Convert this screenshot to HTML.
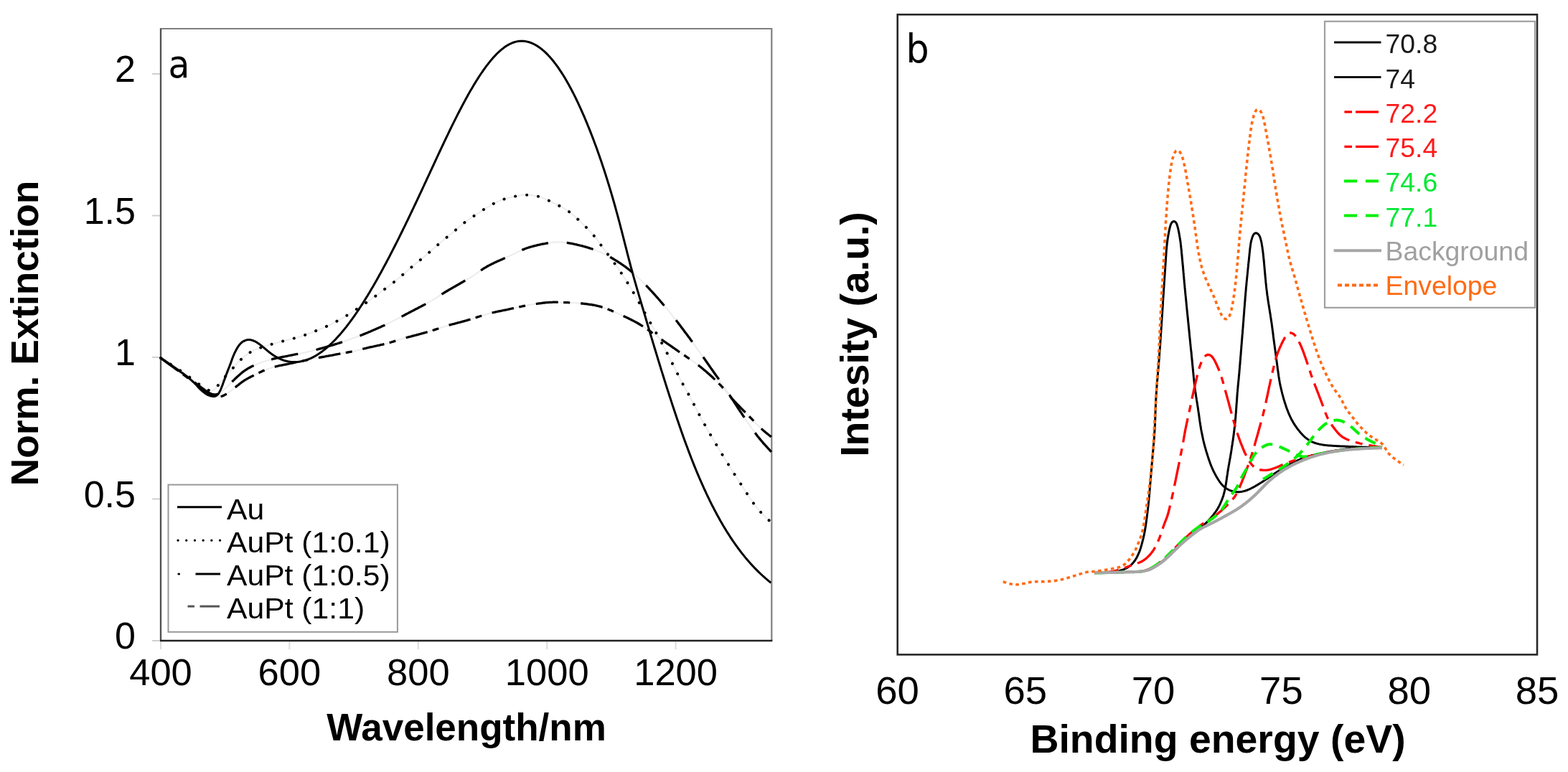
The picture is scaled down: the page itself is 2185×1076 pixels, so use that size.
<!DOCTYPE html><html><head><meta charset="utf-8"><title>Figure</title><style>html,body{margin:0;padding:0;background:#fff;}svg{display:block;}text{font-family:"Liberation Sans",Arial,sans-serif;}</style></head><body>
<svg width="2185" height="1076" viewBox="0 0 2185 1076">
<rect width="2185" height="1076" fill="#fff"/>
<line x1="212" y1="893.0" x2="224" y2="893.0" stroke="#d0d0d0" stroke-width="2"/>
<line x1="212" y1="695.5" x2="224" y2="695.5" stroke="#d0d0d0" stroke-width="2"/>
<line x1="212" y1="498.0" x2="224" y2="498.0" stroke="#d0d0d0" stroke-width="2"/>
<line x1="212" y1="300.5" x2="224" y2="300.5" stroke="#d0d0d0" stroke-width="2"/>
<line x1="212" y1="103.0" x2="224" y2="103.0" stroke="#d0d0d0" stroke-width="2"/>
<line x1="224.0" y1="894" x2="224.0" y2="905" stroke="#dcdcdc" stroke-width="2"/>
<line x1="403.4" y1="894" x2="403.4" y2="905" stroke="#dcdcdc" stroke-width="2"/>
<line x1="582.8" y1="894" x2="582.8" y2="905" stroke="#dcdcdc" stroke-width="2"/>
<line x1="762.2" y1="894" x2="762.2" y2="905" stroke="#dcdcdc" stroke-width="2"/>
<line x1="941.6" y1="894" x2="941.6" y2="905" stroke="#dcdcdc" stroke-width="2"/>
<path d="M224.0 893.0 V40.0 H1075.3 V893.0" fill="none" stroke="#808080" stroke-width="2.2"/>
<line x1="224.0" y1="40.0" x2="224.0" y2="893.0" stroke="#505050" stroke-width="2.2"/>
<line x1="223.0" y1="893.0" x2="1076.3" y2="893.0" stroke="#222" stroke-width="2.4"/>
<text x="189" y="904.0" font-size="52" text-anchor="end" fill="#000">0</text>
<text x="189" y="706.5" font-size="52" text-anchor="end" fill="#000">0.5</text>
<text x="189" y="509.0" font-size="52" text-anchor="end" fill="#000">1</text>
<text x="189" y="311.5" font-size="52" text-anchor="end" fill="#000">1.5</text>
<text x="189" y="114.0" font-size="52" text-anchor="end" fill="#000">2</text>
<text x="224.0" y="954.5" font-size="52.5" text-anchor="middle" fill="#000">400</text>
<text x="403.4" y="954.5" font-size="52.5" text-anchor="middle" fill="#000">600</text>
<text x="582.8" y="954.5" font-size="52.5" text-anchor="middle" fill="#000">800</text>
<text x="762.2" y="954.5" font-size="52.5" text-anchor="middle" fill="#000">1000</text>
<text x="941.6" y="954.5" font-size="52.5" text-anchor="middle" fill="#000">1200</text>
<text x="650" y="1032" font-size="53" font-weight="bold" text-anchor="middle" fill="#000">Wavelength/nm</text>
<text transform="translate(52.8,464.5) rotate(-90)" font-size="53.2" font-weight="bold" text-anchor="middle" fill="#000">Norm. Extinction</text>
<text transform="translate(234.5,108) scale(0.92,1)" x="0" y="0" font-size="53" style="font-family:DejaVu Sans,sans-serif" fill="#000">a</text>
<path d="M224.0 499.0L225.3 499.8L226.5 500.6L227.8 501.4L229.1 502.2L230.4 503.0L231.6 503.8L232.9 504.6L234.2 505.4L235.5 506.2L236.7 507.0L238.0 507.8L239.3 508.6L240.5 509.4L241.8 510.2L243.1 511.0L244.3 511.8L245.6 512.6L246.8 513.5L248.1 514.3L249.3 515.1L250.6 516.0L251.8 516.8L253.0 517.7L254.3 518.5L255.5 519.4L256.7 520.3L258.0 521.1L259.2 522.0L260.4 522.9L261.6 523.8L262.8 524.7L264.0 525.6L265.2 526.5L266.4 527.4L267.6 528.2L268.8 529.1L270.1 530.0L271.3 530.9L272.5 531.8L273.7 532.7L274.9 533.6L276.1 534.5L277.3 535.4L278.5 536.3L279.7 537.1L281.0 538.0L282.2 538.9L283.4 539.7L284.6 540.6L285.9 541.4L287.1 542.1L288.4 542.8L289.6 543.4L290.9 543.9L292.1 544.3L293.3 544.4L294.5 544.4L295.7 544.2L296.8 543.8L297.9 543.3L298.9 542.5L299.9 541.7L300.8 540.7L301.8 539.6L302.7 538.5L303.6 537.4L304.5 536.2L305.5 535.0L306.4 533.8L307.3 532.7L308.3 531.5L309.2 530.3L310.2 529.2L311.1 528.0L312.1 526.9L313.1 525.8L314.1 524.6L315.1 523.5L316.1 522.4L317.1 521.3L318.1 520.2L319.1 519.1L320.2 518.0L321.2 516.9L322.2 515.7L323.2 514.6L324.2 513.5L325.1 512.4L326.1 511.2L327.1 510.1L328.1 509.0L329.1 507.9L330.1 506.8L331.1 505.6L332.2 504.6L333.2 503.5L334.3 502.4L335.4 501.4L336.5 500.4L337.6 499.4L338.7 498.4L339.8 497.4L341.0 496.5L342.2 495.6L343.4 494.6L344.6 493.8L345.8 492.9L347.1 492.1L348.3 491.3L349.6 490.5L350.9 489.8L352.2 489.1L353.6 488.4L354.9 487.8L356.3 487.2L357.7 486.6L359.1 486.1L360.5 485.5L361.9 485.0L363.3 484.5L364.7 484.0L366.1 483.5L367.5 483.1L369.0 482.6L370.4 482.2L371.8 481.7L373.3 481.3L374.7 480.9L376.2 480.4L377.6 480.0L379.1 479.6L380.5 479.2L381.9 478.8L383.4 478.4L384.8 478.0L386.3 477.6L387.7 477.2L389.2 476.8L390.6 476.4L392.1 476.1L393.5 475.7L395.0 475.3L396.5 474.9L397.9 474.6L399.4 474.2L400.8 473.8L402.3 473.5L403.7 473.1L405.2 472.7L406.6 472.4L408.1 472.0L409.6 471.6L411.0 471.2L412.5 470.9L413.9 470.5L415.4 470.1L416.8 469.6L418.2 469.2L419.7 468.8L421.1 468.3L422.5 467.8L423.9 467.3L425.3 466.8L426.7 466.3L428.2 465.8L429.6 465.2L431.0 464.7L432.4 464.2L433.8 463.6L435.2 463.1L436.6 462.6L438.0 462.0L439.4 461.5L440.8 460.9L442.2 460.4L443.6 459.8L445.0 459.3L446.4 458.7L447.7 458.1L449.1 457.6L450.5 457.0L451.9 456.3L453.2 455.7L454.6 455.1L456.0 454.5L457.3 453.8L458.7 453.2L460.0 452.5L461.4 451.8L462.7 451.2L464.0 450.5L465.4 449.8L466.7 449.1L468.0 448.4L469.4 447.7L470.7 447.0L472.0 446.3L473.3 445.5L474.6 444.8L475.9 444.1L477.2 443.3L478.5 442.6L479.8 441.8L481.1 441.0L482.4 440.3L483.7 439.5L485.0 438.7L486.2 437.9L487.5 437.1L488.8 436.3L490.0 435.5L491.3 434.7L492.5 433.8L493.8 433.0L495.1 432.2L496.3 431.3L497.5 430.5L498.8 429.7L500.0 428.8L501.3 428.0L502.5 427.2L503.8 426.3L505.0 425.5L506.3 424.6L507.5 423.8L508.7 422.9L510.0 422.1L511.2 421.2L512.4 420.4L513.7 419.5L514.9 418.7L516.1 417.8L517.4 416.9L518.6 416.1L519.8 415.2L521.0 414.3L522.2 413.4L523.4 412.5L524.7 411.6L525.9 410.7L527.1 409.8L528.2 408.9L529.4 408.0L530.6 407.1L531.8 406.2L533.0 405.3L534.2 404.4L535.4 403.5L536.6 402.6L537.8 401.7L539.0 400.8L540.2 399.9L541.5 399.0L542.7 398.1L543.8 397.2L545.0 396.3L546.2 395.4L547.4 394.4L548.6 393.5L549.8 392.6L550.9 391.6L552.1 390.7L553.2 389.7L554.4 388.7L555.5 387.8L556.7 386.8L557.8 385.8L559.0 384.8L560.1 383.9L561.2 382.9L562.4 381.9L563.5 380.9L564.6 379.9L565.8 378.9L566.9 378.0L568.0 377.0L569.2 376.0L570.3 375.0L571.4 374.0L572.6 373.0L573.7 372.1L574.9 371.1L576.0 370.1L577.2 369.2L578.3 368.2L579.5 367.3L580.6 366.3L581.8 365.4L583.0 364.4L584.1 363.5L585.3 362.5L586.5 361.6L587.6 360.6L588.8 359.7L590.0 358.7L591.1 357.8L592.3 356.8L593.4 355.8L594.5 354.8L595.7 353.9L596.8 352.9L598.0 351.9L599.1 350.9L600.2 349.9L601.4 348.9L602.5 347.9L603.6 347.0L604.7 346.0L605.9 345.0L607.0 344.0L608.1 343.0L609.3 342.0L610.4 341.0L611.5 340.1L612.7 339.1L613.8 338.1L615.0 337.1L616.1 336.2L617.2 335.2L618.4 334.2L619.6 333.3L620.7 332.3L621.9 331.3L623.0 330.4L624.2 329.4L625.4 328.5L626.5 327.6L627.7 326.6L628.9 325.7L630.0 324.7L631.2 323.7L632.3 322.8L633.5 321.8L634.6 320.9L635.8 319.9L636.9 318.9L638.0 317.9L639.2 316.9L640.3 316.0L641.5 315.0L642.6 314.0L643.8 313.1L644.9 312.1L646.1 311.2L647.3 310.2L648.4 309.3L649.6 308.4L650.9 307.5L652.1 306.6L653.3 305.8L654.5 304.9L655.8 304.1L657.0 303.3L658.3 302.4L659.5 301.6L660.8 300.8L662.1 300.0L663.3 299.2L664.6 298.3L665.8 297.5L667.1 296.7L668.3 295.8L669.6 295.0L670.8 294.2L672.1 293.4L673.3 292.5L674.6 291.7L675.9 290.9L677.1 290.1L678.4 289.3L679.7 288.5L681.0 287.8L682.3 287.0L683.5 286.2L684.8 285.5L686.1 284.7L687.5 284.0L688.8 283.3L690.1 282.6L691.5 282.0L692.8 281.3L694.2 280.7L695.6 280.1L696.9 279.5L698.3 279.0L699.7 278.5L701.2 278.0L702.6 277.5L704.0 277.0L705.4 276.6L706.9 276.2L708.3 275.8L709.8 275.4L711.2 275.1L712.7 274.7L714.2 274.4L715.6 274.1L717.1 273.8L718.6 273.5L720.1 273.2L721.5 273.0L723.0 272.7L724.5 272.5L726.0 272.3L727.5 272.1L729.0 272.0L730.4 271.9L731.9 271.8L733.4 271.7L734.9 271.7L736.4 271.7L737.9 271.8L739.4 271.9L740.9 272.0L742.4 272.2L743.8 272.4L745.3 272.7L746.8 273.0L748.2 273.3L749.7 273.7L751.1 274.1L752.5 274.6L753.9 275.1L755.4 275.6L756.8 276.1L758.2 276.7L759.5 277.2L760.9 277.8L762.3 278.4L763.7 279.0L765.0 279.7L766.4 280.3L767.7 281.0L769.1 281.6L770.4 282.3L771.7 283.0L773.1 283.7L774.4 284.4L775.8 285.0L777.1 285.7L778.4 286.4L779.8 287.1L781.1 287.8L782.4 288.5L783.8 289.2L785.1 289.9L786.4 290.6L787.6 291.4L788.9 292.2L790.2 293.0L791.4 293.9L792.6 294.8L793.8 295.7L795.0 296.6L796.1 297.5L797.3 298.5L798.4 299.5L799.6 300.4L800.7 301.4L801.8 302.4L802.9 303.4L804.0 304.5L805.1 305.5L806.2 306.5L807.3 307.5L808.4 308.5L809.5 309.6L810.6 310.6L811.7 311.7L812.8 312.7L813.8 313.8L814.9 314.8L815.9 315.9L817.0 317.0L818.0 318.0L819.1 319.1L820.1 320.2L821.2 321.3L822.2 322.4L823.2 323.5L824.2 324.6L825.2 325.7L826.2 326.9L827.2 328.0L828.1 329.1L829.1 330.3L830.0 331.5L831.0 332.6L831.9 333.8L832.8 335.0L833.7 336.2L834.5 337.5L835.4 338.7L836.3 339.9L837.1 341.1L838.0 342.4L838.9 343.6L839.8 344.8L840.6 346.0L841.5 347.2L842.4 348.4L843.3 349.6L844.2 350.8L845.1 352.0L846.1 353.2L847.0 354.4L847.9 355.6L848.8 356.8L849.7 358.0L850.6 359.2L851.5 360.4L852.4 361.6L853.3 362.8L854.2 364.0L855.1 365.2L855.9 366.4L856.8 367.7L857.7 368.9L858.6 370.1L859.4 371.3L860.3 372.6L861.2 373.8L862.0 375.0L862.9 376.3L863.7 377.5L864.5 378.7L865.4 380.0L866.2 381.2L867.0 382.5L867.9 383.8L868.7 385.0L869.5 386.3L870.3 387.5L871.1 388.8L871.9 390.1L872.7 391.4L873.5 392.6L874.3 393.9L875.0 395.2L875.8 396.5L876.6 397.8L877.4 399.1L878.1 400.3L878.9 401.6L879.7 402.9L880.5 404.2L881.2 405.5L882.0 406.8L882.8 408.1L883.5 409.4L884.3 410.7L885.0 412.0L885.8 413.3L886.5 414.6L887.3 415.9L888.0 417.2L888.8 418.5L889.5 419.8L890.2 421.1L891.0 422.4L891.7 423.7L892.4 425.0L893.2 426.4L893.9 427.7L894.6 429.0L895.3 430.3L896.1 431.6L896.8 432.9L897.5 434.2L898.2 435.6L899.0 436.9L899.7 438.2L900.4 439.5L901.2 440.8L901.9 442.1L902.6 443.4L903.4 444.7L904.1 446.0L904.8 447.3L905.6 448.6L906.3 450.0L907.1 451.3L907.8 452.6L908.6 453.9L909.3 455.2L910.1 456.5L910.8 457.8L911.6 459.1L912.3 460.4L913.1 461.7L913.8 463.0L914.6 464.3L915.3 465.6L916.0 466.9L916.8 468.2L917.5 469.5L918.2 470.8L918.9 472.1L919.7 473.5L920.4 474.8L921.1 476.1L921.8 477.4L922.5 478.7L923.2 480.1L923.9 481.4L924.6 482.7L925.3 484.1L926.0 485.4L926.7 486.7L927.4 488.1L928.1 489.4L928.8 490.7L929.5 492.1L930.2 493.4L930.9 494.7L931.5 496.1L932.2 497.4L932.9 498.7L933.6 500.1L934.3 501.4L935.0 502.7L935.6 504.1L936.3 505.4L937.0 506.8L937.7 508.1L938.3 509.4L939.0 510.8L939.7 512.1L940.4 513.5L941.0 514.8L941.7 516.2L942.4 517.5L943.0 518.9L943.7 520.2L944.4 521.5L945.1 522.9L945.8 524.2L946.4 525.6L947.1 526.9L947.8 528.2L948.5 529.5L949.2 530.9L949.9 532.2L950.6 533.5L951.3 534.9L952.0 536.2L952.8 537.5L953.5 538.8L954.2 540.1L954.9 541.4L955.6 542.8L956.4 544.1L957.1 545.4L957.8 546.7L958.5 548.0L959.3 549.3L960.0 550.7L960.7 552.0L961.4 553.3L962.1 554.6L962.9 555.9L963.6 557.3L964.3 558.6L965.0 559.9L965.7 561.2L966.4 562.6L967.1 563.9L967.8 565.2L968.5 566.5L969.2 567.9L969.9 569.2L970.6 570.5L971.3 571.9L971.9 573.2L972.6 574.5L973.3 575.9L974.0 577.2L974.7 578.5L975.4 579.9L976.1 581.2L976.8 582.5L977.6 583.8L978.3 585.2L979.0 586.5L979.7 587.8L980.4 589.1L981.2 590.4L981.9 591.7L982.6 593.0L983.4 594.3L984.1 595.6L984.9 597.0L985.6 598.3L986.3 599.6L987.1 600.9L987.8 602.2L988.6 603.5L989.4 604.8L990.1 606.1L990.9 607.3L991.6 608.6L992.4 609.9L993.2 611.2L993.9 612.5L994.7 613.8L995.4 615.1L996.2 616.4L997.0 617.7L997.7 619.0L998.5 620.3L999.3 621.6L1000.0 622.9L1000.8 624.2L1001.6 625.4L1002.3 626.7L1003.1 628.0L1003.9 629.3L1004.7 630.6L1005.4 631.9L1006.2 633.2L1007.0 634.5L1007.8 635.7L1008.6 637.0L1009.3 638.3L1010.1 639.6L1010.9 640.9L1011.7 642.1L1012.5 643.4L1013.3 644.7L1014.1 646.0L1014.9 647.2L1015.7 648.5L1016.5 649.8L1017.3 651.1L1018.1 652.3L1018.9 653.6L1019.7 654.9L1020.5 656.1L1021.3 657.4L1022.1 658.7L1022.9 659.9L1023.7 661.2L1024.5 662.5L1025.3 663.7L1026.1 665.0L1026.9 666.3L1027.8 667.5L1028.6 668.8L1029.4 670.0L1030.2 671.3L1031.0 672.6L1031.8 673.8L1032.6 675.1L1033.4 676.4L1034.3 677.6L1035.1 678.9L1035.9 680.1L1036.7 681.4L1037.5 682.7L1038.3 683.9L1039.1 685.2L1040.0 686.4L1040.8 687.7L1041.6 689.0L1042.4 690.2L1043.2 691.5L1044.1 692.7L1044.9 694.0L1045.7 695.2L1046.6 696.5L1047.4 697.7L1048.3 698.9L1049.2 700.2L1050.0 701.4L1050.9 702.6L1051.8 703.8L1052.7 705.0L1053.6 706.2L1054.6 707.4L1055.5 708.5L1056.5 709.7L1057.4 710.8L1058.4 711.9L1059.4 713.1L1060.4 714.2L1061.5 715.3L1062.5 716.4L1063.5 717.4L1064.6 718.5L1065.7 719.6L1066.7 720.6L1067.8 721.7L1068.9 722.7L1070.0 723.7L1071.1 724.8L1072.2 725.8L1073.3 726.8L1074.4 727.8" fill="none" stroke="#ececec" stroke-width="2"/>
<path d="M224.0 499.0L225.2 499.9L226.5 500.7L227.7 501.5L228.9 502.4L230.2 503.2L231.4 504.1L232.7 504.9L233.9 505.8L235.1 506.6L236.4 507.5L237.6 508.3L238.8 509.2L240.1 510.1L241.3 510.9L242.5 511.8L243.8 512.6L245.0 513.5L246.2 514.4L247.4 515.2L248.7 516.1L249.9 517.0L251.1 517.8L252.3 518.7L253.5 519.6L254.7 520.5L255.9 521.4L257.1 522.3L258.4 523.2L259.6 524.1L260.8 525.0L261.9 525.9L263.1 526.8L264.3 527.7L265.5 528.6L266.7 529.5L267.9 530.4L269.1 531.3L270.3 532.2L271.5 533.2L272.7 534.1L273.9 535.0L275.1 535.9L276.3 536.8L277.4 537.7L278.6 538.6L279.8 539.6L281.0 540.5L282.2 541.4L283.4 542.2L284.7 543.1L285.9 544.0L287.1 544.8L288.4 545.6L289.6 546.4L290.9 547.2L292.2 547.9L293.5 548.5L294.8 549.0L296.1 549.4L297.5 549.7L298.8 549.9L300.1 549.9L301.5 549.7L302.8 549.4L304.0 548.9L305.3 548.3L306.5 547.6L307.7 546.8L308.9 545.9L310.0 545.0L311.2 544.0L312.3 543.0L313.4 542.0L314.4 541.0L315.5 539.9L316.6 538.9L317.6 537.8L318.7 536.8L319.8 535.7L320.8 534.6L321.9 533.6L323.0 532.5L324.0 531.5L325.1 530.4L326.2 529.4L327.3 528.3L328.3 527.3L329.4 526.3L330.5 525.3L331.6 524.2L332.8 523.2L333.9 522.2L335.0 521.3L336.2 520.3L337.3 519.3L338.5 518.4L339.7 517.5L340.9 516.6L342.1 515.8L343.4 515.0L344.6 514.2L345.9 513.4L347.2 512.7L348.5 512.0L349.9 511.3L351.2 510.6L352.6 510.0L353.9 509.4L355.3 508.8L356.7 508.2L358.1 507.6L359.5 507.0L360.8 506.5L362.2 506.0L363.7 505.4L365.1 504.9L366.5 504.4L367.9 503.9L369.3 503.4L370.7 503.0L372.2 502.5L373.6 502.1L375.0 501.7L376.5 501.3L377.9 500.9L379.4 500.6L380.9 500.2L382.3 499.9L383.8 499.6L385.2 499.2L386.7 498.9L388.2 498.6L389.7 498.3L391.1 498.0L392.6 497.7L394.1 497.4L395.5 497.1L397.0 496.9L398.5 496.6L400.0 496.3L401.4 496.0L402.9 495.7L404.4 495.4L405.8 495.1L407.3 494.8L408.8 494.5L410.3 494.2L411.7 493.9L413.2 493.7L414.7 493.4L416.1 493.1L417.6 492.8L419.1 492.5L420.6 492.2L422.0 491.9L423.5 491.6L425.0 491.2L426.4 490.9L427.9 490.6L429.4 490.3L430.8 489.9L432.3 489.6L433.7 489.2L435.2 488.9L436.6 488.5L438.1 488.1L439.6 487.8L441.0 487.4L442.5 487.0L443.9 486.6L445.3 486.2L446.8 485.8L448.2 485.4L449.7 485.0L451.1 484.6L452.6 484.2L454.0 483.7L455.4 483.3L456.9 482.9L458.3 482.5L459.8 482.0L461.2 481.6L462.6 481.2L464.1 480.8L465.5 480.3L466.9 479.9L468.4 479.4L469.8 479.0L471.2 478.5L472.7 478.1L474.1 477.6L475.5 477.2L476.9 476.7L478.4 476.2L479.8 475.7L481.2 475.3L482.6 474.8L484.1 474.3L485.5 473.8L486.9 473.3L488.3 472.8L489.7 472.3L491.1 471.8L492.5 471.3L494.0 470.8L495.4 470.3L496.8 469.7L498.2 469.2L499.6 468.7L501.0 468.1L502.4 467.6L503.8 467.0L505.2 466.5L506.6 465.9L508.0 465.4L509.3 464.8L510.7 464.2L512.1 463.7L513.5 463.1L514.9 462.5L516.3 461.9L517.6 461.3L519.0 460.7L520.4 460.1L521.8 459.5L523.1 458.9L524.5 458.3L525.9 457.7L527.3 457.1L528.6 456.5L530.0 455.9L531.4 455.2L532.7 454.6L534.1 454.0L535.5 453.4L536.8 452.7L538.2 452.1L539.5 451.5L540.9 450.8L542.2 450.2L543.6 449.5L544.9 448.9L546.3 448.2L547.6 447.5L549.0 446.8L550.3 446.2L551.6 445.5L553.0 444.8L554.3 444.1L555.6 443.4L556.9 442.7L558.3 442.0L559.6 441.3L560.9 440.6L562.2 439.9L563.6 439.2L564.9 438.5L566.2 437.8L567.5 437.1L568.9 436.4L570.2 435.7L571.5 435.0L572.9 434.3L574.2 433.6L575.5 432.9L576.9 432.2L578.2 431.5L579.5 430.8L580.9 430.2L582.2 429.5L583.5 428.8L584.9 428.1L586.2 427.4L587.5 426.7L588.8 426.0L590.2 425.3L591.5 424.6L592.8 423.9L594.1 423.1L595.4 422.4L596.8 421.7L598.1 421.0L599.4 420.2L600.7 419.5L602.0 418.7L603.2 417.9L604.5 417.1L605.8 416.4L607.1 415.6L608.3 414.8L609.6 414.0L610.9 413.1L612.1 412.3L613.4 411.5L614.7 410.7L615.9 409.9L617.2 409.1L618.5 408.3L619.7 407.5L621.0 406.8L622.3 406.0L623.6 405.2L624.9 404.5L626.2 403.7L627.5 402.9L628.8 402.2L630.1 401.4L631.4 400.7L632.7 399.9L634.0 399.2L635.3 398.5L636.6 397.7L637.9 397.0L639.2 396.2L640.5 395.5L641.8 394.7L643.1 394.0L644.4 393.2L645.7 392.5L647.0 391.7L648.3 391.0L649.6 390.2L650.9 389.5L652.2 388.7L653.5 387.9L654.7 387.2L656.0 386.4L657.3 385.6L658.6 384.8L659.8 383.9L661.1 383.1L662.3 382.3L663.5 381.4L664.8 380.6L666.0 379.7L667.2 378.8L668.5 378.0L669.7 377.1L670.9 376.3L672.2 375.5L673.4 374.6L674.7 373.8L676.0 373.1L677.3 372.3L678.6 371.5L679.9 370.8L681.2 370.1L682.5 369.4L683.9 368.7L685.2 368.1L686.5 367.4L687.9 366.7L689.2 366.1L690.6 365.5L692.0 364.8L693.3 364.2L694.7 363.6L696.1 363.0L697.4 362.4L698.8 361.8L700.2 361.2L701.6 360.5L702.9 359.9L704.3 359.3L705.7 358.7L707.0 358.1L708.4 357.5L709.8 356.9L711.1 356.3L712.5 355.6L713.9 355.0L715.2 354.4L716.6 353.7L717.9 353.1L719.3 352.4L720.6 351.7L722.0 351.1L723.3 350.4L724.7 349.8L726.0 349.2L727.4 348.5L728.8 347.9L730.1 347.4L731.5 346.8L732.9 346.3L734.4 345.8L735.8 345.3L737.2 344.8L738.6 344.4L740.1 344.0L741.5 343.6L743.0 343.2L744.4 342.8L745.9 342.4L747.3 342.1L748.8 341.7L750.2 341.4L751.7 341.1L753.2 340.7L754.6 340.4L756.1 340.1L757.6 339.8L759.0 339.6L760.5 339.3L762.0 339.0L763.5 338.8L765.0 338.5L766.4 338.3L767.9 338.1L769.4 337.9L770.9 337.8L772.4 337.6L773.9 337.5L775.4 337.5L776.9 337.4L778.4 337.4L779.9 337.4L781.4 337.4L782.8 337.5L784.3 337.6L785.8 337.8L787.3 337.9L788.8 338.1L790.3 338.3L791.8 338.6L793.2 338.8L794.7 339.1L796.2 339.4L797.7 339.7L799.1 340.0L800.6 340.3L802.1 340.6L803.5 340.9L805.0 341.3L806.4 341.6L807.9 342.0L809.4 342.3L810.8 342.7L812.3 343.1L813.7 343.5L815.1 343.9L816.6 344.3L818.0 344.7L819.5 345.2L820.9 345.6L822.3 346.1L823.8 346.5L825.2 347.0L826.6 347.5L828.0 348.0L829.4 348.5L830.8 349.1L832.2 349.6L833.6 350.2L835.0 350.7L836.4 351.3L837.7 351.9L839.1 352.6L840.4 353.2L841.8 353.8L843.1 354.5L844.5 355.2L845.8 355.9L847.1 356.6L848.5 357.3L849.8 358.0L851.1 358.8L852.4 359.5L853.7 360.3L855.0 361.0L856.2 361.8L857.5 362.6L858.8 363.4L860.1 364.2L861.3 365.0L862.6 365.8L863.9 366.6L865.1 367.4L866.3 368.3L867.6 369.1L868.8 370.0L870.0 370.9L871.2 371.7L872.4 372.6L873.6 373.5L874.8 374.4L876.0 375.4L877.2 376.3L878.3 377.3L879.5 378.2L880.7 379.2L881.8 380.1L882.9 381.1L884.0 382.1L885.2 383.1L886.3 384.1L887.4 385.1L888.5 386.2L889.6 387.2L890.7 388.2L891.7 389.3L892.8 390.3L893.9 391.4L895.0 392.4L896.0 393.5L897.1 394.5L898.1 395.6L899.2 396.7L900.2 397.8L901.3 398.8L902.3 399.9L903.4 401.0L904.4 402.1L905.4 403.2L906.4 404.3L907.5 405.4L908.5 406.5L909.5 407.6L910.5 408.7L911.5 409.8L912.5 410.9L913.5 412.0L914.5 413.2L915.5 414.3L916.5 415.4L917.5 416.5L918.5 417.7L919.4 418.8L920.4 420.0L921.4 421.1L922.4 422.2L923.3 423.4L924.3 424.5L925.3 425.7L926.2 426.8L927.2 428.0L928.2 429.1L929.1 430.3L930.1 431.4L931.0 432.6L932.0 433.7L932.9 434.9L933.9 436.1L934.8 437.2L935.8 438.4L936.7 439.6L937.7 440.7L938.6 441.9L939.5 443.1L940.5 444.2L941.4 445.4L942.3 446.6L943.2 447.8L944.2 449.0L945.1 450.2L946.0 451.4L946.9 452.6L947.8 453.8L948.7 455.0L949.6 456.2L950.5 457.4L951.4 458.6L952.3 459.8L953.2 461.0L954.1 462.2L955.0 463.4L955.9 464.6L956.8 465.8L957.7 467.0L958.6 468.2L959.5 469.4L960.4 470.6L961.3 471.8L962.1 473.0L963.0 474.2L963.9 475.4L964.8 476.6L965.7 477.8L966.6 479.1L967.5 480.3L968.3 481.5L969.2 482.7L970.1 483.9L971.0 485.1L971.8 486.4L972.7 487.6L973.6 488.8L974.5 490.0L975.3 491.2L976.2 492.5L977.1 493.7L978.0 494.9L978.8 496.1L979.7 497.4L980.5 498.6L981.4 499.8L982.3 501.0L983.1 502.3L984.0 503.5L984.8 504.7L985.7 506.0L986.6 507.2L987.4 508.4L988.3 509.7L989.1 510.9L990.0 512.1L990.8 513.4L991.7 514.6L992.6 515.8L993.4 517.0L994.3 518.3L995.2 519.5L996.0 520.7L996.9 521.9L997.8 523.2L998.6 524.4L999.5 525.6L1000.4 526.8L1001.3 528.0L1002.2 529.2L1003.0 530.5L1003.9 531.7L1004.8 532.9L1005.6 534.1L1006.5 535.4L1007.3 536.6L1008.2 537.8L1009.0 539.1L1009.9 540.3L1010.7 541.6L1011.5 542.8L1012.3 544.1L1013.2 545.3L1014.0 546.6L1014.8 547.8L1015.6 549.1L1016.5 550.4L1017.3 551.6L1018.1 552.9L1018.9 554.1L1019.7 555.4L1020.5 556.6L1021.4 557.9L1022.2 559.2L1023.0 560.4L1023.8 561.7L1024.6 562.9L1025.5 564.2L1026.3 565.4L1027.1 566.7L1027.9 568.0L1028.8 569.2L1029.6 570.5L1030.4 571.7L1031.2 573.0L1032.1 574.2L1032.9 575.4L1033.8 576.7L1034.6 577.9L1035.4 579.2L1036.3 580.4L1037.1 581.7L1037.9 582.9L1038.8 584.2L1039.6 585.4L1040.5 586.6L1041.3 587.9L1042.2 589.1L1043.0 590.4L1043.9 591.6L1044.7 592.8L1045.6 594.1L1046.4 595.3L1047.3 596.5L1048.1 597.7L1049.0 599.0L1049.9 600.2L1050.8 601.4L1051.7 602.6L1052.6 603.8L1053.5 605.0L1054.4 606.2L1055.3 607.4L1056.2 608.6L1057.2 609.7L1058.1 610.9L1059.1 612.1L1060.0 613.2L1061.0 614.4L1062.0 615.5L1062.9 616.6L1063.9 617.8L1064.9 618.9L1065.9 620.0L1066.9 621.1L1067.9 622.2L1068.9 623.3L1069.9 624.5L1071.0 625.6L1072.0 626.7L1073.0 627.8L1074.0 628.9L1075.0 630.0" fill="none" stroke="#ececec" stroke-width="2"/>
<path d="M224.0 499.0L225.2 499.9L226.4 500.8L227.6 501.7L228.9 502.5L230.1 503.4L231.3 504.3L232.5 505.2L233.7 506.1L234.9 507.0L236.1 507.8L237.4 508.7L238.6 509.6L239.8 510.5L241.0 511.4L242.2 512.3L243.4 513.2L244.6 514.1L245.8 514.9L247.0 515.8L248.3 516.7L249.5 517.6L250.7 518.5L251.9 519.4L253.1 520.3L254.3 521.2L255.5 522.1L256.7 523.0L257.9 523.9L259.1 524.8L260.3 525.7L261.5 526.6L262.7 527.5L263.9 528.4L265.1 529.3L266.3 530.2L267.5 531.1L268.7 532.0L269.9 533.0L271.1 533.9L272.2 534.8L273.4 535.8L274.6 536.7L275.8 537.6L276.9 538.6L278.1 539.5L279.3 540.4L280.5 541.4L281.6 542.3L282.8 543.2L284.0 544.1L285.2 545.0L286.5 545.9L287.7 546.7L288.9 547.5L290.2 548.3L291.5 549.1L292.8 549.8L294.1 550.5L295.4 551.1L296.8 551.6L298.2 552.1L299.6 552.5L301.0 552.8L302.4 552.9L303.8 553.0L305.3 552.9L306.7 552.7L308.1 552.5L309.4 552.1L310.8 551.6L312.1 551.0L313.4 550.3L314.7 549.6L316.0 548.8L317.2 548.0L318.4 547.1L319.7 546.3L320.9 545.4L322.1 544.5L323.3 543.6L324.4 542.6L325.6 541.7L326.8 540.8L328.0 539.8L329.1 538.9L330.3 537.9L331.5 537.0L332.6 536.1L333.8 535.1L335.0 534.2L336.2 533.3L337.4 532.4L338.6 531.6L339.9 530.7L341.1 529.9L342.4 529.1L343.7 528.4L345.0 527.6L346.3 526.9L347.6 526.2L349.0 525.5L350.3 524.8L351.6 524.2L353.0 523.5L354.3 522.8L355.7 522.1L357.0 521.4L358.4 520.8L359.7 520.1L361.0 519.5L362.4 518.8L363.8 518.2L365.1 517.5L366.5 516.9L367.9 516.4L369.3 515.8L370.7 515.2L372.1 514.7L373.5 514.2L374.9 513.7L376.3 513.2L377.7 512.7L379.2 512.3L380.6 511.9L382.0 511.5L383.5 511.1L385.0 510.7L386.4 510.4L387.9 510.0L389.3 509.7L390.8 509.4L392.3 509.1L393.8 508.8L395.2 508.5L396.7 508.2L398.2 508.0L399.6 507.7L401.1 507.3L402.6 507.0L404.1 506.7L405.5 506.4L407.0 506.1L408.5 505.8L409.9 505.5L411.4 505.2L412.9 504.9L414.3 504.6L415.8 504.2L417.3 503.9L418.8 503.6L420.2 503.3L421.7 503.0L423.2 502.7L424.6 502.4L426.1 502.1L427.6 501.8L429.0 501.4L430.5 501.1L432.0 500.8L433.5 500.5L434.9 500.2L436.4 499.9L437.9 499.7L439.3 499.4L440.8 499.1L442.3 498.8L443.8 498.6L445.3 498.3L446.7 498.0L448.2 497.8L449.7 497.5L451.2 497.3L452.7 497.0L454.1 496.7L455.6 496.4L457.1 496.2L458.6 495.9L460.0 495.6L461.5 495.3L463.0 495.1L464.5 494.8L465.9 494.5L467.4 494.2L468.9 493.9L470.4 493.6L471.8 493.4L473.3 493.1L474.8 492.8L476.3 492.5L477.7 492.3L479.2 492.0L480.7 491.7L482.2 491.5L483.7 491.2L485.1 491.0L486.6 490.7L488.1 490.4L489.6 490.2L491.1 489.9L492.5 489.6L494.0 489.3L495.5 489.0L496.9 488.7L498.4 488.3L499.8 487.9L501.3 487.5L502.7 487.2L504.2 486.8L505.6 486.4L507.1 486.0L508.5 485.6L510.0 485.3L511.5 484.9L512.9 484.6L514.4 484.2L515.8 483.9L517.3 483.6L518.8 483.3L520.2 483.0L521.7 482.6L523.2 482.3L524.7 482.0L526.1 481.7L527.6 481.4L529.1 481.1L530.5 480.7L532.0 480.4L533.5 480.1L534.9 479.7L536.4 479.4L537.8 479.0L539.3 478.6L540.7 478.2L542.2 477.8L543.6 477.4L545.1 477.0L546.5 476.5L547.9 476.1L549.4 475.6L550.8 475.2L552.2 474.7L553.6 474.3L555.1 473.8L556.5 473.4L558.0 473.0L559.4 472.5L560.8 472.1L562.3 471.7L563.7 471.3L565.2 470.9L566.6 470.5L568.1 470.1L569.5 469.7L571.0 469.4L572.4 469.0L573.9 468.6L575.3 468.2L576.8 467.8L578.2 467.4L579.7 467.1L581.1 466.7L582.6 466.3L584.0 465.9L585.5 465.5L587.0 465.1L588.4 464.7L589.9 464.3L591.3 463.9L592.7 463.5L594.2 463.1L595.6 462.7L597.1 462.3L598.5 461.9L599.9 461.4L601.4 461.0L602.8 460.5L604.2 460.1L605.7 459.6L607.1 459.1L608.5 458.7L610.0 458.2L611.4 457.7L612.8 457.2L614.2 456.8L615.7 456.3L617.1 455.8L618.5 455.4L619.9 454.9L621.4 454.5L622.8 454.0L624.3 453.6L625.7 453.2L627.1 452.8L628.6 452.4L630.0 452.0L631.5 451.6L633.0 451.3L634.4 450.9L635.9 450.5L637.3 450.1L638.8 449.7L640.2 449.4L641.7 449.0L643.1 448.6L644.6 448.2L646.0 447.8L647.5 447.4L648.9 447.0L650.4 446.6L651.8 446.2L653.2 445.7L654.7 445.3L656.1 444.8L657.5 444.4L659.0 444.0L660.4 443.5L661.8 443.0L663.3 442.6L664.7 442.1L666.1 441.7L667.6 441.2L669.0 440.7L670.4 440.3L671.8 439.8L673.3 439.4L674.7 439.0L676.2 438.5L677.6 438.1L679.1 437.7L680.5 437.3L682.0 436.9L683.4 436.6L684.9 436.2L686.3 435.8L687.8 435.5L689.2 435.2L690.7 434.8L692.2 434.5L693.6 434.2L695.1 433.9L696.6 433.6L698.1 433.3L699.5 433.0L701.0 432.7L702.5 432.4L703.9 432.1L705.4 431.8L706.9 431.5L708.4 431.2L709.8 430.8L711.3 430.5L712.8 430.2L714.2 429.9L715.7 429.6L717.2 429.3L718.6 428.9L720.1 428.6L721.6 428.3L723.0 428.0L724.5 427.6L726.0 427.3L727.4 427.0L728.9 426.7L730.4 426.4L731.9 426.1L733.3 425.8L734.8 425.6L736.3 425.3L737.8 425.0L739.2 424.8L740.7 424.5L742.2 424.3L743.7 424.0L745.2 423.8L746.7 423.6L748.1 423.4L749.6 423.2L751.1 422.9L752.6 422.8L754.1 422.6L755.6 422.4L757.1 422.2L758.6 422.0L760.1 421.9L761.6 421.7L763.1 421.6L764.5 421.5L766.0 421.4L767.5 421.3L769.0 421.3L770.5 421.2L772.0 421.2L773.5 421.2L775.0 421.2L776.5 421.2L778.0 421.3L779.5 421.3L781.0 421.3L782.5 421.4L784.0 421.4L785.6 421.5L787.1 421.6L788.6 421.6L790.1 421.7L791.6 421.7L793.1 421.8L794.6 421.8L796.1 421.9L797.6 422.0L799.1 422.1L800.6 422.2L802.1 422.3L803.5 422.4L805.0 422.5L806.5 422.6L808.0 422.8L809.5 422.9L811.0 423.0L812.5 423.2L814.0 423.4L815.5 423.5L817.0 423.7L818.5 423.9L820.0 424.1L821.5 424.3L823.0 424.5L824.4 424.7L825.9 425.0L827.4 425.2L828.9 425.5L830.3 425.8L831.8 426.1L833.3 426.5L834.7 426.8L836.2 427.2L837.6 427.6L839.0 428.1L840.5 428.5L841.9 429.0L843.3 429.5L844.7 430.0L846.1 430.6L847.5 431.1L848.9 431.7L850.3 432.2L851.7 432.8L853.1 433.4L854.4 434.0L855.8 434.6L857.2 435.2L858.6 435.8L859.9 436.4L861.3 437.1L862.7 437.7L864.0 438.3L865.4 438.9L866.8 439.5L868.1 440.2L869.5 440.8L870.9 441.4L872.2 442.1L873.6 442.7L874.9 443.3L876.3 444.0L877.6 444.7L879.0 445.3L880.3 446.0L881.7 446.7L883.0 447.4L884.3 448.1L885.6 448.8L887.0 449.5L888.3 450.2L889.6 451.0L890.9 451.8L892.1 452.5L893.4 453.3L894.7 454.1L896.0 454.9L897.2 455.8L898.5 456.6L899.7 457.4L900.9 458.3L902.2 459.1L903.4 460.0L904.6 460.9L905.9 461.7L907.1 462.6L908.3 463.5L909.5 464.4L910.7 465.2L911.9 466.1L913.2 467.0L914.4 467.9L915.6 468.8L916.8 469.6L918.0 470.5L919.3 471.4L920.5 472.2L921.7 473.1L923.0 474.0L924.2 474.8L925.4 475.7L926.6 476.6L927.9 477.4L929.1 478.3L930.3 479.1L931.6 480.0L932.8 480.9L934.0 481.7L935.3 482.6L936.5 483.4L937.7 484.3L939.0 485.2L940.2 486.0L941.4 486.9L942.6 487.7L943.9 488.6L945.1 489.5L946.3 490.3L947.6 491.2L948.8 492.0L950.1 492.9L951.3 493.7L952.5 494.6L953.8 495.4L955.0 496.2L956.3 497.1L957.5 497.9L958.8 498.8L960.0 499.6L961.3 500.4L962.5 501.3L963.7 502.1L965.0 503.0L966.2 503.9L967.4 504.7L968.6 505.6L969.8 506.5L971.0 507.4L972.2 508.3L973.4 509.2L974.6 510.2L975.8 511.1L977.0 512.0L978.1 513.0L979.3 513.9L980.4 514.9L981.6 515.9L982.7 516.8L983.9 517.8L985.0 518.8L986.1 519.8L987.2 520.8L988.4 521.8L989.5 522.8L990.6 523.8L991.7 524.8L992.8 525.8L993.9 526.9L995.0 527.9L996.1 528.9L997.2 530.0L998.3 531.0L999.3 532.1L1000.4 533.1L1001.5 534.2L1002.5 535.3L1003.5 536.3L1004.6 537.4L1005.6 538.5L1006.6 539.6L1007.6 540.8L1008.6 541.9L1009.5 543.0L1010.5 544.2L1011.5 545.3L1012.4 546.5L1013.4 547.7L1014.3 548.8L1015.3 550.0L1016.3 551.1L1017.2 552.3L1018.2 553.4L1019.2 554.6L1020.2 555.7L1021.2 556.8L1022.2 557.9L1023.2 559.0L1024.2 560.1L1025.3 561.2L1026.3 562.3L1027.3 563.4L1028.4 564.5L1029.4 565.5L1030.5 566.6L1031.5 567.7L1032.6 568.8L1033.6 569.8L1034.7 570.9L1035.7 572.0L1036.8 573.0L1037.9 574.1L1038.9 575.2L1040.0 576.2L1041.0 577.3L1042.1 578.4L1043.2 579.4L1044.2 580.5L1045.3 581.6L1046.3 582.6L1047.4 583.7L1048.4 584.8L1049.5 585.9L1050.5 586.9L1051.5 588.0L1052.6 589.1L1053.6 590.2L1054.7 591.3L1055.7 592.4L1056.8 593.4L1057.8 594.5L1058.9 595.5L1060.0 596.6L1061.1 597.6L1062.2 598.6L1063.3 599.6L1064.4 600.6L1065.6 601.6L1066.7 602.5L1067.9 603.5L1069.0 604.4L1070.2 605.3L1071.4 606.3L1072.6 607.2L1073.8 608.1L1075.0 609.0" fill="none" stroke="#ececec" stroke-width="2"/>
<path d="M224.0 499.0L225.2 499.9L226.4 500.8L227.6 501.7L228.8 502.6L230.0 503.5L231.2 504.4L232.4 505.2L233.7 506.1L234.9 507.0L236.1 507.9L237.3 508.7L238.6 509.6L239.8 510.4L241.1 511.2L242.3 512.1L243.6 512.9L244.8 513.7L246.1 514.5L247.3 515.4L248.6 516.2L249.8 517.0L251.1 517.9L252.3 518.7L253.5 519.6L254.8 520.4L256.0 521.3L257.2 522.2L258.4 523.1L259.6 524.0L260.8 524.9L261.9 525.9L263.1 526.8L264.2 527.8L265.4 528.8L266.5 529.8L267.6 530.8L268.7 531.8L269.8 532.8L270.9 533.9L271.9 534.9L273.0 536.0L274.0 537.1L275.0 538.2L276.0 539.3L277.0 540.5L278.0 541.5L279.1 542.6L280.2 543.6L281.3 544.6L282.5 545.6L283.6 546.5L284.8 547.4L286.0 548.3L287.3 549.1L288.6 549.9L289.9 550.6L291.3 551.2L292.7 551.7L294.1 552.0L295.6 552.3L297.1 552.4L298.5 552.4L300.0 552.1L301.3 551.6L302.5 550.8L303.5 549.8L304.5 548.6L305.3 547.3L306.0 546.1L306.7 544.7L307.4 543.4L307.9 542.0L308.5 540.6L309.0 539.2L309.6 537.8L310.1 536.4L310.6 535.0L311.1 533.6L311.6 532.2L312.1 530.7L312.7 529.3L313.2 527.9L313.7 526.5L314.2 525.1L314.7 523.7L315.2 522.3L315.7 520.9L316.3 519.5L316.8 518.1L317.4 516.7L317.9 515.3L318.5 513.9L319.0 512.5L319.6 511.1L320.1 509.7L320.6 508.3L321.2 506.9L321.7 505.5L322.2 504.1L322.7 502.7L323.2 501.2L323.7 499.8L324.2 498.4L324.8 497.0L325.3 495.6L325.9 494.3L326.5 492.9L327.2 491.5L327.8 490.2L328.5 488.9L329.2 487.5L329.9 486.2L330.7 484.9L331.5 483.6L332.3 482.4L333.2 481.2L334.1 480.0L335.1 478.9L336.2 477.9L337.3 476.9L338.5 476.0L339.8 475.3L340.1 475.4L341.1 474.8L342.1 474.4L343.1 474.1L344.1 473.8L345.1 473.6L346.1 473.6L347.1 473.5L348.1 473.6L349.1 473.7L350.1 473.9L351.1 474.2L352.1 474.5L353.1 474.8L354.1 475.3L355.1 475.7L356.1 476.2L357.1 476.8L358.1 477.4L359.1 478.0L360.1 478.7L361.1 479.4L362.1 480.2L363.1 480.9L364.1 481.7L365.1 482.5L366.1 483.3L367.1 484.1L368.1 485.0L369.1 485.8L370.1 486.6L371.1 487.5L372.1 488.3L373.1 489.1L374.1 490.0L375.1 490.8L376.1 491.6L377.1 492.3L378.1 493.1L379.1 493.8L380.1 494.5L381.1 495.2L382.1 495.8L383.1 496.4L384.1 497.1L385.1 497.6L386.1 498.2L387.1 498.7L388.1 499.2L389.1 499.7L390.1 500.2L391.1 500.6L392.1 501.0L393.1 501.4L394.1 501.8L395.1 502.1L396.1 502.5L397.1 502.8L398.1 503.0L399.1 503.3L400.1 503.5L401.1 503.7L402.1 503.9L403.1 504.1L404.1 504.2L405.1 504.4L406.1 504.5L407.1 504.5L408.1 504.6L409.1 504.6L410.1 504.6L411.1 504.6L412.1 504.6L413.1 504.6L414.1 504.5L415.1 504.4L416.1 504.3L417.1 504.2L418.1 504.0L419.1 503.8L420.1 503.6L421.1 503.4L422.1 503.2L423.1 502.9L424.1 502.7L425.1 502.4L426.1 502.1L427.1 501.7L428.1 501.4L429.1 501.0L430.1 500.6L431.1 500.2L432.1 499.8L433.1 499.3L434.1 498.9L435.1 498.4L436.1 497.9L437.1 497.4L438.1 496.8L439.1 496.3L440.1 495.7L441.1 495.1L442.1 494.5L443.1 493.8L444.1 493.2L445.1 492.5L446.1 491.8L447.1 491.1L448.1 490.4L449.1 489.7L450.1 488.9L451.1 488.1L452.1 487.3L453.1 486.5L454.1 485.7L455.1 484.8L456.1 484.0L457.1 483.1L458.1 482.2L459.1 481.3L460.1 480.4L461.1 479.4L462.1 478.5L463.1 477.5L464.1 476.5L465.1 475.5L466.1 474.5L467.1 473.5L468.1 472.4L469.1 471.3L470.1 470.2L471.1 469.1L472.1 468.0L473.1 466.9L474.1 465.8L475.1 464.6L476.1 463.4L477.1 462.2L478.1 461.0L479.1 459.8L480.1 458.6L481.1 457.3L482.1 456.1L483.1 454.8L484.1 453.5L485.1 452.2L486.1 450.9L487.1 449.5L488.1 448.2L489.1 446.8L490.1 445.5L491.1 444.1L492.1 442.7L493.1 441.3L494.1 439.9L495.1 438.4L496.1 437.0L497.1 435.5L498.1 434.0L499.1 432.6L500.1 431.1L501.1 429.5L502.1 428.0L503.1 426.5L504.1 424.9L505.1 423.4L506.1 421.8L507.1 420.2L508.1 418.6L509.1 417.0L510.1 415.4L511.1 413.8L512.1 412.2L513.1 410.5L514.1 408.9L515.1 407.2L516.1 405.5L517.1 403.8L518.1 402.1L519.1 400.4L520.1 398.7L521.1 397.0L522.1 395.2L523.1 393.5L524.1 391.7L525.1 390.0L526.1 388.2L527.1 386.4L528.1 384.6L529.1 382.8L530.1 381.0L531.1 379.2L532.1 377.3L533.1 375.5L534.1 373.6L535.1 371.8L536.1 369.9L537.1 368.1L538.1 366.2L539.1 364.3L540.1 362.4L541.1 360.5L542.1 358.6L543.1 356.7L544.1 354.7L545.1 352.8L546.1 350.9L547.1 348.9L548.1 346.9L549.1 345.0L550.1 343.0L551.1 341.0L552.1 339.1L553.1 337.1L554.1 335.1L555.1 333.1L556.1 331.1L557.1 329.1L558.1 327.0L559.1 325.0L560.1 323.0L561.1 321.0L562.1 318.9L563.1 316.9L564.1 314.8L565.1 312.8L566.1 310.7L567.1 308.6L568.1 306.6L569.1 304.5L570.1 302.4L571.1 300.3L572.1 298.2L573.1 296.1L574.1 294.0L575.1 291.9L576.1 289.8L577.1 287.7L578.1 285.6L579.1 283.5L580.1 281.4L581.1 279.3L582.1 277.1L583.1 275.0L584.1 272.9L585.1 270.7L586.1 268.6L587.1 266.5L588.1 264.3L589.1 262.2L590.1 260.0L591.1 257.9L592.1 255.7L593.1 253.6L594.1 251.4L595.1 249.2L596.1 247.1L597.1 244.9L598.1 242.8L599.1 240.6L600.1 238.4L601.1 236.3L602.1 234.1L603.1 232.0L604.1 229.8L605.1 227.6L606.1 225.5L607.1 223.3L608.1 221.2L609.1 219.0L610.1 216.9L611.1 214.7L612.1 212.6L613.1 210.5L614.1 208.3L615.1 206.2L616.1 204.1L617.1 202.0L618.1 199.8L619.1 197.7L620.1 195.6L621.1 193.5L622.1 191.4L623.1 189.3L624.1 187.3L625.1 185.2L626.1 183.1L627.1 181.0L628.1 179.0L629.1 176.9L630.1 174.9L631.1 172.9L632.1 170.9L633.1 168.8L634.1 166.8L635.1 164.8L636.1 162.9L637.1 160.9L638.1 158.9L639.1 157.0L640.1 155.0L641.1 153.1L642.1 151.2L643.1 149.3L644.1 147.4L645.1 145.5L646.1 143.6L647.1 141.7L648.1 139.9L649.1 138.0L650.1 136.2L651.1 134.4L652.1 132.6L653.1 130.8L654.1 129.1L655.1 127.3L656.1 125.6L657.1 123.9L658.1 122.2L659.1 120.5L660.1 118.8L661.1 117.1L662.1 115.5L663.1 113.9L664.1 112.3L665.1 110.7L666.1 109.1L667.1 107.5L668.1 106.0L669.1 104.5L670.1 103.0L671.1 101.5L672.1 100.1L673.1 98.6L674.1 97.2L675.1 95.8L676.1 94.4L677.1 93.0L678.1 91.7L679.1 90.4L680.1 89.1L681.1 87.8L682.1 86.6L683.1 85.3L684.1 84.1L685.1 82.9L686.1 81.8L687.1 80.6L688.1 79.5L689.1 78.4L690.1 77.4L691.1 76.3L692.1 75.3L693.1 74.3L694.1 73.3L695.1 72.4L696.1 71.5L697.1 70.6L698.1 69.7L699.1 68.9L700.1 68.1L701.1 67.3L702.1 66.5L703.1 65.8L704.1 65.1L705.1 64.4L706.1 63.8L707.1 63.2L708.1 62.6L709.1 62.0L710.1 61.5L711.1 61.0L712.1 60.6L713.1 60.1L714.1 59.7L715.1 59.3L716.1 59.0L717.1 58.7L718.1 58.4L719.1 58.1L720.1 57.9L721.1 57.7L722.1 57.6L723.1 57.4L724.1 57.3L725.1 57.3L726.1 57.2L727.1 57.2L728.1 57.2L729.1 57.3L730.1 57.3L731.1 57.5L732.1 57.6L733.1 57.8L734.1 57.9L735.1 58.2L736.1 58.4L737.1 58.7L738.1 59.0L739.1 59.4L740.1 59.7L741.1 60.1L742.1 60.6L743.1 61.0L744.1 61.5L745.1 62.0L746.1 62.6L747.1 63.1L748.1 63.7L749.1 64.4L750.1 65.0L751.1 65.7L752.1 66.4L753.1 67.2L754.1 67.9L755.1 68.7L756.1 69.6L757.1 70.4L758.1 71.3L759.1 72.2L760.1 73.1L761.1 74.1L762.1 75.1L763.1 76.1L764.1 77.2L765.1 78.2L766.1 79.3L767.1 80.5L768.1 81.6L769.1 82.8L770.1 84.0L771.1 85.2L772.1 86.5L773.1 87.8L774.1 89.1L775.1 90.5L776.1 91.8L777.1 93.2L778.1 94.6L779.1 96.1L780.1 97.6L781.1 99.1L782.1 100.6L783.1 102.1L784.1 103.7L785.1 105.3L786.1 106.9L787.1 108.6L788.1 110.3L789.1 112.0L790.1 113.7L791.1 115.5L792.1 117.3L793.1 119.1L794.1 120.9L795.1 122.7L796.1 124.6L797.1 126.5L798.1 128.5L799.1 130.4L800.1 132.4L801.1 134.4L802.1 136.4L803.1 138.5L804.1 140.6L805.1 142.7L806.1 144.8L807.1 147.0L808.1 149.1L809.1 151.3L810.1 153.6L811.1 155.8L812.1 158.1L813.1 160.4L814.1 162.7L815.1 165.0L816.1 167.4L817.1 169.8L818.1 172.2L819.1 174.7L820.1 177.1L821.1 179.6L822.1 182.1L823.1 184.6L824.1 187.2L825.1 189.8L826.1 192.4L827.1 195.0L828.1 197.7L829.1 200.4L830.1 203.1L831.1 205.8L832.1 208.6L833.1 211.4L834.1 214.2L835.1 217.0L836.1 219.9L837.1 222.8L838.1 225.8L839.1 228.7L840.1 231.7L841.1 234.8L842.1 237.8L843.1 240.9L844.1 244.0L845.1 247.2L846.1 250.3L847.1 253.6L848.1 256.8L849.1 260.1L850.1 263.4L851.1 266.7L852.1 270.1L853.1 273.5L854.1 277.0L855.1 280.5L856.1 284.0L857.1 287.5L858.1 291.1L859.1 294.8L860.1 298.4L861.1 302.1L862.1 305.9L863.1 309.6L864.1 313.4L865.1 317.3L866.1 321.2L867.1 325.1L868.1 329.0L869.1 332.9L870.1 336.9L871.1 340.8L872.1 344.7L873.1 348.7L874.1 352.6L875.1 356.5L876.1 360.4L877.1 364.2L878.1 368.0L879.1 371.8L880.1 375.5L881.1 379.2L882.1 382.8L883.1 386.4L884.1 389.9L885.1 393.4L886.1 396.9L887.1 400.4L888.1 403.8L889.1 407.2L890.1 410.7L891.1 414.1L892.1 417.4L893.1 420.8L894.1 424.2L895.1 427.6L896.1 431.0L897.1 434.4L898.1 437.8L899.1 441.2L900.1 444.6L901.1 447.9L902.1 451.3L903.1 454.7L904.1 458.0L905.1 461.4L906.1 464.7L907.1 468.1L908.1 471.4L909.1 474.7L910.1 478.1L911.1 481.4L912.1 484.7L913.1 488.0L914.1 491.3L915.1 494.6L916.1 497.9L917.1 501.2L918.1 504.4L919.1 507.7L920.1 510.9L921.1 514.2L922.1 517.4L923.1 520.6L924.1 523.8L925.1 527.0L926.1 530.2L927.1 533.4L928.1 536.6L929.1 539.7L930.1 542.9L931.1 546.0L932.1 549.1L933.1 552.2L934.1 555.3L935.1 558.4L936.1 561.4L937.1 564.5L938.1 567.5L939.1 570.5L940.1 573.5L941.1 576.5L942.1 579.5L943.1 582.5L944.1 585.4L945.1 588.3L946.1 591.3L947.1 594.2L948.1 597.0L949.1 599.9L950.1 602.7L951.1 605.6L952.1 608.4L953.1 611.2L954.1 613.9L955.1 616.7L956.1 619.4L957.1 622.1L958.1 624.8L959.1 627.5L960.1 630.1L961.1 632.8L962.1 635.4L963.1 638.0L964.1 640.5L965.1 643.1L966.1 645.6L967.1 648.1L968.1 650.6L969.1 653.0L970.1 655.5L971.1 657.9L972.1 660.3L973.1 662.6L974.1 665.0L975.1 667.3L976.1 669.6L977.1 671.9L978.1 674.2L979.1 676.4L980.1 678.6L981.1 680.9L982.1 683.0L983.1 685.2L984.1 687.3L985.1 689.5L986.1 691.6L987.1 693.7L988.1 695.7L989.1 697.8L990.1 699.8L991.1 701.8L992.1 703.8L993.1 705.7L994.1 707.7L995.1 709.6L996.1 711.5L997.1 713.4L998.1 715.3L999.1 717.2L1000.1 719.0L1001.1 720.8L1002.1 722.6L1003.1 724.4L1004.1 726.2L1005.1 727.9L1006.1 729.6L1007.1 731.4L1008.1 733.1L1009.1 734.7L1010.1 736.4L1011.1 738.0L1012.1 739.7L1013.1 741.3L1014.1 742.9L1015.1 744.4L1016.1 746.0L1017.1 747.5L1018.1 749.1L1019.1 750.6L1020.1 752.1L1021.1 753.6L1022.1 755.0L1023.1 756.5L1024.1 757.9L1025.1 759.3L1026.1 760.7L1027.1 762.1L1028.1 763.5L1029.1 764.8L1030.1 766.2L1031.1 767.5L1032.1 768.8L1033.1 770.1L1034.1 771.4L1035.1 772.6L1036.1 773.9L1037.1 775.1L1038.1 776.4L1039.1 777.6L1040.1 778.8L1041.1 780.0L1042.1 781.1L1043.1 782.3L1044.1 783.4L1045.1 784.6L1046.1 785.7L1047.1 786.8L1048.1 787.9L1049.1 788.9L1050.1 790.0L1051.1 791.1L1052.1 792.1L1053.1 793.1L1054.1 794.1L1055.1 795.1L1056.1 796.1L1057.1 797.1L1058.1 798.1L1059.1 799.0L1060.1 800.0L1061.1 800.9L1062.1 801.8L1063.1 802.8L1064.1 803.6L1065.1 804.5L1066.1 805.4L1067.1 806.3L1068.1 807.1L1069.1 808.0L1070.1 808.8L1071.1 809.6L1072.1 810.5L1073.1 811.3L1074.1 812.1L1074.4 812.3" fill="none" stroke="#000" stroke-width="3" stroke-linejoin="round"/>
<path d="M224.0 499.0L225.3 499.8L226.5 500.6L227.8 501.4L229.1 502.2L230.4 503.0L231.6 503.8L232.9 504.6L234.2 505.4L235.5 506.2L236.7 507.0L238.0 507.8L239.3 508.6L240.5 509.4L241.8 510.2L243.1 511.0L244.3 511.8L245.6 512.6L246.8 513.5L248.1 514.3L249.3 515.1L250.6 516.0L251.8 516.8L253.0 517.7L254.3 518.5L255.5 519.4L256.7 520.3L258.0 521.1L259.2 522.0L260.4 522.9L261.6 523.8L262.8 524.7L264.0 525.6L265.2 526.5L266.4 527.4L267.6 528.2L268.8 529.1L270.1 530.0L271.3 530.9L272.5 531.8L273.7 532.7L274.9 533.6L276.1 534.5L277.3 535.4L278.5 536.3L279.7 537.1L281.0 538.0L282.2 538.9L283.4 539.7L284.6 540.6L285.9 541.4L287.1 542.1L288.4 542.8L289.6 543.4L290.9 543.9L292.1 544.3L293.3 544.4L294.5 544.4L295.7 544.2L296.8 543.8L297.9 543.3L298.9 542.5L299.9 541.7L300.8 540.7L301.8 539.6L302.7 538.5L303.6 537.4L304.5 536.2L305.5 535.0L306.4 533.8L307.3 532.7L308.3 531.5L309.2 530.3L310.2 529.2L311.1 528.0L312.1 526.9L313.1 525.8L314.1 524.6L315.1 523.5L316.1 522.4L317.1 521.3L318.1 520.2L319.1 519.1L320.2 518.0L321.2 516.9L322.2 515.7L323.2 514.6L324.2 513.5L325.1 512.4L326.1 511.2L327.1 510.1L328.1 509.0L329.1 507.9L330.1 506.8L331.1 505.6L332.2 504.6L333.2 503.5L334.3 502.4L335.4 501.4L336.5 500.4L337.6 499.4L338.7 498.4L339.8 497.4L341.0 496.5L342.2 495.6L343.4 494.6L344.6 493.8L345.8 492.9L347.1 492.1L348.3 491.3L349.6 490.5L350.9 489.8L352.2 489.1L353.6 488.4L354.9 487.8L356.3 487.2L357.7 486.6L359.1 486.1L360.5 485.5L361.9 485.0L363.3 484.5L364.7 484.0L366.1 483.5L367.5 483.1L369.0 482.6L370.4 482.2L371.8 481.7L373.3 481.3L374.7 480.9L376.2 480.4L377.6 480.0L379.1 479.6L380.5 479.2L381.9 478.8L383.4 478.4L384.8 478.0L386.3 477.6L387.7 477.2L389.2 476.8L390.6 476.4L392.1 476.1L393.5 475.7L395.0 475.3L396.5 474.9L397.9 474.6L399.4 474.2L400.8 473.8L402.3 473.5L403.7 473.1L405.2 472.7L406.6 472.4L408.1 472.0L409.6 471.6L411.0 471.2L412.5 470.9L413.9 470.5L415.4 470.1L416.8 469.6L418.2 469.2L419.7 468.8L421.1 468.3L422.5 467.8L423.9 467.3L425.3 466.8L426.7 466.3L428.2 465.8L429.6 465.2L431.0 464.7L432.4 464.2L433.8 463.6L435.2 463.1L436.6 462.6L438.0 462.0L439.4 461.5L440.8 460.9L442.2 460.4L443.6 459.8L445.0 459.3L446.4 458.7L447.7 458.1L449.1 457.6L450.5 457.0L451.9 456.3L453.2 455.7L454.6 455.1L456.0 454.5L457.3 453.8L458.7 453.2L460.0 452.5L461.4 451.8L462.7 451.2L464.0 450.5L465.4 449.8L466.7 449.1L468.0 448.4L469.4 447.7L470.7 447.0L472.0 446.3L473.3 445.5L474.6 444.8L475.9 444.1L477.2 443.3L478.5 442.6L479.8 441.8L481.1 441.0L482.4 440.3L483.7 439.5L485.0 438.7L486.2 437.9L487.5 437.1L488.8 436.3L490.0 435.5L491.3 434.7L492.5 433.8L493.8 433.0L495.1 432.2L496.3 431.3L497.5 430.5L498.8 429.7L500.0 428.8L501.3 428.0L502.5 427.2L503.8 426.3L505.0 425.5L506.3 424.6L507.5 423.8L508.7 422.9L510.0 422.1L511.2 421.2L512.4 420.4L513.7 419.5L514.9 418.7L516.1 417.8L517.4 416.9L518.6 416.1L519.8 415.2L521.0 414.3L522.2 413.4L523.4 412.5L524.7 411.6L525.9 410.7L527.1 409.8L528.2 408.9L529.4 408.0L530.6 407.1L531.8 406.2L533.0 405.3L534.2 404.4L535.4 403.5L536.6 402.6L537.8 401.7L539.0 400.8L540.2 399.9L541.5 399.0L542.7 398.1L543.8 397.2L545.0 396.3L546.2 395.4L547.4 394.4L548.6 393.5L549.8 392.6L550.9 391.6L552.1 390.7L553.2 389.7L554.4 388.7L555.5 387.8L556.7 386.8L557.8 385.8L559.0 384.8L560.1 383.9L561.2 382.9L562.4 381.9L563.5 380.9L564.6 379.9L565.8 378.9L566.9 378.0L568.0 377.0L569.2 376.0L570.3 375.0L571.4 374.0L572.6 373.0L573.7 372.1L574.9 371.1L576.0 370.1L577.2 369.2L578.3 368.2L579.5 367.3L580.6 366.3L581.8 365.4L583.0 364.4L584.1 363.5L585.3 362.5L586.5 361.6L587.6 360.6L588.8 359.7L590.0 358.7L591.1 357.8L592.3 356.8L593.4 355.8L594.5 354.8L595.7 353.9L596.8 352.9L598.0 351.9L599.1 350.9L600.2 349.9L601.4 348.9L602.5 347.9L603.6 347.0L604.7 346.0L605.9 345.0L607.0 344.0L608.1 343.0L609.3 342.0L610.4 341.0L611.5 340.1L612.7 339.1L613.8 338.1L615.0 337.1L616.1 336.2L617.2 335.2L618.4 334.2L619.6 333.3L620.7 332.3L621.9 331.3L623.0 330.4L624.2 329.4L625.4 328.5L626.5 327.6L627.7 326.6L628.9 325.7L630.0 324.7L631.2 323.7L632.3 322.8L633.5 321.8L634.6 320.9L635.8 319.9L636.9 318.9L638.0 317.9L639.2 316.9L640.3 316.0L641.5 315.0L642.6 314.0L643.8 313.1L644.9 312.1L646.1 311.2L647.3 310.2L648.4 309.3L649.6 308.4L650.9 307.5L652.1 306.6L653.3 305.8L654.5 304.9L655.8 304.1L657.0 303.3L658.3 302.4L659.5 301.6L660.8 300.8L662.1 300.0L663.3 299.2L664.6 298.3L665.8 297.5L667.1 296.7L668.3 295.8L669.6 295.0L670.8 294.2L672.1 293.4L673.3 292.5L674.6 291.7L675.9 290.9L677.1 290.1L678.4 289.3L679.7 288.5L681.0 287.8L682.3 287.0L683.5 286.2L684.8 285.5L686.1 284.7L687.5 284.0L688.8 283.3L690.1 282.6L691.5 282.0L692.8 281.3L694.2 280.7L695.6 280.1L696.9 279.5L698.3 279.0L699.7 278.5L701.2 278.0L702.6 277.5L704.0 277.0L705.4 276.6L706.9 276.2L708.3 275.8L709.8 275.4L711.2 275.1L712.7 274.7L714.2 274.4L715.6 274.1L717.1 273.8L718.6 273.5L720.1 273.2L721.5 273.0L723.0 272.7L724.5 272.5L726.0 272.3L727.5 272.1L729.0 272.0L730.4 271.9L731.9 271.8L733.4 271.7L734.9 271.7L736.4 271.7L737.9 271.8L739.4 271.9L740.9 272.0L742.4 272.2L743.8 272.4L745.3 272.7L746.8 273.0L748.2 273.3L749.7 273.7L751.1 274.1L752.5 274.6L753.9 275.1L755.4 275.6L756.8 276.1L758.2 276.7L759.5 277.2L760.9 277.8L762.3 278.4L763.7 279.0L765.0 279.7L766.4 280.3L767.7 281.0L769.1 281.6L770.4 282.3L771.7 283.0L773.1 283.7L774.4 284.4L775.8 285.0L777.1 285.7L778.4 286.4L779.8 287.1L781.1 287.8L782.4 288.5L783.8 289.2L785.1 289.9L786.4 290.6L787.6 291.4L788.9 292.2L790.2 293.0L791.4 293.9L792.6 294.8L793.8 295.7L795.0 296.6L796.1 297.5L797.3 298.5L798.4 299.5L799.6 300.4L800.7 301.4L801.8 302.4L802.9 303.4L804.0 304.5L805.1 305.5L806.2 306.5L807.3 307.5L808.4 308.5L809.5 309.6L810.6 310.6L811.7 311.7L812.8 312.7L813.8 313.8L814.9 314.8L815.9 315.9L817.0 317.0L818.0 318.0L819.1 319.1L820.1 320.2L821.2 321.3L822.2 322.4L823.2 323.5L824.2 324.6L825.2 325.7L826.2 326.9L827.2 328.0L828.1 329.1L829.1 330.3L830.0 331.5L831.0 332.6L831.9 333.8L832.8 335.0L833.7 336.2L834.5 337.5L835.4 338.7L836.3 339.9L837.1 341.1L838.0 342.4L838.9 343.6L839.8 344.8L840.6 346.0L841.5 347.2L842.4 348.4L843.3 349.6L844.2 350.8L845.1 352.0L846.1 353.2L847.0 354.4L847.9 355.6L848.8 356.8L849.7 358.0L850.6 359.2L851.5 360.4L852.4 361.6L853.3 362.8L854.2 364.0L855.1 365.2L855.9 366.4L856.8 367.7L857.7 368.9L858.6 370.1L859.4 371.3L860.3 372.6L861.2 373.8L862.0 375.0L862.9 376.3L863.7 377.5L864.5 378.7L865.4 380.0L866.2 381.2L867.0 382.5L867.9 383.8L868.7 385.0L869.5 386.3L870.3 387.5L871.1 388.8L871.9 390.1L872.7 391.4L873.5 392.6L874.3 393.9L875.0 395.2L875.8 396.5L876.6 397.8L877.4 399.1L878.1 400.3L878.9 401.6L879.7 402.9L880.5 404.2L881.2 405.5L882.0 406.8L882.8 408.1L883.5 409.4L884.3 410.7L885.0 412.0L885.8 413.3L886.5 414.6L887.3 415.9L888.0 417.2L888.8 418.5L889.5 419.8L890.2 421.1L891.0 422.4L891.7 423.7L892.4 425.0L893.2 426.4L893.9 427.7L894.6 429.0L895.3 430.3L896.1 431.6L896.8 432.9L897.5 434.2L898.2 435.6L899.0 436.9L899.7 438.2L900.4 439.5L901.2 440.8L901.9 442.1L902.6 443.4L903.4 444.7L904.1 446.0L904.8 447.3L905.6 448.6L906.3 450.0L907.1 451.3L907.8 452.6L908.6 453.9L909.3 455.2L910.1 456.5L910.8 457.8L911.6 459.1L912.3 460.4L913.1 461.7L913.8 463.0L914.6 464.3L915.3 465.6L916.0 466.9L916.8 468.2L917.5 469.5L918.2 470.8L918.9 472.1L919.7 473.5L920.4 474.8L921.1 476.1L921.8 477.4L922.5 478.7L923.2 480.1L923.9 481.4L924.6 482.7L925.3 484.1L926.0 485.4L926.7 486.7L927.4 488.1L928.1 489.4L928.8 490.7L929.5 492.1L930.2 493.4L930.9 494.7L931.5 496.1L932.2 497.4L932.9 498.7L933.6 500.1L934.3 501.4L935.0 502.7L935.6 504.1L936.3 505.4L937.0 506.8L937.7 508.1L938.3 509.4L939.0 510.8L939.7 512.1L940.4 513.5L941.0 514.8L941.7 516.2L942.4 517.5L943.0 518.9L943.7 520.2L944.4 521.5L945.1 522.9L945.8 524.2L946.4 525.6L947.1 526.9L947.8 528.2L948.5 529.5L949.2 530.9L949.9 532.2L950.6 533.5L951.3 534.9L952.0 536.2L952.8 537.5L953.5 538.8L954.2 540.1L954.9 541.4L955.6 542.8L956.4 544.1L957.1 545.4L957.8 546.7L958.5 548.0L959.3 549.3L960.0 550.7L960.7 552.0L961.4 553.3L962.1 554.6L962.9 555.9L963.6 557.3L964.3 558.6L965.0 559.9L965.7 561.2L966.4 562.6L967.1 563.9L967.8 565.2L968.5 566.5L969.2 567.9L969.9 569.2L970.6 570.5L971.3 571.9L971.9 573.2L972.6 574.5L973.3 575.9L974.0 577.2L974.7 578.5L975.4 579.9L976.1 581.2L976.8 582.5L977.6 583.8L978.3 585.2L979.0 586.5L979.7 587.8L980.4 589.1L981.2 590.4L981.9 591.7L982.6 593.0L983.4 594.3L984.1 595.6L984.9 597.0L985.6 598.3L986.3 599.6L987.1 600.9L987.8 602.2L988.6 603.5L989.4 604.8L990.1 606.1L990.9 607.3L991.6 608.6L992.4 609.9L993.2 611.2L993.9 612.5L994.7 613.8L995.4 615.1L996.2 616.4L997.0 617.7L997.7 619.0L998.5 620.3L999.3 621.6L1000.0 622.9L1000.8 624.2L1001.6 625.4L1002.3 626.7L1003.1 628.0L1003.9 629.3L1004.7 630.6L1005.4 631.9L1006.2 633.2L1007.0 634.5L1007.8 635.7L1008.6 637.0L1009.3 638.3L1010.1 639.6L1010.9 640.9L1011.7 642.1L1012.5 643.4L1013.3 644.7L1014.1 646.0L1014.9 647.2L1015.7 648.5L1016.5 649.8L1017.3 651.1L1018.1 652.3L1018.9 653.6L1019.7 654.9L1020.5 656.1L1021.3 657.4L1022.1 658.7L1022.9 659.9L1023.7 661.2L1024.5 662.5L1025.3 663.7L1026.1 665.0L1026.9 666.3L1027.8 667.5L1028.6 668.8L1029.4 670.0L1030.2 671.3L1031.0 672.6L1031.8 673.8L1032.6 675.1L1033.4 676.4L1034.3 677.6L1035.1 678.9L1035.9 680.1L1036.7 681.4L1037.5 682.7L1038.3 683.9L1039.1 685.2L1040.0 686.4L1040.8 687.7L1041.6 689.0L1042.4 690.2L1043.2 691.5L1044.1 692.7L1044.9 694.0L1045.7 695.2L1046.6 696.5L1047.4 697.7L1048.3 698.9L1049.2 700.2L1050.0 701.4L1050.9 702.6L1051.8 703.8L1052.7 705.0L1053.6 706.2L1054.6 707.4L1055.5 708.5L1056.5 709.7L1057.4 710.8L1058.4 711.9L1059.4 713.1L1060.4 714.2L1061.5 715.3L1062.5 716.4L1063.5 717.4L1064.6 718.5L1065.7 719.6L1066.7 720.6L1067.8 721.7L1068.9 722.7L1070.0 723.7L1071.1 724.8L1072.2 725.8L1073.3 726.8L1074.4 727.8" fill="none" stroke="#000" stroke-width="4" stroke-linecap="round" stroke-dasharray="0.1 16"/>
<path d="M224.0 499.0L225.2 499.9L226.5 500.7L227.7 501.5L228.9 502.4L230.2 503.2L231.4 504.1L232.7 504.9L233.9 505.8L235.1 506.6L236.4 507.5L237.6 508.3L238.8 509.2L240.1 510.1L241.3 510.9L242.5 511.8L243.8 512.6L245.0 513.5L246.2 514.4L247.4 515.2L248.7 516.1L249.9 517.0L251.1 517.8L252.3 518.7L253.5 519.6L254.7 520.5L255.9 521.4L257.1 522.3L258.4 523.2L259.6 524.1L260.8 525.0L261.9 525.9L263.1 526.8L264.3 527.7L265.5 528.6L266.7 529.5L267.9 530.4L269.1 531.3L270.3 532.2L271.5 533.2L272.7 534.1L273.9 535.0L275.1 535.9L276.3 536.8L277.4 537.7L278.6 538.6L279.8 539.6L281.0 540.5L282.2 541.4L283.4 542.2L284.7 543.1L285.9 544.0L287.1 544.8L288.4 545.6L289.6 546.4L290.9 547.2L292.2 547.9L293.5 548.5L294.8 549.0L296.1 549.4L297.5 549.7L298.8 549.9L300.1 549.9L301.5 549.7L302.8 549.4L304.0 548.9L305.3 548.3L306.5 547.6L307.7 546.8L308.9 545.9L310.0 545.0L311.2 544.0L312.3 543.0L313.4 542.0L314.4 541.0L315.5 539.9L316.6 538.9L317.6 537.8L318.7 536.8L319.8 535.7L320.8 534.6L321.9 533.6L323.0 532.5L324.0 531.5L325.1 530.4L326.2 529.4L327.3 528.3L328.3 527.3L329.4 526.3L330.5 525.3L331.6 524.2L332.8 523.2L333.9 522.2L335.0 521.3L336.2 520.3L337.3 519.3L338.5 518.4L339.7 517.5L340.9 516.6L342.1 515.8L343.4 515.0L344.6 514.2L345.9 513.4L347.2 512.7L348.5 512.0L349.9 511.3L351.2 510.6L352.6 510.0L353.9 509.4L355.3 508.8L356.7 508.2L358.1 507.6L359.5 507.0L360.8 506.5L362.2 506.0L363.7 505.4L365.1 504.9L366.5 504.4L367.9 503.9L369.3 503.4L370.7 503.0L372.2 502.5L373.6 502.1L375.0 501.7L376.5 501.3L377.9 500.9L379.4 500.6L380.9 500.2L382.3 499.9L383.8 499.6L385.2 499.2L386.7 498.9L388.2 498.6L389.7 498.3L391.1 498.0L392.6 497.7L394.1 497.4L395.5 497.1L397.0 496.9L398.5 496.6L400.0 496.3L401.4 496.0L402.9 495.7L404.4 495.4L405.8 495.1L407.3 494.8L408.8 494.5L410.3 494.2L411.7 493.9L413.2 493.7L414.7 493.4L416.1 493.1L417.6 492.8L419.1 492.5L420.6 492.2L422.0 491.9L423.5 491.6L425.0 491.2L426.4 490.9L427.9 490.6L429.4 490.3L430.8 489.9L432.3 489.6L433.7 489.2L435.2 488.9L436.6 488.5L438.1 488.1L439.6 487.8L441.0 487.4L442.5 487.0L443.9 486.6L445.3 486.2L446.8 485.8L448.2 485.4L449.7 485.0L451.1 484.6L452.6 484.2L454.0 483.7L455.4 483.3L456.9 482.9L458.3 482.5L459.8 482.0L461.2 481.6L462.6 481.2L464.1 480.8L465.5 480.3L466.9 479.9L468.4 479.4L469.8 479.0L471.2 478.5L472.7 478.1L474.1 477.6L475.5 477.2L476.9 476.7L478.4 476.2L479.8 475.7L481.2 475.3L482.6 474.8L484.1 474.3L485.5 473.8L486.9 473.3L488.3 472.8L489.7 472.3L491.1 471.8L492.5 471.3L494.0 470.8L495.4 470.3L496.8 469.7L498.2 469.2L499.6 468.7L501.0 468.1L502.4 467.6L503.8 467.0L505.2 466.5L506.6 465.9L508.0 465.4L509.3 464.8L510.7 464.2L512.1 463.7L513.5 463.1L514.9 462.5L516.3 461.9L517.6 461.3L519.0 460.7L520.4 460.1L521.8 459.5L523.1 458.9L524.5 458.3L525.9 457.7L527.3 457.1L528.6 456.5L530.0 455.9L531.4 455.2L532.7 454.6L534.1 454.0L535.5 453.4L536.8 452.7L538.2 452.1L539.5 451.5L540.9 450.8L542.2 450.2L543.6 449.5L544.9 448.9L546.3 448.2L547.6 447.5L549.0 446.8L550.3 446.2L551.6 445.5L553.0 444.8L554.3 444.1L555.6 443.4L556.9 442.7L558.3 442.0L559.6 441.3L560.9 440.6L562.2 439.9L563.6 439.2L564.9 438.5L566.2 437.8L567.5 437.1L568.9 436.4L570.2 435.7L571.5 435.0L572.9 434.3L574.2 433.6L575.5 432.9L576.9 432.2L578.2 431.5L579.5 430.8L580.9 430.2L582.2 429.5L583.5 428.8L584.9 428.1L586.2 427.4L587.5 426.7L588.8 426.0L590.2 425.3L591.5 424.6L592.8 423.9L594.1 423.1L595.4 422.4L596.8 421.7L598.1 421.0L599.4 420.2L600.7 419.5L602.0 418.7L603.2 417.9L604.5 417.1L605.8 416.4L607.1 415.6L608.3 414.8L609.6 414.0L610.9 413.1L612.1 412.3L613.4 411.5L614.7 410.7L615.9 409.9L617.2 409.1L618.5 408.3L619.7 407.5L621.0 406.8L622.3 406.0L623.6 405.2L624.9 404.5L626.2 403.7L627.5 402.9L628.8 402.2L630.1 401.4L631.4 400.7L632.7 399.9L634.0 399.2L635.3 398.5L636.6 397.7L637.9 397.0L639.2 396.2L640.5 395.5L641.8 394.7L643.1 394.0L644.4 393.2L645.7 392.5L647.0 391.7L648.3 391.0L649.6 390.2L650.9 389.5L652.2 388.7L653.5 387.9L654.7 387.2L656.0 386.4L657.3 385.6L658.6 384.8L659.8 383.9L661.1 383.1L662.3 382.3L663.5 381.4L664.8 380.6L666.0 379.7L667.2 378.8L668.5 378.0L669.7 377.1L670.9 376.3L672.2 375.5L673.4 374.6L674.7 373.8L676.0 373.1L677.3 372.3L678.6 371.5L679.9 370.8L681.2 370.1L682.5 369.4L683.9 368.7L685.2 368.1L686.5 367.4L687.9 366.7L689.2 366.1L690.6 365.5L692.0 364.8L693.3 364.2L694.7 363.6L696.1 363.0L697.4 362.4L698.8 361.8L700.2 361.2L701.6 360.5L702.9 359.9L704.3 359.3L705.7 358.7L707.0 358.1L708.4 357.5L709.8 356.9L711.1 356.3L712.5 355.6L713.9 355.0L715.2 354.4L716.6 353.7L717.9 353.1L719.3 352.4L720.6 351.7L722.0 351.1L723.3 350.4L724.7 349.8L726.0 349.2L727.4 348.5L728.8 347.9L730.1 347.4L731.5 346.8L732.9 346.3L734.4 345.8L735.8 345.3L737.2 344.8L738.6 344.4L740.1 344.0L741.5 343.6L743.0 343.2L744.4 342.8L745.9 342.4L747.3 342.1L748.8 341.7L750.2 341.4L751.7 341.1L753.2 340.7L754.6 340.4L756.1 340.1L757.6 339.8L759.0 339.6L760.5 339.3L762.0 339.0L763.5 338.8L765.0 338.5L766.4 338.3L767.9 338.1L769.4 337.9L770.9 337.8L772.4 337.6L773.9 337.5L775.4 337.5L776.9 337.4L778.4 337.4L779.9 337.4L781.4 337.4L782.8 337.5L784.3 337.6L785.8 337.8L787.3 337.9L788.8 338.1L790.3 338.3L791.8 338.6L793.2 338.8L794.7 339.1L796.2 339.4L797.7 339.7L799.1 340.0L800.6 340.3L802.1 340.6L803.5 340.9L805.0 341.3L806.4 341.6L807.9 342.0L809.4 342.3L810.8 342.7L812.3 343.1L813.7 343.5L815.1 343.9L816.6 344.3L818.0 344.7L819.5 345.2L820.9 345.6L822.3 346.1L823.8 346.5L825.2 347.0L826.6 347.5L828.0 348.0L829.4 348.5L830.8 349.1L832.2 349.6L833.6 350.2L835.0 350.7L836.4 351.3L837.7 351.9L839.1 352.6L840.4 353.2L841.8 353.8L843.1 354.5L844.5 355.2L845.8 355.9L847.1 356.6L848.5 357.3L849.8 358.0L851.1 358.8L852.4 359.5L853.7 360.3L855.0 361.0L856.2 361.8L857.5 362.6L858.8 363.4L860.1 364.2L861.3 365.0L862.6 365.8L863.9 366.6L865.1 367.4L866.3 368.3L867.6 369.1L868.8 370.0L870.0 370.9L871.2 371.7L872.4 372.6L873.6 373.5L874.8 374.4L876.0 375.4L877.2 376.3L878.3 377.3L879.5 378.2L880.7 379.2L881.8 380.1L882.9 381.1L884.0 382.1L885.2 383.1L886.3 384.1L887.4 385.1L888.5 386.2L889.6 387.2L890.7 388.2L891.7 389.3L892.8 390.3L893.9 391.4L895.0 392.4L896.0 393.5L897.1 394.5L898.1 395.6L899.2 396.7L900.2 397.8L901.3 398.8L902.3 399.9L903.4 401.0L904.4 402.1L905.4 403.2L906.4 404.3L907.5 405.4L908.5 406.5L909.5 407.6L910.5 408.7L911.5 409.8L912.5 410.9L913.5 412.0L914.5 413.2L915.5 414.3L916.5 415.4L917.5 416.5L918.5 417.7L919.4 418.8L920.4 420.0L921.4 421.1L922.4 422.2L923.3 423.4L924.3 424.5L925.3 425.7L926.2 426.8L927.2 428.0L928.2 429.1L929.1 430.3L930.1 431.4L931.0 432.6L932.0 433.7L932.9 434.9L933.9 436.1L934.8 437.2L935.8 438.4L936.7 439.6L937.7 440.7L938.6 441.9L939.5 443.1L940.5 444.2L941.4 445.4L942.3 446.6L943.2 447.8L944.2 449.0L945.1 450.2L946.0 451.4L946.9 452.6L947.8 453.8L948.7 455.0L949.6 456.2L950.5 457.4L951.4 458.6L952.3 459.8L953.2 461.0L954.1 462.2L955.0 463.4L955.9 464.6L956.8 465.8L957.7 467.0L958.6 468.2L959.5 469.4L960.4 470.6L961.3 471.8L962.1 473.0L963.0 474.2L963.9 475.4L964.8 476.6L965.7 477.8L966.6 479.1L967.5 480.3L968.3 481.5L969.2 482.7L970.1 483.9L971.0 485.1L971.8 486.4L972.7 487.6L973.6 488.8L974.5 490.0L975.3 491.2L976.2 492.5L977.1 493.7L978.0 494.9L978.8 496.1L979.7 497.4L980.5 498.6L981.4 499.8L982.3 501.0L983.1 502.3L984.0 503.5L984.8 504.7L985.7 506.0L986.6 507.2L987.4 508.4L988.3 509.7L989.1 510.9L990.0 512.1L990.8 513.4L991.7 514.6L992.6 515.8L993.4 517.0L994.3 518.3L995.2 519.5L996.0 520.7L996.9 521.9L997.8 523.2L998.6 524.4L999.5 525.6L1000.4 526.8L1001.3 528.0L1002.2 529.2L1003.0 530.5L1003.9 531.7L1004.8 532.9L1005.6 534.1L1006.5 535.4L1007.3 536.6L1008.2 537.8L1009.0 539.1L1009.9 540.3L1010.7 541.6L1011.5 542.8L1012.3 544.1L1013.2 545.3L1014.0 546.6L1014.8 547.8L1015.6 549.1L1016.5 550.4L1017.3 551.6L1018.1 552.9L1018.9 554.1L1019.7 555.4L1020.5 556.6L1021.4 557.9L1022.2 559.2L1023.0 560.4L1023.8 561.7L1024.6 562.9L1025.5 564.2L1026.3 565.4L1027.1 566.7L1027.9 568.0L1028.8 569.2L1029.6 570.5L1030.4 571.7L1031.2 573.0L1032.1 574.2L1032.9 575.4L1033.8 576.7L1034.6 577.9L1035.4 579.2L1036.3 580.4L1037.1 581.7L1037.9 582.9L1038.8 584.2L1039.6 585.4L1040.5 586.6L1041.3 587.9L1042.2 589.1L1043.0 590.4L1043.9 591.6L1044.7 592.8L1045.6 594.1L1046.4 595.3L1047.3 596.5L1048.1 597.7L1049.0 599.0L1049.9 600.2L1050.8 601.4L1051.7 602.6L1052.6 603.8L1053.5 605.0L1054.4 606.2L1055.3 607.4L1056.2 608.6L1057.2 609.7L1058.1 610.9L1059.1 612.1L1060.0 613.2L1061.0 614.4L1062.0 615.5L1062.9 616.6L1063.9 617.8L1064.9 618.9L1065.9 620.0L1066.9 621.1L1067.9 622.2L1068.9 623.3L1069.9 624.5L1071.0 625.6L1072.0 626.7L1073.0 627.8L1074.0 628.9L1075.0 630.0" fill="none" stroke="#000" stroke-width="3.3" stroke-dasharray="38 26" stroke-dashoffset="6"/>
<path d="M224.0 499.0L225.2 499.9L226.4 500.8L227.6 501.7L228.9 502.5L230.1 503.4L231.3 504.3L232.5 505.2L233.7 506.1L234.9 507.0L236.1 507.8L237.4 508.7L238.6 509.6L239.8 510.5L241.0 511.4L242.2 512.3L243.4 513.2L244.6 514.1L245.8 514.9L247.0 515.8L248.3 516.7L249.5 517.6L250.7 518.5L251.9 519.4L253.1 520.3L254.3 521.2L255.5 522.1L256.7 523.0L257.9 523.9L259.1 524.8L260.3 525.7L261.5 526.6L262.7 527.5L263.9 528.4L265.1 529.3L266.3 530.2L267.5 531.1L268.7 532.0L269.9 533.0L271.1 533.9L272.2 534.8L273.4 535.8L274.6 536.7L275.8 537.6L276.9 538.6L278.1 539.5L279.3 540.4L280.5 541.4L281.6 542.3L282.8 543.2L284.0 544.1L285.2 545.0L286.5 545.9L287.7 546.7L288.9 547.5L290.2 548.3L291.5 549.1L292.8 549.8L294.1 550.5L295.4 551.1L296.8 551.6L298.2 552.1L299.6 552.5L301.0 552.8L302.4 552.9L303.8 553.0L305.3 552.9L306.7 552.7L308.1 552.5L309.4 552.1L310.8 551.6L312.1 551.0L313.4 550.3L314.7 549.6L316.0 548.8L317.2 548.0L318.4 547.1L319.7 546.3L320.9 545.4L322.1 544.5L323.3 543.6L324.4 542.6L325.6 541.7L326.8 540.8L328.0 539.8L329.1 538.9L330.3 537.9L331.5 537.0L332.6 536.1L333.8 535.1L335.0 534.2L336.2 533.3L337.4 532.4L338.6 531.6L339.9 530.7L341.1 529.9L342.4 529.1L343.7 528.4L345.0 527.6L346.3 526.9L347.6 526.2L349.0 525.5L350.3 524.8L351.6 524.2L353.0 523.5L354.3 522.8L355.7 522.1L357.0 521.4L358.4 520.8L359.7 520.1L361.0 519.5L362.4 518.8L363.8 518.2L365.1 517.5L366.5 516.9L367.9 516.4L369.3 515.8L370.7 515.2L372.1 514.7L373.5 514.2L374.9 513.7L376.3 513.2L377.7 512.7L379.2 512.3L380.6 511.9L382.0 511.5L383.5 511.1L385.0 510.7L386.4 510.4L387.9 510.0L389.3 509.7L390.8 509.4L392.3 509.1L393.8 508.8L395.2 508.5L396.7 508.2L398.2 508.0L399.6 507.7L401.1 507.3L402.6 507.0L404.1 506.7L405.5 506.4L407.0 506.1L408.5 505.8L409.9 505.5L411.4 505.2L412.9 504.9L414.3 504.6L415.8 504.2L417.3 503.9L418.8 503.6L420.2 503.3L421.7 503.0L423.2 502.7L424.6 502.4L426.1 502.1L427.6 501.8L429.0 501.4L430.5 501.1L432.0 500.8L433.5 500.5L434.9 500.2L436.4 499.9L437.9 499.7L439.3 499.4L440.8 499.1L442.3 498.8L443.8 498.6L445.3 498.3L446.7 498.0L448.2 497.8L449.7 497.5L451.2 497.3L452.7 497.0L454.1 496.7L455.6 496.4L457.1 496.2L458.6 495.9L460.0 495.6L461.5 495.3L463.0 495.1L464.5 494.8L465.9 494.5L467.4 494.2L468.9 493.9L470.4 493.6L471.8 493.4L473.3 493.1L474.8 492.8L476.3 492.5L477.7 492.3L479.2 492.0L480.7 491.7L482.2 491.5L483.7 491.2L485.1 491.0L486.6 490.7L488.1 490.4L489.6 490.2L491.1 489.9L492.5 489.6L494.0 489.3L495.5 489.0L496.9 488.7L498.4 488.3L499.8 487.9L501.3 487.5L502.7 487.2L504.2 486.8L505.6 486.4L507.1 486.0L508.5 485.6L510.0 485.3L511.5 484.9L512.9 484.6L514.4 484.2L515.8 483.9L517.3 483.6L518.8 483.3L520.2 483.0L521.7 482.6L523.2 482.3L524.7 482.0L526.1 481.7L527.6 481.4L529.1 481.1L530.5 480.7L532.0 480.4L533.5 480.1L534.9 479.7L536.4 479.4L537.8 479.0L539.3 478.6L540.7 478.2L542.2 477.8L543.6 477.4L545.1 477.0L546.5 476.5L547.9 476.1L549.4 475.6L550.8 475.2L552.2 474.7L553.6 474.3L555.1 473.8L556.5 473.4L558.0 473.0L559.4 472.5L560.8 472.1L562.3 471.7L563.7 471.3L565.2 470.9L566.6 470.5L568.1 470.1L569.5 469.7L571.0 469.4L572.4 469.0L573.9 468.6L575.3 468.2L576.8 467.8L578.2 467.4L579.7 467.1L581.1 466.7L582.6 466.3L584.0 465.9L585.5 465.5L587.0 465.1L588.4 464.7L589.9 464.3L591.3 463.9L592.7 463.5L594.2 463.1L595.6 462.7L597.1 462.3L598.5 461.9L599.9 461.4L601.4 461.0L602.8 460.5L604.2 460.1L605.7 459.6L607.1 459.1L608.5 458.7L610.0 458.2L611.4 457.7L612.8 457.2L614.2 456.8L615.7 456.3L617.1 455.8L618.5 455.4L619.9 454.9L621.4 454.5L622.8 454.0L624.3 453.6L625.7 453.2L627.1 452.8L628.6 452.4L630.0 452.0L631.5 451.6L633.0 451.3L634.4 450.9L635.9 450.5L637.3 450.1L638.8 449.7L640.2 449.4L641.7 449.0L643.1 448.6L644.6 448.2L646.0 447.8L647.5 447.4L648.9 447.0L650.4 446.6L651.8 446.2L653.2 445.7L654.7 445.3L656.1 444.8L657.5 444.4L659.0 444.0L660.4 443.5L661.8 443.0L663.3 442.6L664.7 442.1L666.1 441.7L667.6 441.2L669.0 440.7L670.4 440.3L671.8 439.8L673.3 439.4L674.7 439.0L676.2 438.5L677.6 438.1L679.1 437.7L680.5 437.3L682.0 436.9L683.4 436.6L684.9 436.2L686.3 435.8L687.8 435.5L689.2 435.2L690.7 434.8L692.2 434.5L693.6 434.2L695.1 433.9L696.6 433.6L698.1 433.3L699.5 433.0L701.0 432.7L702.5 432.4L703.9 432.1L705.4 431.8L706.9 431.5L708.4 431.2L709.8 430.8L711.3 430.5L712.8 430.2L714.2 429.9L715.7 429.6L717.2 429.3L718.6 428.9L720.1 428.6L721.6 428.3L723.0 428.0L724.5 427.6L726.0 427.3L727.4 427.0L728.9 426.7L730.4 426.4L731.9 426.1L733.3 425.8L734.8 425.6L736.3 425.3L737.8 425.0L739.2 424.8L740.7 424.5L742.2 424.3L743.7 424.0L745.2 423.8L746.7 423.6L748.1 423.4L749.6 423.2L751.1 422.9L752.6 422.8L754.1 422.6L755.6 422.4L757.1 422.2L758.6 422.0L760.1 421.9L761.6 421.7L763.1 421.6L764.5 421.5L766.0 421.4L767.5 421.3L769.0 421.3L770.5 421.2L772.0 421.2L773.5 421.2L775.0 421.2L776.5 421.2L778.0 421.3L779.5 421.3L781.0 421.3L782.5 421.4L784.0 421.4L785.6 421.5L787.1 421.6L788.6 421.6L790.1 421.7L791.6 421.7L793.1 421.8L794.6 421.8L796.1 421.9L797.6 422.0L799.1 422.1L800.6 422.2L802.1 422.3L803.5 422.4L805.0 422.5L806.5 422.6L808.0 422.8L809.5 422.9L811.0 423.0L812.5 423.2L814.0 423.4L815.5 423.5L817.0 423.7L818.5 423.9L820.0 424.1L821.5 424.3L823.0 424.5L824.4 424.7L825.9 425.0L827.4 425.2L828.9 425.5L830.3 425.8L831.8 426.1L833.3 426.5L834.7 426.8L836.2 427.2L837.6 427.6L839.0 428.1L840.5 428.5L841.9 429.0L843.3 429.5L844.7 430.0L846.1 430.6L847.5 431.1L848.9 431.7L850.3 432.2L851.7 432.8L853.1 433.4L854.4 434.0L855.8 434.6L857.2 435.2L858.6 435.8L859.9 436.4L861.3 437.1L862.7 437.7L864.0 438.3L865.4 438.9L866.8 439.5L868.1 440.2L869.5 440.8L870.9 441.4L872.2 442.1L873.6 442.7L874.9 443.3L876.3 444.0L877.6 444.7L879.0 445.3L880.3 446.0L881.7 446.7L883.0 447.4L884.3 448.1L885.6 448.8L887.0 449.5L888.3 450.2L889.6 451.0L890.9 451.8L892.1 452.5L893.4 453.3L894.7 454.1L896.0 454.9L897.2 455.8L898.5 456.6L899.7 457.4L900.9 458.3L902.2 459.1L903.4 460.0L904.6 460.9L905.9 461.7L907.1 462.6L908.3 463.5L909.5 464.4L910.7 465.2L911.9 466.1L913.2 467.0L914.4 467.9L915.6 468.8L916.8 469.6L918.0 470.5L919.3 471.4L920.5 472.2L921.7 473.1L923.0 474.0L924.2 474.8L925.4 475.7L926.6 476.6L927.9 477.4L929.1 478.3L930.3 479.1L931.6 480.0L932.8 480.9L934.0 481.7L935.3 482.6L936.5 483.4L937.7 484.3L939.0 485.2L940.2 486.0L941.4 486.9L942.6 487.7L943.9 488.6L945.1 489.5L946.3 490.3L947.6 491.2L948.8 492.0L950.1 492.9L951.3 493.7L952.5 494.6L953.8 495.4L955.0 496.2L956.3 497.1L957.5 497.9L958.8 498.8L960.0 499.6L961.3 500.4L962.5 501.3L963.7 502.1L965.0 503.0L966.2 503.9L967.4 504.7L968.6 505.6L969.8 506.5L971.0 507.4L972.2 508.3L973.4 509.2L974.6 510.2L975.8 511.1L977.0 512.0L978.1 513.0L979.3 513.9L980.4 514.9L981.6 515.9L982.7 516.8L983.9 517.8L985.0 518.8L986.1 519.8L987.2 520.8L988.4 521.8L989.5 522.8L990.6 523.8L991.7 524.8L992.8 525.8L993.9 526.9L995.0 527.9L996.1 528.9L997.2 530.0L998.3 531.0L999.3 532.1L1000.4 533.1L1001.5 534.2L1002.5 535.3L1003.5 536.3L1004.6 537.4L1005.6 538.5L1006.6 539.6L1007.6 540.8L1008.6 541.9L1009.5 543.0L1010.5 544.2L1011.5 545.3L1012.4 546.5L1013.4 547.7L1014.3 548.8L1015.3 550.0L1016.3 551.1L1017.2 552.3L1018.2 553.4L1019.2 554.6L1020.2 555.7L1021.2 556.8L1022.2 557.9L1023.2 559.0L1024.2 560.1L1025.3 561.2L1026.3 562.3L1027.3 563.4L1028.4 564.5L1029.4 565.5L1030.5 566.6L1031.5 567.7L1032.6 568.8L1033.6 569.8L1034.7 570.9L1035.7 572.0L1036.8 573.0L1037.9 574.1L1038.9 575.2L1040.0 576.2L1041.0 577.3L1042.1 578.4L1043.2 579.4L1044.2 580.5L1045.3 581.6L1046.3 582.6L1047.4 583.7L1048.4 584.8L1049.5 585.9L1050.5 586.9L1051.5 588.0L1052.6 589.1L1053.6 590.2L1054.7 591.3L1055.7 592.4L1056.8 593.4L1057.8 594.5L1058.9 595.5L1060.0 596.6L1061.1 597.6L1062.2 598.6L1063.3 599.6L1064.4 600.6L1065.6 601.6L1066.7 602.5L1067.9 603.5L1069.0 604.4L1070.2 605.3L1071.4 606.3L1072.6 607.2L1073.8 608.1L1075.0 609.0" fill="none" stroke="#000" stroke-width="3.3" stroke-dasharray="31 7.5 9 15" stroke-dashoffset="0"/>
<rect x="234.5" y="675.6" width="319.4" height="205.2" fill="#fff" stroke="#999" stroke-width="2"/>
<line x1="247" y1="706.8" x2="309" y2="706.8" stroke="#000" stroke-width="3"/>
<line x1="248" y1="753.2" x2="308" y2="753.2" stroke="#000" stroke-width="3.2" stroke-linecap="round" stroke-dasharray="0.1 11.6"/>
<line x1="249" y1="800.0" x2="249.5" y2="800.0" stroke="#000" stroke-width="3.2" stroke-linecap="round"/>
<line x1="272.5" y1="800.0" x2="307" y2="800.0" stroke="#000" stroke-width="3"/>
<line x1="261.5" y1="845.1" x2="271" y2="845.1" stroke="#555" stroke-width="3"/>
<line x1="278.5" y1="845.1" x2="306" y2="845.1" stroke="#555" stroke-width="3"/>
<text x="316" y="724.0" font-size="41.5" fill="#000" textLength="52.2" lengthAdjust="spacingAndGlyphs">Au</text>
<text x="316" y="770.4" font-size="41.5" fill="#000" textLength="227.6" lengthAdjust="spacingAndGlyphs">AuPt (1:0.1)</text>
<text x="316" y="816.0" font-size="41.5" fill="#000" textLength="227.6" lengthAdjust="spacingAndGlyphs">AuPt (1:0.5)</text>
<text x="316" y="862.0" font-size="41.5" fill="#000" textLength="192.1" lengthAdjust="spacingAndGlyphs">AuPt (1:1)</text>
<rect x="1250.7" y="20.3" width="891.3" height="892.1" fill="none" stroke="#262626" stroke-width="2.6"/>
<text x="1250.5" y="981" font-size="54.5" text-anchor="middle" fill="#000">60</text>
<text x="1428.8" y="981" font-size="54.5" text-anchor="middle" fill="#000">65</text>
<text x="1607.1" y="981" font-size="54.5" text-anchor="middle" fill="#000">70</text>
<text x="1785.4" y="981" font-size="54.5" text-anchor="middle" fill="#000">75</text>
<text x="1963.7" y="981" font-size="54.5" text-anchor="middle" fill="#000">80</text>
<text x="2142.0" y="981" font-size="54.5" text-anchor="middle" fill="#000">85</text>
<text x="1697" y="1049" font-size="55.4" font-weight="bold" text-anchor="middle" fill="#000">Binding energy (eV)</text>
<text transform="translate(1209.5,466) rotate(-90)" font-size="55.4" font-weight="bold" text-anchor="middle" fill="#000">Intesity (a.u.)</text>
<text transform="translate(1262.5,86.6) scale(0.92,1)" font-size="55" style="font-family:DejaVu Sans,sans-serif" fill="#000">b</text>
<path d="M1525.0 798.5L1526.5 798.4L1528.0 798.4L1529.5 798.3L1531.0 798.3L1532.5 798.2L1534.0 798.1L1535.5 798.1L1537.0 798.0L1538.5 797.9L1540.0 797.8L1541.5 797.7L1543.0 797.6L1544.5 797.5L1546.0 797.4L1547.5 797.3L1549.0 797.1L1550.5 797.0L1552.0 796.8L1553.5 796.6L1554.9 796.4L1556.4 796.2L1557.9 795.9L1559.4 795.6L1560.8 795.2L1562.3 794.8L1563.7 794.3L1565.1 793.9L1566.5 793.3L1567.9 792.7L1569.2 792.1L1570.6 791.4L1571.8 790.6L1573.1 789.8L1574.3 788.9L1575.5 788.0L1576.6 787.0L1577.6 785.9L1578.6 784.8L1579.6 783.7L1580.5 782.5L1581.4 781.3L1582.2 780.1L1583.0 778.8L1583.8 777.5L1584.5 776.2L1585.1 774.8L1585.8 773.5L1586.4 772.1L1587.0 770.7L1587.6 769.3L1588.1 767.9L1588.6 766.5L1589.1 765.1L1589.6 763.7L1590.0 762.2L1590.4 760.8L1590.8 759.3L1591.2 757.9L1591.6 756.4L1592.0 755.0L1592.3 753.5L1592.7 752.1L1593.1 750.6L1593.4 749.2L1593.8 747.7L1594.1 746.2L1594.4 744.8L1594.7 743.3L1595.0 741.8L1595.3 740.3L1595.5 738.9L1595.8 737.4L1596.0 735.9L1596.3 734.4L1596.5 732.9L1596.7 731.5L1596.9 730.0L1597.1 728.5L1597.3 727.0L1597.5 725.5L1597.7 724.0L1597.9 722.5L1598.1 721.0L1598.3 719.5L1598.5 718.1L1598.7 716.6L1598.9 715.1L1599.0 713.6L1599.2 712.1L1599.4 710.6L1599.6 709.1L1599.7 707.6L1599.9 706.1L1600.1 704.6L1600.2 703.1L1600.4 701.6L1600.5 700.2L1600.7 698.7L1600.8 697.2L1601.0 695.7L1601.1 694.2L1601.3 692.7L1601.4 691.2L1601.5 689.7L1601.7 688.2L1601.8 686.7L1601.9 685.2L1602.1 683.7L1602.2 682.2L1602.3 680.7L1602.4 679.2L1602.6 677.7L1602.7 676.2L1602.8 674.7L1602.9 673.2L1603.1 671.7L1603.2 670.2L1603.3 668.7L1603.4 667.2L1603.6 665.7L1603.7 664.3L1603.8 662.8L1603.9 661.3L1604.1 659.8L1604.2 658.3L1604.3 656.8L1604.4 655.3L1604.6 653.8L1604.7 652.3L1604.8 650.8L1604.9 649.3L1605.1 647.8L1605.2 646.3L1605.3 644.8L1605.4 643.3L1605.6 641.8L1605.7 640.3L1605.8 638.8L1606.0 637.3L1606.1 635.8L1606.2 634.3L1606.4 632.8L1606.5 631.3L1606.6 629.8L1606.8 628.3L1606.9 626.8L1607.0 625.4L1607.2 623.9L1607.3 622.4L1607.4 620.9L1607.5 619.4L1607.7 617.9L1607.8 616.4L1607.9 614.9L1608.0 613.4L1608.2 611.9L1608.3 610.4L1608.4 608.9L1608.5 607.4L1608.6 605.9L1608.7 604.4L1608.8 602.9L1608.9 601.4L1609.0 599.9L1609.1 598.4L1609.2 596.9L1609.3 595.4L1609.3 593.9L1609.4 592.4L1609.5 590.9L1609.5 589.4L1609.6 587.9L1609.7 586.4L1609.7 584.9L1609.8 583.4L1609.8 581.9L1609.9 580.4L1609.9 578.9L1610.0 577.4L1610.0 575.9L1610.1 574.4L1610.1 572.9L1610.2 571.4L1610.3 569.9L1610.3 568.4L1610.4 566.9L1610.4 565.4L1610.5 563.9L1610.5 562.4L1610.6 560.9L1610.7 559.4L1610.7 557.9L1610.8 556.4L1610.9 554.9L1611.0 553.4L1611.1 551.9L1611.2 550.4L1611.3 548.9L1611.4 547.4L1611.5 545.9L1611.6 544.4L1611.7 542.9L1611.8 541.4L1611.9 539.9L1612.0 538.4L1612.1 536.9L1612.2 535.4L1612.4 533.9L1612.5 532.4L1612.6 530.9L1612.7 529.4L1612.9 527.9L1613.0 526.4L1613.1 524.9L1613.2 523.4L1613.4 521.9L1613.5 520.5L1613.6 519.0L1613.8 517.5L1613.9 516.0L1614.0 514.5L1614.2 513.0L1614.3 511.5L1614.4 510.0L1614.5 508.5L1614.7 507.0L1614.8 505.5L1614.9 504.0L1615.0 502.5L1615.1 501.0L1615.3 499.5L1615.4 498.0L1615.5 496.5L1615.6 495.0L1615.7 493.5L1615.8 492.0L1615.9 490.5L1616.0 489.0L1616.2 487.5L1616.3 486.0L1616.4 484.5L1616.5 483.0L1616.6 481.5L1616.7 480.0L1616.8 478.5L1616.9 477.0L1617.0 475.5L1617.1 474.0L1617.2 472.5L1617.3 471.0L1617.4 469.5L1617.5 468.0L1617.6 466.5L1617.7 465.1L1617.8 463.6L1617.9 462.1L1618.0 460.6L1618.1 459.1L1618.2 457.6L1618.3 456.1L1618.4 454.6L1618.5 453.1L1618.6 451.6L1618.7 450.1L1618.8 448.6L1618.9 447.1L1619.0 445.6L1619.1 444.1L1619.2 442.6L1619.3 441.1L1619.4 439.6L1619.5 438.1L1619.6 436.6L1619.7 435.1L1619.8 433.6L1619.9 432.1L1620.0 430.6L1620.1 429.1L1620.2 427.6L1620.3 426.1L1620.4 424.6L1620.5 423.1L1620.5 421.6L1620.6 420.1L1620.7 418.6L1620.8 417.1L1620.9 415.6L1621.0 414.1L1621.1 412.6L1621.2 411.1L1621.3 409.6L1621.4 408.1L1621.5 406.6L1621.6 405.1L1621.7 403.6L1621.8 402.1L1621.9 400.6L1622.0 399.1L1622.1 397.6L1622.2 396.1L1622.3 394.6L1622.4 393.1L1622.5 391.6L1622.6 390.1L1622.7 388.6L1622.8 387.1L1622.9 385.6L1623.0 384.1L1623.1 382.6L1623.2 381.1L1623.3 379.6L1623.4 378.1L1623.5 376.6L1623.6 375.1L1623.7 373.6L1623.8 372.1L1623.9 370.6L1624.0 369.1L1624.1 367.7L1624.2 366.2L1624.3 364.7L1624.4 363.2L1624.5 361.7L1624.6 360.2L1624.7 358.7L1624.8 357.2L1624.9 355.7L1625.0 354.2L1625.1 352.7L1625.2 351.2L1625.3 349.7L1625.4 348.2L1625.6 346.7L1625.7 345.2L1625.8 343.7L1626.0 342.2L1626.1 340.7L1626.3 339.2L1626.5 337.7L1626.7 336.2L1626.9 334.7L1627.1 333.3L1627.3 331.8L1627.6 330.3L1627.8 328.8L1628.1 327.3L1628.4 325.9L1628.6 324.4L1628.9 322.9L1629.2 321.4L1629.5 320.0L1629.9 318.5L1630.2 317.0L1630.6 315.6L1631.0 314.2L1631.5 312.8L1632.1 311.5L1632.9 310.3L1633.7 309.3L1634.7 308.7L1635.8 308.5L1636.9 308.7L1637.9 309.4L1638.8 310.4L1639.5 311.6L1640.0 312.9L1640.5 314.3L1640.9 315.8L1641.3 317.2L1641.7 318.7L1642.0 320.2L1642.3 321.6L1642.6 323.1L1642.9 324.6L1643.2 326.0L1643.4 327.5L1643.7 329.0L1643.9 330.5L1644.2 332.0L1644.4 333.4L1644.6 334.9L1644.9 336.4L1645.1 337.9L1645.3 339.4L1645.4 340.9L1645.6 342.4L1645.8 343.9L1645.9 345.4L1646.1 346.9L1646.2 348.3L1646.4 349.8L1646.5 351.3L1646.6 352.8L1646.8 354.3L1646.9 355.8L1647.1 357.3L1647.2 358.8L1647.3 360.3L1647.5 361.8L1647.6 363.3L1647.8 364.8L1647.9 366.3L1648.0 367.8L1648.2 369.3L1648.3 370.8L1648.5 372.3L1648.6 373.8L1648.7 375.3L1648.9 376.8L1649.0 378.3L1649.1 379.7L1649.3 381.2L1649.4 382.7L1649.5 384.2L1649.7 385.7L1649.8 387.2L1649.9 388.7L1650.1 390.2L1650.2 391.7L1650.3 393.2L1650.5 394.7L1650.6 396.2L1650.8 397.7L1650.9 399.2L1651.0 400.7L1651.2 402.2L1651.3 403.7L1651.5 405.2L1651.6 406.7L1651.7 408.2L1651.9 409.7L1652.0 411.2L1652.2 412.6L1652.3 414.1L1652.5 415.6L1652.6 417.1L1652.8 418.6L1652.9 420.1L1653.1 421.6L1653.2 423.1L1653.3 424.6L1653.5 426.1L1653.6 427.6L1653.8 429.1L1653.9 430.6L1654.1 432.1L1654.2 433.6L1654.4 435.1L1654.5 436.6L1654.7 438.0L1654.8 439.5L1655.0 441.0L1655.1 442.5L1655.3 444.0L1655.4 445.5L1655.6 447.0L1655.7 448.5L1655.9 450.0L1656.0 451.5L1656.2 453.0L1656.3 454.5L1656.5 456.0L1656.6 457.5L1656.8 459.0L1656.9 460.5L1657.1 462.0L1657.2 463.5L1657.4 464.9L1657.5 466.4L1657.7 467.9L1657.8 469.4L1658.0 470.9L1658.1 472.4L1658.3 473.9L1658.4 475.4L1658.6 476.9L1658.7 478.4L1658.9 479.9L1659.0 481.4L1659.2 482.9L1659.3 484.4L1659.5 485.9L1659.6 487.4L1659.8 488.8L1660.0 490.3L1660.1 491.8L1660.3 493.3L1660.4 494.8L1660.5 496.3L1660.7 497.8L1660.8 499.3L1661.0 500.8L1661.1 502.3L1661.3 503.8L1661.4 505.3L1661.6 506.8L1661.7 508.3L1661.8 509.8L1662.0 511.3L1662.1 512.8L1662.3 514.3L1662.4 515.8L1662.6 517.2L1662.7 518.7L1662.9 520.2L1663.0 521.7L1663.2 523.2L1663.3 524.7L1663.5 526.2L1663.6 527.7L1663.8 529.2L1663.9 530.7L1664.1 532.2L1664.3 533.7L1664.4 535.2L1664.6 536.7L1664.8 538.2L1665.0 539.6L1665.1 541.1L1665.3 542.6L1665.5 544.1L1665.7 545.6L1665.9 547.1L1666.2 548.6L1666.4 550.1L1666.6 551.5L1666.8 553.0L1667.1 554.5L1667.3 556.0L1667.5 557.5L1667.8 559.0L1668.0 560.4L1668.2 561.9L1668.5 563.4L1668.7 564.9L1668.9 566.4L1669.2 567.9L1669.4 569.3L1669.6 570.8L1669.8 572.3L1670.0 573.8L1670.3 575.3L1670.5 576.8L1670.7 578.3L1670.9 579.8L1671.1 581.2L1671.3 582.7L1671.5 584.2L1671.7 585.7L1671.9 587.2L1672.2 588.7L1672.4 590.2L1672.6 591.6L1672.8 593.1L1673.1 594.6L1673.3 596.1L1673.6 597.6L1673.8 599.0L1674.1 600.5L1674.4 602.0L1674.7 603.5L1675.0 604.9L1675.3 606.4L1675.6 607.9L1675.9 609.4L1676.2 610.8L1676.5 612.3L1676.8 613.8L1677.2 615.2L1677.5 616.7L1677.9 618.1L1678.3 619.6L1678.7 621.0L1679.0 622.5L1679.5 623.9L1679.9 625.4L1680.3 626.8L1680.7 628.3L1681.1 629.7L1681.6 631.1L1682.0 632.6L1682.5 634.0L1682.9 635.4L1683.4 636.9L1683.8 638.3L1684.3 639.7L1684.8 641.2L1685.3 642.6L1685.8 644.0L1686.3 645.4L1686.8 646.8L1687.3 648.2L1687.9 649.6L1688.5 651.0L1689.1 652.4L1689.7 653.7L1690.3 655.1L1690.9 656.5L1691.6 657.8L1692.3 659.1L1693.0 660.5L1693.7 661.8L1694.4 663.1L1695.1 664.4L1695.9 665.7L1696.7 667.0L1697.5 668.3L1698.3 669.5L1699.1 670.8L1700.0 672.0L1700.9 673.2L1701.8 674.4L1702.8 675.5L1703.8 676.6L1704.9 677.7L1706.0 678.7L1707.1 679.6L1708.4 680.5L1709.6 681.3L1710.9 682.0L1712.2 682.7L1713.6 683.3L1715.0 683.8L1716.4 684.3L1717.9 684.7L1719.3 685.1L1720.8 685.3L1722.3 685.6L1723.8 685.7L1725.2 685.7L1726.7 685.7L1728.2 685.6L1729.7 685.4L1731.2 685.1L1732.6 684.8L1734.1 684.4L1735.5 684.0L1736.9 683.5L1738.3 683.0L1739.7 682.4L1741.1 681.8L1742.5 681.2L1743.8 680.5L1745.1 679.8L1746.5 679.1L1747.8 678.4L1749.1 677.7L1750.4 676.9L1751.7 676.1L1753.0 675.4L1754.2 674.6L1755.5 673.8L1756.8 673.0L1758.1 672.2L1759.3 671.4L1760.6 670.6L1761.9 669.8L1763.1 668.9L1764.3 668.1L1765.6 667.2L1766.8 666.4L1768.0 665.5L1769.3 664.7L1770.5 663.8L1771.7 662.9L1773.0 662.1L1774.2 661.2L1775.5 660.4L1776.7 659.6L1778.0 658.8L1779.2 658.0L1780.5 657.2L1781.8 656.4L1783.1 655.6L1784.3 654.8L1785.6 654.0L1786.9 653.2L1788.2 652.5L1789.5 651.7L1790.8 650.9L1792.1 650.2L1793.4 649.4L1794.7 648.7L1796.0 647.9L1797.3 647.2L1798.6 646.5L1799.9 645.8L1801.3 645.1L1802.6 644.4L1803.9 643.7L1805.3 643.1L1806.6 642.4L1808.0 641.8L1809.4 641.2L1810.8 640.6L1812.1 640.0L1813.5 639.4L1814.9 638.9L1816.3 638.4L1817.8 637.9L1819.2 637.4L1820.6 636.9L1822.0 636.5L1823.5 636.0L1824.9 635.6L1826.4 635.2L1827.8 634.8L1829.3 634.4L1830.7 634.1L1832.2 633.7L1833.6 633.4L1835.1 633.0L1836.6 632.7L1838.0 632.4L1839.5 632.1L1841.0 631.8L1842.4 631.5L1843.9 631.2L1845.4 630.9L1846.9 630.6L1848.3 630.3L1849.8 630.0L1851.3 629.8L1852.8 629.5L1854.2 629.2L1855.7 628.9L1857.2 628.7L1858.7 628.4L1860.2 628.1L1861.6 627.9L1863.1 627.6L1864.6 627.4L1866.1 627.2L1867.6 626.9L1869.1 626.7L1870.5 626.5L1872.0 626.3L1873.5 626.2L1875.0 626.0L1876.5 625.8L1878.0 625.7L1879.5 625.6L1881.0 625.4L1882.5 625.3L1884.0 625.2L1885.5 625.1L1887.0 625.0L1888.5 624.9L1890.0 624.9L1891.5 624.8L1893.0 624.7L1894.5 624.6L1896.0 624.6L1897.5 624.5L1899.0 624.4L1900.5 624.4L1902.0 624.3L1903.5 624.3L1905.0 624.2L1906.5 624.2L1908.0 624.1L1909.5 624.1L1911.0 624.0L1912.5 624.0L1914.0 623.9L1915.5 623.9L1917.0 623.8L1918.5 623.8L1920.0 623.7L1921.5 623.7L1923.0 623.6L1924.5 623.6L1926.0 623.5" fill="none" stroke="#000" stroke-width="3" stroke-linejoin="round"/>
<path d="M1525.0 798.5L1526.5 798.5L1528.0 798.4L1529.5 798.4L1531.0 798.4L1532.5 798.3L1534.0 798.3L1535.5 798.3L1537.0 798.2L1538.5 798.2L1540.0 798.1L1541.5 798.1L1543.0 798.1L1544.5 798.0L1546.0 798.0L1547.5 798.0L1549.0 797.9L1550.5 797.9L1552.0 797.9L1553.5 797.8L1555.0 797.8L1556.5 797.8L1558.0 797.7L1559.5 797.7L1561.0 797.6L1562.5 797.6L1564.0 797.6L1565.5 797.5L1567.0 797.5L1568.5 797.4L1570.0 797.4L1571.5 797.3L1573.0 797.3L1574.5 797.3L1576.0 797.2L1577.5 797.2L1579.0 797.1L1580.5 797.1L1582.0 797.0L1583.5 797.0L1585.0 796.9L1586.5 796.8L1588.0 796.7L1589.5 796.5L1591.0 796.3L1592.5 796.1L1594.0 795.9L1595.4 795.6L1596.9 795.3L1598.3 795.0L1599.8 794.5L1601.2 794.1L1602.6 793.5L1604.0 792.9L1605.3 792.2L1606.6 791.5L1607.9 790.7L1609.1 789.9L1610.4 789.1L1611.6 788.2L1612.8 787.3L1614.1 786.5L1615.3 785.6L1616.5 784.7L1617.7 783.8L1618.9 782.9L1620.1 782.0L1621.3 781.1L1622.4 780.1L1623.5 779.1L1624.7 778.1L1625.8 777.1L1626.9 776.1L1627.9 775.1L1629.0 774.0L1630.1 772.9L1631.1 771.9L1632.2 770.8L1633.3 769.8L1634.3 768.7L1635.4 767.6L1636.4 766.5L1637.5 765.5L1638.5 764.4L1639.6 763.3L1640.6 762.3L1641.7 761.2L1642.8 760.2L1643.8 759.1L1644.9 758.1L1646.0 757.0L1647.1 756.0L1648.2 755.0L1649.3 754.0L1650.4 753.0L1651.6 752.0L1652.7 751.0L1653.8 750.0L1655.0 749.1L1656.1 748.1L1657.3 747.2L1658.5 746.2L1659.6 745.3L1660.8 744.3L1662.0 743.4L1663.2 742.5L1664.3 741.5L1665.5 740.6L1666.7 739.7L1667.9 738.8L1669.1 737.9L1670.3 737.0L1671.5 736.1L1672.7 735.2L1673.9 734.3L1675.1 733.4L1676.3 732.5L1677.5 731.6L1678.6 730.6L1679.8 729.6L1680.9 728.6L1681.9 727.6L1683.0 726.5L1684.0 725.4L1685.1 724.3L1686.1 723.2L1687.1 722.1L1688.0 720.9L1689.0 719.8L1689.9 718.6L1690.9 717.4L1691.8 716.2L1692.7 715.0L1693.6 713.8L1694.4 712.6L1695.3 711.4L1696.1 710.1L1696.9 708.8L1697.6 707.5L1698.3 706.2L1699.0 704.9L1699.7 703.5L1700.3 702.2L1700.9 700.8L1701.5 699.4L1702.1 698.0L1702.7 696.7L1703.2 695.2L1703.7 693.8L1704.2 692.4L1704.7 691.0L1705.1 689.6L1705.5 688.1L1705.9 686.7L1706.3 685.2L1706.6 683.8L1706.9 682.3L1707.2 680.8L1707.5 679.3L1707.8 677.9L1708.0 676.4L1708.3 674.9L1708.5 673.4L1708.8 671.9L1709.0 670.5L1709.2 669.0L1709.4 667.5L1709.6 666.0L1709.8 664.5L1710.0 663.0L1710.3 661.5L1710.5 660.1L1710.7 658.6L1710.9 657.1L1711.2 655.6L1711.4 654.1L1711.6 652.6L1711.9 651.2L1712.1 649.7L1712.4 648.2L1712.7 646.7L1712.9 645.3L1713.2 643.8L1713.5 642.3L1713.7 640.8L1714.0 639.3L1714.3 637.9L1714.5 636.4L1714.8 634.9L1715.0 633.4L1715.3 631.9L1715.5 630.5L1715.7 629.0L1716.0 627.5L1716.2 626.0L1716.4 624.5L1716.6 623.0L1716.9 621.6L1717.1 620.1L1717.3 618.6L1717.5 617.1L1717.8 615.6L1718.0 614.1L1718.2 612.7L1718.4 611.2L1718.6 609.7L1718.8 608.2L1719.0 606.7L1719.2 605.2L1719.4 603.7L1719.6 602.2L1719.8 600.8L1720.0 599.3L1720.1 597.8L1720.3 596.3L1720.5 594.8L1720.7 593.3L1720.8 591.8L1721.0 590.3L1721.1 588.8L1721.3 587.3L1721.4 585.8L1721.5 584.3L1721.7 582.8L1721.8 581.3L1721.9 579.9L1722.0 578.4L1722.1 576.9L1722.3 575.4L1722.4 573.9L1722.5 572.4L1722.6 570.9L1722.7 569.4L1722.8 567.9L1722.9 566.4L1723.0 564.9L1723.1 563.4L1723.2 561.9L1723.4 560.4L1723.5 558.9L1723.6 557.4L1723.7 555.9L1723.8 554.4L1723.9 552.9L1724.0 551.4L1724.1 549.9L1724.2 548.4L1724.3 546.9L1724.5 545.4L1724.6 543.9L1724.7 542.4L1724.9 540.9L1725.0 539.4L1725.1 537.9L1725.3 536.5L1725.4 535.0L1725.6 533.5L1725.7 532.0L1725.9 530.5L1726.0 529.0L1726.2 527.5L1726.3 526.0L1726.4 524.5L1726.6 523.0L1726.7 521.5L1726.9 520.0L1727.0 518.5L1727.1 517.0L1727.2 515.5L1727.4 514.0L1727.5 512.5L1727.6 511.0L1727.7 509.6L1727.9 508.1L1728.0 506.6L1728.1 505.1L1728.2 503.6L1728.4 502.1L1728.5 500.6L1728.6 499.1L1728.7 497.6L1728.8 496.1L1729.0 494.6L1729.1 493.1L1729.2 491.6L1729.3 490.1L1729.4 488.6L1729.6 487.1L1729.7 485.6L1729.8 484.1L1729.9 482.6L1730.0 481.1L1730.2 479.6L1730.3 478.1L1730.4 476.6L1730.5 475.1L1730.6 473.6L1730.8 472.1L1730.9 470.7L1731.0 469.2L1731.1 467.7L1731.2 466.2L1731.4 464.7L1731.5 463.2L1731.6 461.7L1731.7 460.2L1731.8 458.7L1732.0 457.2L1732.1 455.7L1732.2 454.2L1732.3 452.7L1732.4 451.2L1732.5 449.7L1732.7 448.2L1732.8 446.7L1732.9 445.2L1733.0 443.7L1733.1 442.2L1733.2 440.7L1733.3 439.2L1733.5 437.7L1733.6 436.2L1733.7 434.7L1733.8 433.2L1733.9 431.7L1734.0 430.2L1734.1 428.8L1734.3 427.3L1734.4 425.8L1734.5 424.3L1734.6 422.8L1734.7 421.3L1734.9 419.8L1735.0 418.3L1735.1 416.8L1735.2 415.3L1735.3 413.8L1735.5 412.3L1735.6 410.8L1735.7 409.3L1735.8 407.8L1736.0 406.3L1736.1 404.8L1736.2 403.3L1736.3 401.8L1736.5 400.3L1736.6 398.8L1736.8 397.3L1736.9 395.8L1737.0 394.4L1737.2 392.9L1737.3 391.4L1737.5 389.9L1737.6 388.4L1737.8 386.9L1737.9 385.4L1738.1 383.9L1738.2 382.4L1738.4 380.9L1738.5 379.4L1738.7 377.9L1738.8 376.4L1739.0 374.9L1739.1 373.4L1739.3 371.9L1739.4 370.5L1739.6 369.0L1739.7 367.5L1739.9 366.0L1740.1 364.5L1740.2 363.0L1740.4 361.5L1740.5 360.0L1740.7 358.5L1740.8 357.0L1741.0 355.5L1741.1 354.0L1741.3 352.5L1741.4 351.0L1741.6 349.6L1741.7 348.1L1741.9 346.6L1742.1 345.1L1742.3 343.6L1742.5 342.1L1742.7 340.6L1742.9 339.1L1743.2 337.7L1743.5 336.2L1743.9 334.7L1744.3 333.3L1744.7 331.9L1745.2 330.4L1745.7 329.1L1746.4 327.8L1747.1 326.6L1748.0 325.6L1749.1 325.0L1750.2 324.8L1751.3 325.0L1752.4 325.6L1753.4 326.4L1754.3 327.5L1755.1 328.8L1755.7 330.1L1756.2 331.5L1756.6 332.9L1757.0 334.3L1757.4 335.8L1757.7 337.3L1758.0 338.7L1758.3 340.2L1758.5 341.7L1758.8 343.2L1759.0 344.7L1759.2 346.1L1759.4 347.6L1759.6 349.1L1759.8 350.6L1760.0 352.1L1760.2 353.6L1760.3 355.1L1760.5 356.6L1760.6 358.1L1760.8 359.6L1760.9 361.0L1761.1 362.5L1761.2 364.0L1761.4 365.5L1761.5 367.0L1761.6 368.5L1761.8 370.0L1761.9 371.5L1762.0 373.0L1762.2 374.5L1762.3 376.0L1762.4 377.5L1762.6 379.0L1762.7 380.5L1762.8 382.0L1763.0 383.5L1763.1 385.0L1763.2 386.5L1763.4 388.0L1763.5 389.5L1763.7 390.9L1763.8 392.4L1763.9 393.9L1764.1 395.4L1764.3 396.9L1764.4 398.4L1764.6 399.9L1764.7 401.4L1764.9 402.9L1765.1 404.4L1765.3 405.9L1765.5 407.4L1765.6 408.8L1765.8 410.3L1766.0 411.8L1766.3 413.3L1766.5 414.8L1766.7 416.3L1766.9 417.8L1767.1 419.2L1767.4 420.7L1767.6 422.2L1767.8 423.7L1768.1 425.2L1768.3 426.7L1768.5 428.1L1768.8 429.6L1769.0 431.1L1769.2 432.6L1769.5 434.1L1769.7 435.6L1770.0 437.0L1770.2 438.5L1770.4 440.0L1770.6 441.5L1770.9 443.0L1771.1 444.5L1771.3 445.9L1771.5 447.4L1771.8 448.9L1772.0 450.4L1772.2 451.9L1772.4 453.4L1772.6 454.9L1772.8 456.3L1773.0 457.8L1773.2 459.3L1773.4 460.8L1773.6 462.3L1773.8 463.8L1774.0 465.3L1774.2 466.8L1774.3 468.2L1774.5 469.7L1774.7 471.2L1774.9 472.7L1775.1 474.2L1775.3 475.7L1775.5 477.2L1775.7 478.7L1775.9 480.2L1776.1 481.6L1776.3 483.1L1776.5 484.6L1776.7 486.1L1776.9 487.6L1777.1 489.1L1777.3 490.6L1777.5 492.1L1777.7 493.5L1777.9 495.0L1778.1 496.5L1778.3 498.0L1778.5 499.5L1778.7 501.0L1778.9 502.5L1779.1 504.0L1779.3 505.4L1779.5 506.9L1779.7 508.4L1779.9 509.9L1780.1 511.4L1780.3 512.9L1780.4 514.4L1780.7 515.9L1780.9 517.4L1781.1 518.8L1781.3 520.3L1781.5 521.8L1781.7 523.3L1781.9 524.8L1782.2 526.3L1782.4 527.7L1782.7 529.2L1782.9 530.7L1783.2 532.2L1783.4 533.7L1783.7 535.1L1784.0 536.6L1784.3 538.1L1784.7 539.5L1785.0 541.0L1785.3 542.5L1785.7 543.9L1786.0 545.4L1786.4 546.8L1786.7 548.3L1787.1 549.7L1787.5 551.2L1787.9 552.6L1788.3 554.1L1788.7 555.5L1789.1 557.0L1789.6 558.4L1790.0 559.8L1790.4 561.3L1790.9 562.7L1791.4 564.1L1791.8 565.6L1792.3 567.0L1792.8 568.4L1793.3 569.8L1793.9 571.2L1794.4 572.6L1794.9 574.0L1795.5 575.4L1796.1 576.8L1796.7 578.2L1797.3 579.5L1797.9 580.9L1798.6 582.2L1799.2 583.6L1799.9 584.9L1800.7 586.2L1801.4 587.5L1802.1 588.8L1802.9 590.1L1803.7 591.4L1804.5 592.7L1805.4 593.9L1806.2 595.1L1807.1 596.4L1808.0 597.6L1808.9 598.8L1809.8 599.9L1810.8 601.1L1811.7 602.3L1812.7 603.4L1813.7 604.5L1814.7 605.6L1815.8 606.7L1816.8 607.7L1817.9 608.8L1819.1 609.8L1820.2 610.7L1821.4 611.6L1822.6 612.5L1823.9 613.3L1825.1 614.1L1826.4 614.8L1827.8 615.5L1829.1 616.1L1830.5 616.7L1831.9 617.3L1833.3 617.7L1834.8 618.1L1836.2 618.5L1837.7 618.9L1839.1 619.2L1840.6 619.5L1842.1 619.7L1843.6 620.0L1845.1 620.2L1846.5 620.4L1848.0 620.6L1849.5 620.7L1851.0 620.9L1852.5 621.0L1854.0 621.1L1855.5 621.2L1857.0 621.3L1858.5 621.4L1860.0 621.5L1861.5 621.6L1863.0 621.7L1864.5 621.7L1866.0 621.8L1867.5 621.9L1869.0 621.9L1870.5 622.0L1872.0 622.0L1873.5 622.1L1875.0 622.2L1876.5 622.2L1878.0 622.3L1879.5 622.4L1881.0 622.4L1882.5 622.5L1884.0 622.6L1885.5 622.6L1887.0 622.7L1888.5 622.8L1890.0 622.8L1891.5 622.9L1893.0 622.9L1894.5 623.0L1896.0 623.0L1897.5 623.1L1899.0 623.2L1900.5 623.2L1902.0 623.3L1903.5 623.3L1905.0 623.4L1906.5 623.4L1908.0 623.4L1909.5 623.5L1911.0 623.5L1912.5 623.6L1914.0 623.6L1915.5 623.7L1917.0 623.7L1918.5 623.8L1920.0 623.8L1921.5 623.9L1923.0 623.9L1924.5 624.0L1926.0 624.0" fill="none" stroke="#000" stroke-width="3" stroke-linejoin="round"/>
<path d="M1525.0 798.5L1526.5 798.4L1528.0 798.4L1529.5 798.3L1531.0 798.2L1532.5 798.2L1534.0 798.1L1535.5 798.0L1537.0 798.0L1538.5 797.9L1540.0 797.8L1541.5 797.7L1543.0 797.5L1544.5 797.4L1546.0 797.2L1547.5 797.0L1548.9 796.8L1550.4 796.5L1551.9 796.2L1553.3 795.8L1554.8 795.4L1556.2 795.0L1557.7 794.6L1559.1 794.2L1560.6 793.7L1562.0 793.3L1563.4 792.8L1564.8 792.3L1566.3 791.8L1567.7 791.3L1569.1 790.8L1570.5 790.3L1571.9 789.8L1573.3 789.2L1574.7 788.7L1576.1 788.2L1577.5 787.7L1578.9 787.2L1580.4 786.7L1581.8 786.2L1583.2 785.7L1584.6 785.2L1586.0 784.7L1587.4 784.2L1588.8 783.6L1590.2 782.9L1591.5 782.3L1592.8 781.5L1594.0 780.7L1595.3 779.8L1596.4 778.9L1597.6 777.9L1598.7 776.9L1599.8 775.9L1600.8 774.8L1601.9 773.8L1602.9 772.6L1603.9 771.5L1604.8 770.3L1605.7 769.1L1606.6 767.9L1607.4 766.7L1608.2 765.4L1608.9 764.1L1609.6 762.8L1610.3 761.4L1611.0 760.1L1611.7 758.8L1612.4 757.4L1613.0 756.1L1613.6 754.7L1614.3 753.3L1614.8 751.9L1615.4 750.6L1616.0 749.2L1616.5 747.8L1617.0 746.3L1617.5 744.9L1618.0 743.5L1618.4 742.1L1618.9 740.6L1619.4 739.2L1619.8 737.8L1620.3 736.4L1620.8 734.9L1621.2 733.5L1621.8 732.1L1622.3 730.7L1622.8 729.3L1623.4 727.9L1623.9 726.5L1624.5 725.1L1625.0 723.7L1625.6 722.3L1626.1 720.9L1626.6 719.5L1627.1 718.1L1627.5 716.6L1627.9 715.2L1628.3 713.7L1628.7 712.3L1629.1 710.8L1629.4 709.4L1629.7 707.9L1630.1 706.4L1630.4 705.0L1630.7 703.5L1631.1 702.0L1631.4 700.6L1631.8 699.1L1632.1 697.7L1632.5 696.2L1632.8 694.7L1633.2 693.3L1633.5 691.8L1633.8 690.3L1634.1 688.9L1634.5 687.4L1634.8 685.9L1635.1 684.5L1635.4 683.0L1635.7 681.5L1636.0 680.1L1636.3 678.6L1636.6 677.1L1636.9 675.6L1637.2 674.2L1637.5 672.7L1637.8 671.2L1638.1 669.8L1638.4 668.3L1638.7 666.8L1639.0 665.3L1639.3 663.9L1639.6 662.4L1639.9 660.9L1640.2 659.4L1640.5 658.0L1640.8 656.5L1641.1 655.0L1641.4 653.6L1641.7 652.1L1642.0 650.6L1642.3 649.1L1642.6 647.7L1642.9 646.2L1643.2 644.7L1643.5 643.2L1643.8 641.8L1644.0 640.3L1644.3 638.8L1644.6 637.4L1644.9 635.9L1645.2 634.4L1645.5 632.9L1645.8 631.5L1646.1 630.0L1646.4 628.5L1646.7 627.0L1647.0 625.6L1647.2 624.1L1647.5 622.6L1647.8 621.1L1648.1 619.7L1648.4 618.2L1648.6 616.7L1648.9 615.2L1649.2 613.8L1649.4 612.3L1649.7 610.8L1649.9 609.3L1650.2 607.8L1650.5 606.4L1650.7 604.9L1651.0 603.4L1651.3 601.9L1651.5 600.4L1651.8 599.0L1652.1 597.5L1652.4 596.0L1652.7 594.6L1653.0 593.1L1653.3 591.6L1653.6 590.1L1654.0 588.7L1654.3 587.2L1654.6 585.7L1654.9 584.3L1655.2 582.8L1655.6 581.3L1655.9 579.9L1656.2 578.4L1656.5 576.9L1656.8 575.5L1657.2 574.0L1657.5 572.5L1657.8 571.1L1658.1 569.6L1658.4 568.1L1658.7 566.7L1659.1 565.2L1659.4 563.7L1659.7 562.3L1660.0 560.8L1660.3 559.3L1660.6 557.8L1660.9 556.4L1661.2 554.9L1661.5 553.4L1661.8 552.0L1662.2 550.5L1662.5 549.0L1662.8 547.6L1663.1 546.1L1663.4 544.6L1663.8 543.2L1664.1 541.7L1664.4 540.2L1664.7 538.8L1665.1 537.3L1665.4 535.8L1665.8 534.4L1666.1 532.9L1666.4 531.4L1666.8 530.0L1667.1 528.5L1667.5 527.1L1667.8 525.6L1668.1 524.1L1668.5 522.7L1668.9 521.2L1669.2 519.8L1669.6 518.3L1670.0 516.9L1670.4 515.4L1670.8 514.0L1671.3 512.5L1671.7 511.1L1672.2 509.7L1672.7 508.3L1673.3 506.9L1673.8 505.5L1674.4 504.1L1675.0 502.7L1675.7 501.4L1676.4 500.1L1677.2 498.8L1678.1 497.6L1679.1 496.6L1680.2 495.6L1681.4 495.0L1682.6 494.5L1684.0 494.4L1685.3 494.7L1686.5 495.2L1687.7 496.0L1688.7 497.0L1689.7 498.1L1690.6 499.3L1691.4 500.5L1692.1 501.8L1692.9 503.1L1693.6 504.5L1694.2 505.8L1694.9 507.2L1695.5 508.5L1696.1 509.9L1696.7 511.3L1697.3 512.6L1697.9 514.0L1698.5 515.4L1699.0 516.8L1699.6 518.2L1700.1 519.6L1700.6 521.0L1701.1 522.4L1701.6 523.9L1702.1 525.3L1702.5 526.7L1703.0 528.2L1703.4 529.6L1703.8 531.0L1704.2 532.5L1704.6 533.9L1705.0 535.4L1705.4 536.8L1705.8 538.3L1706.2 539.7L1706.6 541.2L1707.0 542.6L1707.4 544.1L1707.8 545.5L1708.2 547.0L1708.6 548.4L1709.0 549.9L1709.4 551.3L1709.8 552.8L1710.2 554.2L1710.6 555.7L1711.0 557.1L1711.4 558.6L1711.8 560.0L1712.2 561.5L1712.6 562.9L1712.9 564.4L1713.3 565.8L1713.7 567.3L1714.1 568.7L1714.5 570.2L1714.9 571.6L1715.3 573.1L1715.7 574.5L1716.1 576.0L1716.5 577.4L1716.9 578.9L1717.3 580.3L1717.6 581.8L1718.0 583.2L1718.4 584.7L1718.8 586.1L1719.3 587.6L1719.7 589.0L1720.1 590.4L1720.5 591.9L1720.9 593.3L1721.4 594.8L1721.8 596.2L1722.3 597.6L1722.7 599.1L1723.2 600.5L1723.6 601.9L1724.1 603.4L1724.5 604.8L1725.0 606.2L1725.5 607.6L1726.0 609.1L1726.5 610.5L1727.0 611.9L1727.5 613.3L1728.0 614.7L1728.5 616.1L1729.1 617.5L1729.6 618.9L1730.2 620.3L1730.7 621.7L1731.3 623.1L1731.9 624.5L1732.4 625.9L1733.0 627.3L1733.6 628.6L1734.2 630.0L1734.9 631.4L1735.5 632.7L1736.1 634.1L1736.8 635.4L1737.5 636.8L1738.2 638.1L1738.9 639.4L1739.7 640.7L1740.4 642.0L1741.2 643.3L1742.1 644.5L1742.9 645.8L1743.8 646.9L1744.8 648.1L1745.8 649.2L1746.9 650.2L1748.0 651.2L1749.2 652.0L1750.5 652.8L1751.8 653.4L1753.2 654.0L1754.6 654.4L1756.1 654.8L1757.6 655.0L1759.0 655.2L1760.5 655.4L1762.0 655.4L1763.5 655.4L1765.0 655.4L1766.5 655.2L1768.0 655.0L1769.4 654.6L1770.9 654.2L1772.3 653.8L1773.7 653.3L1775.1 652.8L1776.5 652.3L1777.9 651.7L1779.3 651.2L1780.7 650.6L1782.1 650.0L1783.4 649.4L1784.8 648.8L1786.2 648.2L1787.6 647.6L1789.0 647.0L1790.4 646.5L1791.8 645.9L1793.2 645.4L1794.6 644.9L1796.0 644.4L1797.4 643.9L1798.8 643.4L1800.3 642.9L1801.7 642.4L1803.1 641.9L1804.5 641.5L1806.0 641.0L1807.4 640.6L1808.8 640.2L1810.3 639.8L1811.7 639.4L1813.2 639.0L1814.6 638.6L1816.1 638.2L1817.5 637.8L1819.0 637.5L1820.5 637.1L1821.9 636.7L1823.4 636.4L1824.8 636.0L1826.3 635.6L1827.7 635.3L1829.2 634.9L1830.7 634.6L1832.1 634.2L1833.6 633.9L1835.1 633.6L1836.5 633.2L1838.0 632.9L1839.4 632.5L1840.9 632.2L1842.4 631.9L1843.8 631.6L1845.3 631.3L1846.8 630.9L1848.3 630.6L1849.7 630.3L1851.2 630.0L1852.7 629.8L1854.2 629.5L1855.6 629.2L1857.1 629.0L1858.6 628.7L1860.1 628.5L1861.6 628.3L1863.1 628.1L1864.5 627.9L1866.0 627.7L1867.5 627.6L1869.0 627.4L1870.5 627.3L1872.0 627.2L1873.5 627.0L1875.0 626.9L1876.5 626.8L1878.0 626.7L1879.5 626.5L1881.0 626.4L1882.5 626.3L1884.0 626.2L1885.5 626.1L1887.0 626.0L1888.5 625.9L1890.0 625.8L1891.5 625.7L1893.0 625.6L1894.5 625.5L1896.0 625.4L1897.5 625.4L1899.0 625.3L1900.5 625.2L1902.0 625.1L1903.5 625.1L1905.0 625.0L1906.5 624.9L1908.0 624.9L1909.5 624.8L1911.0 624.7L1912.5 624.7L1914.0 624.6L1915.5 624.6L1917.0 624.5L1918.5 624.5L1920.0 624.4L1921.5 624.4L1923.0 624.3L1924.5 624.3L1926.0 624.2" fill="none" stroke="#ff0000" stroke-width="3.3" stroke-dasharray="34 9 10 9"/>
<path d="M1525.0 798.5L1526.5 798.5L1528.0 798.4L1529.5 798.4L1531.0 798.4L1532.5 798.3L1534.0 798.3L1535.5 798.3L1537.0 798.2L1538.5 798.2L1540.0 798.1L1541.5 798.1L1543.0 798.1L1544.5 798.0L1546.0 798.0L1547.5 798.0L1549.0 797.9L1550.5 797.9L1552.0 797.9L1553.5 797.8L1555.0 797.8L1556.5 797.8L1558.0 797.7L1559.5 797.7L1561.0 797.6L1562.5 797.6L1564.0 797.6L1565.5 797.5L1567.0 797.5L1568.5 797.4L1570.0 797.4L1571.5 797.4L1573.0 797.3L1574.5 797.3L1576.0 797.2L1577.5 797.2L1579.0 797.2L1580.5 797.1L1582.0 797.1L1583.5 797.0L1585.0 796.9L1586.5 796.8L1588.0 796.7L1589.5 796.5L1590.9 796.3L1592.4 796.0L1593.9 795.7L1595.3 795.3L1596.7 794.9L1598.2 794.4L1599.6 793.9L1601.0 793.3L1602.3 792.7L1603.7 792.1L1605.0 791.4L1606.3 790.7L1607.6 789.9L1608.9 789.1L1610.1 788.3L1611.3 787.4L1612.6 786.5L1613.8 785.6L1615.0 784.7L1616.2 783.8L1617.4 782.9L1618.5 782.0L1619.7 781.0L1620.8 780.1L1622.0 779.1L1623.1 778.1L1624.2 777.0L1625.3 776.0L1626.3 775.0L1627.4 773.9L1628.5 772.9L1629.5 771.8L1630.6 770.7L1631.6 769.7L1632.7 768.6L1633.7 767.5L1634.8 766.4L1635.8 765.4L1636.9 764.3L1637.9 763.2L1639.0 762.1L1640.0 761.1L1641.1 760.0L1642.1 758.9L1643.2 757.9L1644.2 756.8L1645.3 755.7L1646.4 754.7L1647.5 753.7L1648.5 752.6L1649.6 751.6L1650.7 750.6L1651.9 749.6L1653.0 748.6L1654.1 747.6L1655.2 746.6L1656.3 745.6L1657.5 744.6L1658.6 743.6L1659.8 742.7L1660.9 741.7L1662.1 740.7L1663.2 739.8L1664.4 738.8L1665.5 737.9L1666.7 737.0L1667.9 736.0L1669.1 735.1L1670.3 734.2L1671.5 733.3L1672.7 732.4L1673.9 731.5L1675.1 730.7L1676.4 729.8L1677.6 729.0L1678.9 728.2L1680.1 727.4L1681.4 726.6L1682.7 725.9L1684.0 725.2L1685.3 724.4L1686.6 723.6L1687.9 722.8L1689.1 722.0L1690.3 721.1L1691.5 720.2L1692.7 719.3L1693.9 718.4L1695.1 717.5L1696.3 716.5L1697.4 715.6L1698.6 714.6L1699.7 713.6L1700.8 712.7L1702.0 711.7L1703.1 710.6L1704.2 709.6L1705.3 708.6L1706.4 707.6L1707.5 706.6L1708.5 705.5L1709.6 704.5L1710.7 703.4L1711.8 702.4L1712.8 701.3L1713.9 700.2L1714.9 699.1L1715.9 698.0L1716.9 696.9L1717.9 695.8L1718.8 694.6L1719.7 693.4L1720.6 692.2L1721.4 691.0L1722.2 689.7L1723.0 688.4L1723.7 687.1L1724.3 685.7L1725.0 684.4L1725.6 683.0L1726.2 681.7L1726.9 680.3L1727.5 678.9L1728.0 677.5L1728.6 676.1L1729.2 674.8L1729.8 673.4L1730.4 672.0L1730.9 670.6L1731.5 669.2L1732.0 667.8L1732.6 666.4L1733.1 665.0L1733.6 663.6L1734.2 662.2L1734.7 660.8L1735.2 659.4L1735.8 658.0L1736.3 656.6L1736.8 655.2L1737.4 653.8L1737.9 652.4L1738.4 651.0L1738.9 649.6L1739.4 648.2L1739.9 646.8L1740.4 645.3L1740.9 643.9L1741.4 642.5L1741.9 641.1L1742.4 639.6L1742.8 638.2L1743.3 636.8L1743.7 635.4L1744.2 633.9L1744.6 632.5L1745.1 631.1L1745.5 629.6L1745.9 628.2L1746.4 626.8L1746.8 625.3L1747.2 623.9L1747.6 622.4L1748.1 621.0L1748.5 619.6L1748.9 618.1L1749.3 616.7L1749.7 615.2L1750.1 613.8L1750.5 612.4L1750.9 610.9L1751.4 609.5L1751.8 608.0L1752.2 606.6L1752.6 605.1L1753.0 603.7L1753.4 602.2L1753.8 600.8L1754.2 599.3L1754.6 597.9L1755.0 596.5L1755.4 595.0L1755.8 593.6L1756.2 592.1L1756.6 590.7L1757.0 589.2L1757.4 587.8L1757.8 586.3L1758.2 584.9L1758.6 583.4L1759.0 582.0L1759.3 580.5L1759.7 579.1L1760.1 577.6L1760.5 576.2L1760.8 574.7L1761.2 573.3L1761.5 571.8L1761.9 570.4L1762.2 568.9L1762.5 567.4L1762.9 566.0L1763.2 564.5L1763.5 563.0L1763.9 561.6L1764.2 560.1L1764.5 558.6L1764.8 557.2L1765.1 555.7L1765.4 554.2L1765.7 552.8L1766.1 551.3L1766.4 549.8L1766.7 548.4L1767.0 546.9L1767.3 545.4L1767.6 544.0L1767.9 542.5L1768.2 541.0L1768.5 539.6L1768.8 538.1L1769.2 536.6L1769.5 535.2L1769.8 533.7L1770.1 532.2L1770.4 530.8L1770.8 529.3L1771.1 527.8L1771.4 526.4L1771.7 524.9L1772.1 523.5L1772.4 522.0L1772.8 520.5L1773.1 519.1L1773.4 517.6L1773.8 516.1L1774.1 514.7L1774.5 513.2L1774.8 511.8L1775.2 510.3L1775.5 508.9L1775.9 507.4L1776.3 505.9L1776.6 504.5L1777.0 503.0L1777.4 501.6L1777.8 500.2L1778.3 498.7L1778.7 497.3L1779.2 495.9L1779.6 494.4L1780.1 493.0L1780.6 491.6L1781.1 490.2L1781.7 488.8L1782.3 487.4L1782.8 486.0L1783.4 484.6L1784.0 483.3L1784.7 481.9L1785.3 480.6L1785.9 479.2L1786.6 477.8L1787.3 476.5L1787.9 475.2L1788.6 473.8L1789.4 472.5L1790.1 471.2L1790.9 470.0L1791.7 468.7L1792.6 467.5L1793.5 466.4L1794.5 465.4L1795.7 464.6L1796.9 464.1L1798.2 463.9L1799.5 464.1L1800.7 464.5L1802.0 465.2L1803.1 466.1L1804.2 467.1L1805.2 468.2L1806.1 469.4L1807.0 470.6L1807.8 471.9L1808.5 473.2L1809.2 474.5L1809.9 475.8L1810.6 477.2L1811.2 478.5L1811.9 479.9L1812.5 481.2L1813.1 482.6L1813.7 484.0L1814.2 485.4L1814.8 486.8L1815.3 488.2L1815.9 489.6L1816.4 491.0L1816.9 492.4L1817.4 493.8L1817.9 495.2L1818.4 496.6L1818.9 498.0L1819.4 499.5L1819.9 500.9L1820.4 502.3L1820.9 503.7L1821.3 505.1L1821.8 506.6L1822.3 508.0L1822.8 509.4L1823.3 510.8L1823.7 512.3L1824.2 513.7L1824.7 515.1L1825.1 516.5L1825.6 518.0L1826.1 519.4L1826.6 520.8L1827.0 522.2L1827.5 523.6L1828.0 525.1L1828.5 526.5L1829.0 527.9L1829.5 529.3L1830.1 530.7L1830.6 532.1L1831.1 533.5L1831.7 534.9L1832.2 536.3L1832.7 537.7L1833.3 539.1L1833.8 540.5L1834.4 541.9L1834.9 543.3L1835.5 544.7L1836.0 546.1L1836.6 547.5L1837.1 548.9L1837.7 550.3L1838.2 551.7L1838.7 553.1L1839.3 554.5L1839.8 555.9L1840.3 557.3L1840.8 558.7L1841.4 560.1L1841.9 561.5L1842.4 562.9L1842.9 564.3L1843.5 565.7L1844.0 567.1L1844.5 568.5L1845.1 569.9L1845.6 571.3L1846.1 572.7L1846.6 574.2L1847.1 575.6L1847.7 577.0L1848.2 578.3L1848.8 579.7L1849.4 581.1L1850.0 582.5L1850.7 583.8L1851.4 585.1L1852.1 586.4L1852.9 587.7L1853.7 589.0L1854.5 590.3L1855.3 591.5L1856.1 592.8L1857.0 594.0L1857.9 595.2L1858.8 596.4L1859.7 597.6L1860.6 598.8L1861.5 600.0L1862.5 601.1L1863.4 602.3L1864.4 603.4L1865.5 604.5L1866.5 605.6L1867.6 606.6L1868.7 607.5L1869.9 608.4L1871.2 609.3L1872.4 610.1L1873.8 610.8L1875.1 611.4L1876.4 612.1L1877.8 612.7L1879.2 613.2L1880.6 613.8L1882.0 614.3L1883.4 614.8L1884.9 615.2L1886.3 615.7L1887.7 616.1L1889.2 616.5L1890.6 616.9L1892.1 617.2L1893.5 617.6L1895.0 618.0L1896.5 618.3L1897.9 618.6L1899.4 619.0L1900.9 619.2L1902.3 619.5L1903.8 619.8L1905.3 620.1L1906.8 620.3L1908.2 620.6L1909.7 620.8L1911.2 621.1L1912.7 621.4L1914.2 621.6L1915.6 621.8L1917.1 622.1L1918.6 622.3L1920.1 622.6L1921.6 622.8L1923.0 623.0L1924.5 623.3L1926.0 623.5" fill="none" stroke="#ff0000" stroke-width="3.3" stroke-dasharray="34 9 10 9"/>
<path d="M1525.0 798.5L1526.5 798.5L1528.0 798.4L1529.5 798.4L1531.0 798.4L1532.5 798.3L1534.0 798.3L1535.5 798.3L1537.0 798.2L1538.5 798.2L1540.0 798.1L1541.5 798.1L1543.0 798.1L1544.5 798.0L1546.0 798.0L1547.6 798.0L1549.1 797.9L1550.6 797.9L1552.1 797.9L1553.6 797.8L1555.1 797.8L1556.6 797.7L1558.1 797.7L1559.6 797.7L1561.1 797.6L1562.6 797.6L1564.1 797.6L1565.6 797.5L1567.1 797.5L1568.6 797.4L1570.1 797.4L1571.6 797.3L1573.1 797.3L1574.6 797.3L1576.1 797.2L1577.6 797.2L1579.1 797.2L1580.6 797.1L1582.1 797.1L1583.6 797.0L1585.1 796.9L1586.6 796.8L1588.1 796.7L1589.6 796.5L1591.1 796.2L1592.6 796.0L1594.0 795.6L1595.5 795.2L1596.9 794.8L1598.3 794.3L1599.7 793.8L1601.1 793.2L1602.5 792.6L1603.9 792.0L1605.2 791.3L1606.5 790.6L1607.8 789.8L1609.0 789.0L1610.3 788.1L1611.5 787.3L1612.7 786.4L1614.0 785.5L1615.2 784.6L1616.4 783.7L1617.5 782.8L1618.7 781.8L1619.9 780.9L1621.0 779.9L1622.1 778.9L1623.3 777.9L1624.4 776.9L1625.4 775.8L1626.5 774.8L1627.6 773.7L1628.7 772.7L1629.7 771.6L1630.8 770.5L1631.8 769.5L1632.9 768.4L1633.9 767.3L1635.0 766.2L1636.0 765.1L1637.1 764.1L1638.1 763.0L1639.2 761.9L1640.2 760.8L1641.3 759.8L1642.3 758.7L1643.4 757.6L1644.5 756.6L1645.5 755.5L1646.6 754.5L1647.7 753.4L1648.8 752.4L1649.9 751.4L1651.0 750.3L1652.1 749.3L1653.2 748.3L1654.3 747.3L1655.4 746.3L1656.6 745.3L1657.7 744.3L1658.8 743.3L1660.0 742.4L1661.1 741.4L1662.3 740.4L1663.5 739.5L1664.7 738.6L1665.9 737.7L1667.1 736.8L1668.3 735.9L1669.6 735.1L1670.8 734.3L1672.1 733.5L1673.4 732.8L1674.7 732.0L1676.0 731.3L1677.3 730.5L1678.6 729.8L1679.9 729.0L1681.2 728.2L1682.5 727.4L1683.7 726.6L1685.0 725.8L1686.2 724.9L1687.5 724.0L1688.7 723.2L1689.9 722.3L1691.1 721.4L1692.3 720.5L1693.5 719.5L1694.6 718.5L1695.7 717.6L1696.8 716.5L1697.9 715.5L1699.0 714.4L1700.0 713.3L1701.0 712.2L1701.9 711.0L1702.9 709.9L1703.8 708.7L1704.6 707.4L1705.5 706.2L1706.3 704.9L1707.1 703.7L1707.9 702.4L1708.6 701.1L1709.4 699.8L1710.2 698.5L1711.0 697.2L1711.8 695.9L1712.6 694.7L1713.4 693.4L1714.3 692.2L1715.2 691.0L1716.0 689.8L1716.9 688.5L1717.8 687.3L1718.7 686.1L1719.6 684.9L1720.5 683.7L1721.3 682.5L1722.2 681.2L1723.0 679.9L1723.8 678.7L1724.5 677.4L1725.2 676.0L1725.8 674.7L1726.5 673.3L1727.1 671.9L1727.7 670.5L1728.3 669.2L1729.0 667.8L1729.6 666.5L1730.3 665.2L1731.1 663.8L1731.8 662.5L1732.5 661.2L1733.3 659.9L1734.0 658.6L1734.8 657.3L1735.5 656.0L1736.3 654.7L1737.0 653.4L1737.8 652.1L1738.5 650.8L1739.3 649.5L1740.0 648.2L1740.7 646.9L1741.4 645.5L1742.1 644.2L1742.8 642.9L1743.5 641.5L1744.2 640.2L1744.9 638.9L1745.7 637.6L1746.4 636.3L1747.2 635.0L1748.0 633.7L1748.9 632.5L1749.9 631.4L1750.9 630.3L1752.0 629.2L1753.1 628.2L1754.2 627.2L1755.3 626.2L1756.5 625.3L1757.6 624.3L1758.8 623.5L1760.1 622.6L1761.4 621.9L1762.7 621.2L1764.1 620.6L1765.5 620.0L1766.9 619.6L1768.3 619.3L1769.8 619.2L1771.2 619.2L1772.7 619.4L1774.2 619.6L1775.6 620.0L1777.1 620.4L1778.5 620.9L1779.9 621.4L1781.3 622.0L1782.7 622.6L1784.1 623.1L1785.5 623.7L1786.8 624.3L1788.2 624.9L1789.6 625.5L1791.0 626.2L1792.3 626.8L1793.7 627.5L1795.0 628.1L1796.3 628.8L1797.7 629.5L1799.0 630.2L1800.3 631.0L1801.7 631.6L1803.0 632.3L1804.4 633.0L1805.7 633.6L1807.1 634.2L1808.5 634.7L1809.9 635.3L1811.3 635.7L1812.8 636.1L1814.2 636.3L1815.7 636.4L1817.2 636.5L1818.7 636.4L1820.2 636.3L1821.7 636.1L1823.2 635.9L1824.6 635.6L1826.1 635.4L1827.6 635.1L1829.1 634.8L1830.5 634.5L1832.0 634.1L1833.5 633.8L1834.9 633.5L1836.4 633.2L1837.9 632.8L1839.3 632.5L1840.8 632.2L1842.3 631.9L1843.8 631.6L1845.2 631.3L1846.7 631.1L1848.2 630.8L1849.7 630.6L1851.2 630.3L1852.7 630.1L1854.1 629.9L1855.6 629.7L1857.1 629.4L1858.6 629.2L1860.1 629.0L1861.6 628.8L1863.1 628.6L1864.6 628.4L1866.1 628.2L1867.6 628.0L1869.0 627.8L1870.5 627.6L1872.0 627.5L1873.5 627.3L1875.0 627.1L1876.5 626.9L1878.0 626.8L1879.5 626.6L1881.0 626.4L1882.5 626.3L1884.0 626.1L1885.5 625.9L1887.0 625.8L1888.5 625.7L1890.0 625.5L1891.5 625.4L1893.0 625.3L1894.5 625.1L1896.0 625.0L1897.5 624.9L1899.0 624.8L1900.5 624.7L1902.0 624.6L1903.5 624.6L1905.0 624.5L1906.5 624.4L1908.0 624.3L1909.5 624.2L1911.0 624.2L1912.5 624.1L1914.0 624.0L1915.5 624.0L1917.0 623.9L1918.5 623.8L1920.0 623.8L1921.5 623.7L1923.0 623.6L1924.5 623.6L1926.0 623.5" fill="none" stroke="#00f000" stroke-width="4" stroke-dasharray="16 10"/>
<path d="M1760.0 668.0L1761.3 667.2L1762.6 666.4L1763.8 665.7L1765.1 664.9L1766.4 664.1L1767.7 663.3L1769.0 662.5L1770.3 661.8L1771.5 661.0L1772.8 660.2L1774.1 659.4L1775.4 658.6L1776.7 657.9L1777.9 657.1L1779.2 656.3L1780.5 655.5L1781.7 654.7L1783.0 653.9L1784.3 653.1L1785.5 652.3L1786.8 651.5L1788.1 650.6L1789.3 649.8L1790.5 649.0L1791.8 648.1L1793.0 647.2L1794.2 646.4L1795.4 645.5L1796.6 644.6L1797.8 643.7L1799.0 642.8L1800.2 641.8L1801.4 640.9L1802.6 640.0L1803.7 639.0L1804.9 638.1L1806.0 637.1L1807.1 636.1L1808.2 635.1L1809.3 634.0L1810.4 633.0L1811.4 631.9L1812.4 630.8L1813.4 629.7L1814.4 628.5L1815.4 627.4L1816.3 626.3L1817.3 625.1L1818.2 623.9L1819.2 622.8L1820.1 621.6L1821.0 620.4L1822.0 619.2L1822.9 618.1L1823.8 616.9L1824.7 615.7L1825.6 614.5L1826.5 613.2L1827.4 612.0L1828.2 610.8L1829.1 609.6L1830.0 608.4L1830.9 607.2L1831.8 606.0L1832.7 604.8L1833.7 603.6L1834.6 602.5L1835.6 601.4L1836.6 600.3L1837.7 599.2L1838.7 598.1L1839.8 597.1L1840.9 596.0L1842.0 595.0L1843.1 594.0L1844.2 593.1L1845.4 592.1L1846.6 591.2L1847.9 590.4L1849.1 589.6L1850.5 588.9L1851.8 588.2L1853.2 587.6L1854.6 587.1L1856.0 586.6L1857.4 586.3L1858.9 586.0L1860.3 585.7L1861.8 585.6L1863.3 585.6L1864.8 585.7L1866.2 585.9L1867.7 586.3L1869.1 586.7L1870.5 587.2L1871.9 587.8L1873.2 588.5L1874.5 589.2L1875.8 589.9L1877.1 590.7L1878.4 591.5L1879.6 592.4L1880.8 593.2L1882.0 594.1L1883.2 595.1L1884.3 596.1L1885.4 597.1L1886.5 598.1L1887.6 599.1L1888.7 600.1L1889.8 601.1L1890.9 602.2L1892.1 603.1L1893.2 604.1L1894.4 605.0L1895.6 605.9L1896.8 606.8L1898.0 607.7L1899.3 608.5L1900.5 609.3L1901.8 610.1L1903.1 610.9L1904.4 611.7L1905.6 612.4L1907.0 613.2L1908.3 613.9L1909.6 614.6L1910.9 615.3L1912.3 615.9L1913.6 616.6L1915.0 617.2L1916.4 617.8L1917.7 618.5L1919.1 619.0L1920.5 619.6L1921.9 620.2L1923.2 620.8L1924.6 621.4L1926.0 622.0" fill="none" stroke="#00f000" stroke-width="4" stroke-dasharray="16 10"/>
<path d="M1525.0 798.5L1526.5 798.5L1528.0 798.4L1529.5 798.4L1531.0 798.4L1532.5 798.3L1534.0 798.3L1535.5 798.3L1537.0 798.2L1538.5 798.2L1540.0 798.1L1541.5 798.1L1543.0 798.1L1544.5 798.0L1546.0 798.0L1547.5 798.0L1549.1 797.9L1550.6 797.9L1552.1 797.9L1553.6 797.8L1555.1 797.8L1556.6 797.7L1558.1 797.7L1559.6 797.7L1561.1 797.6L1562.6 797.6L1564.1 797.6L1565.6 797.5L1567.1 797.5L1568.6 797.4L1570.1 797.4L1571.6 797.3L1573.1 797.3L1574.6 797.3L1576.1 797.2L1577.6 797.2L1579.1 797.1L1580.6 797.1L1582.1 797.0L1583.6 797.0L1585.1 796.9L1586.6 796.8L1588.1 796.6L1589.6 796.5L1591.1 796.3L1592.6 796.1L1594.1 795.9L1595.6 795.6L1597.0 795.3L1598.5 794.9L1599.9 794.5L1601.3 794.0L1602.7 793.5L1604.1 792.9L1605.5 792.2L1606.8 791.5L1608.1 790.8L1609.4 790.0L1610.7 789.2L1611.9 788.4L1613.2 787.6L1614.4 786.7L1615.7 785.9L1616.9 785.0L1618.1 784.2L1619.3 783.3L1620.5 782.4L1621.7 781.4L1622.9 780.5L1624.0 779.5L1625.1 778.5L1626.2 777.5L1627.3 776.5L1628.4 775.4L1629.5 774.4L1630.6 773.4L1631.7 772.3L1632.8 771.3L1633.8 770.2L1634.9 769.1L1636.0 768.1L1637.0 767.0L1638.1 766.0L1639.2 764.9L1640.3 763.9L1641.4 762.8L1642.4 761.8L1643.5 760.8L1644.6 759.7L1645.7 758.7L1646.8 757.7L1648.0 756.7L1649.1 755.7L1650.2 754.7L1651.4 753.7L1652.5 752.8L1653.7 751.8L1654.8 750.8L1656.0 749.8L1657.1 748.9L1658.3 747.9L1659.4 747.0L1660.6 746.0L1661.8 745.1L1663.0 744.2L1664.2 743.3L1665.4 742.3L1666.6 741.4L1667.8 740.6L1669.0 739.7L1670.2 738.8L1671.5 738.0L1672.8 737.2L1674.1 736.5L1675.4 735.7L1676.7 735.0L1678.0 734.3L1679.4 733.7L1680.8 733.0L1682.1 732.4L1683.5 731.7L1684.8 731.1L1686.2 730.4L1687.5 729.7L1688.8 729.1L1690.2 728.4L1691.5 727.7L1692.9 727.0L1694.2 726.3L1695.5 725.6L1696.9 724.9L1698.2 724.2L1699.5 723.5L1700.8 722.8L1702.2 722.1L1703.5 721.4L1704.8 720.6L1706.1 719.9L1707.4 719.2L1708.8 718.5L1710.1 717.7L1711.4 717.0L1712.7 716.3L1714.0 715.5L1715.3 714.8L1716.6 714.0L1717.9 713.3L1719.2 712.5L1720.5 711.8L1721.8 711.0L1723.1 710.2L1724.3 709.4L1725.6 708.6L1726.9 707.7L1728.1 706.9L1729.3 706.1L1730.6 705.2L1731.8 704.3L1733.0 703.4L1734.2 702.5L1735.4 701.6L1736.6 700.7L1737.8 699.7L1738.9 698.8L1740.1 697.8L1741.2 696.9L1742.4 695.9L1743.5 694.9L1744.6 693.9L1745.8 692.9L1746.9 691.9L1748.0 690.9L1749.1 689.9L1750.2 688.8L1751.3 687.8L1752.3 686.7L1753.4 685.7L1754.4 684.6L1755.5 683.5L1756.5 682.4L1757.6 681.3L1758.6 680.3L1759.7 679.2L1760.7 678.1L1761.8 677.0L1762.8 675.9L1763.9 674.9L1764.9 673.8L1766.0 672.8L1767.1 671.8L1768.2 670.7L1769.4 669.7L1770.5 668.7L1771.6 667.8L1772.8 666.8L1773.9 665.8L1775.1 664.9L1776.3 663.9L1777.5 663.0L1778.7 662.1L1779.9 661.2L1781.1 660.3L1782.3 659.4L1783.5 658.6L1784.8 657.7L1786.0 656.9L1787.3 656.1L1788.5 655.3L1789.8 654.4L1791.1 653.7L1792.4 652.9L1793.7 652.1L1795.0 651.4L1796.3 650.6L1797.6 649.9L1798.9 649.2L1800.2 648.5L1801.6 647.8L1802.9 647.2L1804.3 646.5L1805.6 645.9L1807.0 645.2L1808.4 644.6L1809.8 644.0L1811.1 643.4L1812.5 642.8L1813.9 642.2L1815.3 641.6L1816.7 641.0L1818.1 640.5L1819.5 639.9L1820.9 639.4L1822.3 638.9L1823.7 638.3L1825.1 637.8L1826.5 637.3L1827.9 636.8L1829.4 636.4L1830.8 635.9L1832.2 635.5L1833.7 635.1L1835.1 634.6L1836.6 634.2L1838.0 633.8L1839.5 633.5L1840.9 633.1L1842.4 632.7L1843.9 632.4L1845.3 632.1L1846.8 631.7L1848.3 631.4L1849.7 631.1L1851.2 630.8L1852.7 630.5L1854.2 630.2L1855.6 630.0L1857.1 629.7L1858.6 629.4L1860.1 629.2L1861.6 628.9L1863.0 628.7L1864.5 628.5L1866.0 628.2L1867.5 628.0L1869.0 627.8L1870.5 627.6L1872.0 627.5L1873.5 627.3L1875.0 627.1L1876.5 627.0L1878.0 626.8L1879.5 626.7L1881.0 626.5L1882.5 626.4L1884.0 626.3L1885.5 626.2L1887.0 626.1L1888.5 626.0L1890.0 625.8L1891.5 625.7L1893.0 625.6L1894.5 625.5L1896.0 625.4L1897.5 625.3L1899.0 625.3L1900.5 625.2L1902.0 625.1L1903.5 625.0L1905.0 625.0L1906.5 624.9L1908.0 624.8L1909.5 624.8L1911.0 624.7L1912.5 624.7L1914.0 624.6L1915.5 624.6L1917.0 624.5L1918.5 624.5L1920.0 624.4L1921.5 624.4L1923.0 624.3L1924.5 624.3L1926.0 624.2" fill="none" stroke="#a6a6a6" stroke-width="4.2" stroke-linejoin="round"/>
<path d="M1397.8 810.8L1399.2 811.2L1400.7 811.7L1402.1 812.1L1403.5 812.6L1405.0 813.0L1406.4 813.4L1407.9 813.8L1409.3 814.1L1410.8 814.4L1412.3 814.6L1413.8 814.7L1415.3 814.8L1416.7 814.8L1418.2 814.7L1419.7 814.6L1421.2 814.4L1422.7 814.1L1424.2 813.8L1425.6 813.5L1427.1 813.2L1428.5 812.9L1430.0 812.5L1431.5 812.2L1432.9 811.9L1434.4 811.6L1435.9 811.4L1437.4 811.2L1438.9 811.0L1440.4 810.9L1441.9 810.8L1443.4 810.7L1444.9 810.7L1446.4 810.6L1447.9 810.6L1449.4 810.6L1450.9 810.6L1452.4 810.6L1453.9 810.6L1455.4 810.6L1456.9 810.5L1458.4 810.4L1459.9 810.4L1461.3 810.3L1462.8 810.1L1464.3 810.0L1465.8 809.9L1467.3 809.7L1468.8 809.6L1470.3 809.4L1471.8 809.2L1473.3 808.9L1474.7 808.7L1476.2 808.4L1477.7 808.1L1479.2 807.8L1480.6 807.4L1482.1 807.0L1483.5 806.7L1485.0 806.3L1486.4 805.8L1487.8 805.4L1489.3 805.0L1490.7 804.6L1492.2 804.1L1493.6 803.7L1495.0 803.3L1496.5 802.8L1497.9 802.4L1499.3 801.9L1500.8 801.5L1502.2 801.0L1503.6 800.5L1505.0 800.1L1506.5 799.6L1507.9 799.1L1509.3 798.7L1510.8 798.3L1512.2 797.9L1513.7 797.6L1515.1 797.3L1516.6 797.1L1518.1 797.0L1519.6 796.9L1521.1 796.8L1522.6 796.7L1524.1 796.6L1525.6 796.4L1527.1 796.2L1528.6 796.1L1530.0 795.9L1531.5 795.7L1533.0 795.4L1534.5 795.2L1536.0 795.0L1537.5 794.8L1538.9 794.5L1540.4 794.3L1541.9 794.1L1543.4 793.8L1544.9 793.6L1546.3 793.3L1547.8 793.0L1549.3 792.8L1550.8 792.5L1552.2 792.2L1553.7 791.9L1555.2 791.6L1556.6 791.3L1558.1 790.9L1559.5 790.5L1560.9 790.0L1562.3 789.4L1563.7 788.8L1564.9 788.1L1566.2 787.2L1567.4 786.3L1568.5 785.4L1569.6 784.3L1570.6 783.2L1571.6 782.1L1572.5 781.0L1573.5 779.8L1574.4 778.6L1575.3 777.4L1576.2 776.2L1577.1 775.0L1577.9 773.7L1578.7 772.5L1579.5 771.2L1580.3 769.9L1581.0 768.6L1581.7 767.3L1582.4 766.0L1583.1 764.6L1583.7 763.2L1584.3 761.9L1584.9 760.5L1585.5 759.1L1586.0 757.7L1586.6 756.3L1587.2 754.9L1587.7 753.5L1588.2 752.1L1588.7 750.7L1589.2 749.3L1589.7 747.9L1590.2 746.5L1590.7 745.0L1591.1 743.6L1591.5 742.2L1591.9 740.7L1592.3 739.3L1592.6 737.8L1592.9 736.3L1593.2 734.9L1593.5 733.4L1593.7 731.9L1594.0 730.4L1594.2 728.9L1594.5 727.5L1594.7 726.0L1594.9 724.5L1595.1 723.0L1595.4 721.5L1595.6 720.0L1595.8 718.6L1596.0 717.1L1596.3 715.6L1596.5 714.1L1596.7 712.6L1596.9 711.1L1597.2 709.7L1597.4 708.2L1597.6 706.7L1597.8 705.2L1598.0 703.7L1598.2 702.2L1598.5 700.8L1598.7 699.3L1598.9 697.8L1599.1 696.3L1599.3 694.8L1599.5 693.3L1599.7 691.8L1599.9 690.4L1600.2 688.9L1600.4 687.4L1600.6 685.9L1600.8 684.4L1601.0 682.9L1601.2 681.4L1601.4 680.0L1601.6 678.5L1601.8 677.0L1602.0 675.5L1602.1 674.0L1602.3 672.5L1602.5 671.0L1602.7 669.5L1602.8 668.0L1603.0 666.5L1603.2 665.1L1603.4 663.6L1603.5 662.1L1603.7 660.6L1603.9 659.1L1604.0 657.6L1604.2 656.1L1604.3 654.6L1604.5 653.1L1604.7 651.6L1604.8 650.1L1605.0 648.6L1605.1 647.2L1605.3 645.7L1605.4 644.2L1605.6 642.7L1605.7 641.2L1605.8 639.7L1606.0 638.2L1606.1 636.7L1606.2 635.2L1606.4 633.7L1606.5 632.2L1606.6 630.7L1606.7 629.2L1606.8 627.7L1606.9 626.2L1607.0 624.7L1607.1 623.2L1607.2 621.7L1607.3 620.2L1607.3 618.7L1607.4 617.2L1607.5 615.7L1607.6 614.2L1607.6 612.7L1607.7 611.2L1607.8 609.7L1607.9 608.2L1607.9 606.7L1608.0 605.2L1608.1 603.7L1608.2 602.3L1608.3 600.8L1608.3 599.3L1608.4 597.8L1608.5 596.3L1608.6 594.8L1608.7 593.3L1608.8 591.8L1608.9 590.3L1608.9 588.8L1609.0 587.3L1609.1 585.8L1609.2 584.3L1609.3 582.8L1609.4 581.3L1609.5 579.8L1609.5 578.3L1609.6 576.8L1609.7 575.3L1609.8 573.8L1609.9 572.3L1610.0 570.8L1610.1 569.3L1610.1 567.8L1610.2 566.3L1610.3 564.8L1610.4 563.3L1610.5 561.8L1610.6 560.3L1610.7 558.8L1610.7 557.3L1610.8 555.8L1610.9 554.3L1611.0 552.8L1611.1 551.3L1611.2 549.8L1611.3 548.3L1611.4 546.8L1611.5 545.3L1611.5 543.8L1611.6 542.3L1611.7 540.8L1611.8 539.3L1611.9 537.8L1612.0 536.3L1612.1 534.8L1612.2 533.3L1612.3 531.8L1612.4 530.3L1612.5 528.9L1612.6 527.4L1612.7 525.9L1612.8 524.4L1612.9 522.9L1613.0 521.4L1613.1 519.9L1613.1 518.4L1613.2 516.9L1613.3 515.4L1613.4 513.9L1613.5 512.4L1613.6 510.9L1613.7 509.4L1613.8 507.9L1613.9 506.4L1614.0 504.9L1614.1 503.4L1614.1 501.9L1614.2 500.4L1614.3 498.9L1614.4 497.4L1614.5 495.9L1614.6 494.4L1614.6 492.9L1614.7 491.4L1614.8 489.9L1614.9 488.4L1615.0 486.9L1615.0 485.4L1615.1 483.9L1615.2 482.4L1615.3 480.9L1615.3 479.4L1615.4 477.9L1615.5 476.4L1615.6 474.9L1615.6 473.4L1615.7 471.9L1615.8 470.4L1615.8 468.9L1615.9 467.4L1616.0 465.9L1616.1 464.4L1616.1 462.9L1616.2 461.4L1616.3 459.9L1616.3 458.4L1616.4 456.9L1616.5 455.4L1616.6 453.9L1616.6 452.4L1616.7 450.9L1616.8 449.4L1616.8 447.9L1616.9 446.4L1617.0 444.9L1617.1 443.4L1617.1 441.9L1617.2 440.4L1617.3 438.9L1617.4 437.5L1617.4 436.0L1617.5 434.5L1617.6 433.0L1617.7 431.5L1617.7 430.0L1617.8 428.5L1617.9 427.0L1618.0 425.5L1618.1 424.0L1618.1 422.5L1618.2 421.0L1618.3 419.5L1618.4 418.0L1618.5 416.5L1618.6 415.0L1618.6 413.5L1618.7 412.0L1618.8 410.5L1618.9 409.0L1619.0 407.5L1619.1 406.0L1619.2 404.5L1619.3 403.0L1619.3 401.5L1619.4 400.0L1619.5 398.5L1619.6 397.0L1619.7 395.5L1619.8 394.0L1619.9 392.5L1620.0 391.0L1620.1 389.5L1620.1 388.0L1620.2 386.5L1620.3 385.0L1620.4 383.5L1620.5 382.0L1620.6 380.5L1620.7 379.0L1620.8 377.5L1620.9 376.0L1620.9 374.5L1621.0 373.0L1621.1 371.5L1621.2 370.0L1621.3 368.5L1621.4 367.0L1621.5 365.5L1621.6 364.0L1621.6 362.5L1621.7 361.0L1621.8 359.6L1621.9 358.1L1622.0 356.6L1622.0 355.1L1622.1 353.6L1622.2 352.1L1622.3 350.6L1622.4 349.1L1622.4 347.6L1622.5 346.1L1622.6 344.6L1622.7 343.1L1622.8 341.6L1622.8 340.1L1622.9 338.6L1623.0 337.1L1623.1 335.6L1623.1 334.1L1623.2 332.6L1623.3 331.1L1623.4 329.6L1623.5 328.1L1623.5 326.6L1623.6 325.1L1623.7 323.6L1623.8 322.1L1623.9 320.6L1624.0 319.1L1624.0 317.6L1624.1 316.1L1624.2 314.6L1624.3 313.1L1624.4 311.6L1624.5 310.1L1624.6 308.6L1624.7 307.1L1624.8 305.6L1624.9 304.1L1625.0 302.6L1625.1 301.1L1625.2 299.6L1625.3 298.1L1625.4 296.6L1625.5 295.1L1625.6 293.6L1625.7 292.1L1625.8 290.6L1625.9 289.1L1626.0 287.7L1626.1 286.2L1626.2 284.7L1626.3 283.2L1626.5 281.7L1626.6 280.2L1626.7 278.7L1626.8 277.2L1626.9 275.7L1627.1 274.2L1627.2 272.7L1627.3 271.2L1627.5 269.7L1627.6 268.2L1627.7 266.7L1627.9 265.2L1628.0 263.7L1628.2 262.2L1628.3 260.7L1628.5 259.2L1628.6 257.8L1628.8 256.3L1628.9 254.8L1629.1 253.3L1629.3 251.8L1629.4 250.3L1629.6 248.8L1629.8 247.3L1629.9 245.8L1630.1 244.3L1630.3 242.8L1630.5 241.4L1630.7 239.9L1630.9 238.4L1631.1 236.9L1631.3 235.4L1631.5 233.9L1631.7 232.4L1632.0 231.0L1632.2 229.5L1632.5 228.0L1632.7 226.5L1633.0 225.1L1633.3 223.6L1633.7 222.1L1634.1 220.7L1634.5 219.2L1634.9 217.8L1635.4 216.4L1635.9 215.0L1636.5 213.6L1637.2 212.4L1638.0 211.2L1638.9 210.3L1639.9 209.8L1641.0 209.7L1642.0 210.0L1643.0 210.7L1644.0 211.7L1644.8 212.9L1645.5 214.2L1646.2 215.6L1646.7 216.9L1647.3 218.3L1647.8 219.7L1648.2 221.2L1648.6 222.6L1649.0 224.1L1649.3 225.5L1649.7 227.0L1650.0 228.4L1650.4 229.9L1650.7 231.4L1651.0 232.8L1651.3 234.3L1651.6 235.8L1651.9 237.3L1652.2 238.7L1652.5 240.2L1652.7 241.7L1653.0 243.2L1653.3 244.6L1653.5 246.1L1653.8 247.6L1654.0 249.1L1654.3 250.5L1654.5 252.0L1654.8 253.5L1655.0 255.0L1655.3 256.5L1655.6 257.9L1655.8 259.4L1656.1 260.9L1656.3 262.4L1656.6 263.9L1656.8 265.3L1657.1 266.8L1657.3 268.3L1657.6 269.8L1657.8 271.2L1658.1 272.7L1658.3 274.2L1658.6 275.7L1658.8 277.2L1659.1 278.6L1659.3 280.1L1659.6 281.6L1659.8 283.1L1660.0 284.6L1660.3 286.1L1660.5 287.5L1660.8 289.0L1661.0 290.5L1661.2 292.0L1661.5 293.5L1661.7 294.9L1661.9 296.4L1662.2 297.9L1662.4 299.4L1662.6 300.9L1662.9 302.4L1663.1 303.8L1663.3 305.3L1663.5 306.8L1663.8 308.3L1664.0 309.8L1664.2 311.3L1664.4 312.7L1664.7 314.2L1664.9 315.7L1665.1 317.2L1665.3 318.7L1665.5 320.2L1665.7 321.7L1665.9 323.1L1666.1 324.6L1666.3 326.1L1666.6 327.6L1666.8 329.1L1667.0 330.6L1667.2 332.1L1667.4 333.5L1667.6 335.0L1667.8 336.5L1668.0 338.0L1668.2 339.5L1668.4 341.0L1668.6 342.5L1668.9 343.9L1669.1 345.4L1669.3 346.9L1669.6 348.4L1669.8 349.9L1670.1 351.3L1670.3 352.8L1670.6 354.3L1670.9 355.8L1671.1 357.2L1671.4 358.7L1671.7 360.2L1672.0 361.7L1672.4 363.1L1672.7 364.6L1673.0 366.1L1673.4 367.5L1673.8 369.0L1674.1 370.4L1674.5 371.9L1674.9 373.3L1675.4 374.7L1675.8 376.2L1676.3 377.6L1676.7 379.0L1677.2 380.5L1677.7 381.9L1678.2 383.3L1678.7 384.7L1679.3 386.1L1679.8 387.5L1680.4 388.9L1681.0 390.3L1681.5 391.6L1682.1 393.0L1682.7 394.4L1683.4 395.8L1684.0 397.1L1684.6 398.5L1685.2 399.9L1685.9 401.2L1686.5 402.6L1687.1 403.9L1687.8 405.3L1688.4 406.7L1689.0 408.0L1689.7 409.4L1690.3 410.7L1690.9 412.1L1691.5 413.5L1692.1 414.9L1692.6 416.3L1693.2 417.7L1693.7 419.1L1694.3 420.5L1694.8 421.9L1695.3 423.3L1695.9 424.7L1696.4 426.1L1697.0 427.5L1697.5 428.9L1698.1 430.3L1698.6 431.6L1699.2 433.0L1699.9 434.4L1700.5 435.7L1701.2 437.1L1701.9 438.4L1702.7 439.7L1703.5 440.9L1704.3 442.1L1705.2 443.2L1706.3 444.0L1707.4 444.6L1708.6 444.7L1709.7 444.5L1710.8 443.8L1711.7 442.8L1712.5 441.7L1713.2 440.4L1713.8 439.0L1714.3 437.6L1714.8 436.2L1715.2 434.8L1715.6 433.3L1716.0 431.9L1716.3 430.4L1716.6 428.9L1716.9 427.5L1717.2 426.0L1717.5 424.5L1717.7 423.0L1718.0 421.6L1718.2 420.1L1718.5 418.6L1718.7 417.1L1718.9 415.6L1719.2 414.2L1719.4 412.7L1719.6 411.2L1719.8 409.7L1720.0 408.2L1720.2 406.7L1720.4 405.2L1720.6 403.7L1720.8 402.3L1721.0 400.8L1721.2 399.3L1721.3 397.8L1721.5 396.3L1721.7 394.8L1721.8 393.3L1722.0 391.8L1722.1 390.3L1722.3 388.8L1722.4 387.3L1722.6 385.9L1722.7 384.4L1722.9 382.9L1723.0 381.4L1723.1 379.9L1723.3 378.4L1723.4 376.9L1723.6 375.4L1723.7 373.9L1723.8 372.4L1724.0 370.9L1724.1 369.4L1724.2 367.9L1724.4 366.4L1724.5 364.9L1724.6 363.4L1724.8 361.9L1724.9 360.4L1725.0 359.0L1725.2 357.5L1725.3 356.0L1725.4 354.5L1725.5 353.0L1725.6 351.5L1725.8 350.0L1725.9 348.5L1726.0 347.0L1726.1 345.5L1726.2 344.0L1726.4 342.5L1726.5 341.0L1726.6 339.5L1726.7 338.0L1726.8 336.5L1727.0 335.0L1727.1 333.5L1727.2 332.0L1727.3 330.5L1727.5 329.0L1727.6 327.5L1727.7 326.1L1727.9 324.6L1728.0 323.1L1728.1 321.6L1728.3 320.1L1728.4 318.6L1728.5 317.1L1728.7 315.6L1728.8 314.1L1729.0 312.6L1729.1 311.1L1729.3 309.6L1729.4 308.1L1729.6 306.6L1729.7 305.1L1729.8 303.6L1730.0 302.2L1730.1 300.7L1730.3 299.2L1730.4 297.7L1730.6 296.2L1730.7 294.7L1730.9 293.2L1731.1 291.7L1731.2 290.2L1731.4 288.7L1731.5 287.2L1731.7 285.7L1731.8 284.2L1732.0 282.7L1732.1 281.3L1732.3 279.8L1732.4 278.3L1732.6 276.8L1732.7 275.3L1732.9 273.8L1733.0 272.3L1733.2 270.8L1733.3 269.3L1733.5 267.8L1733.6 266.3L1733.8 264.8L1733.9 263.3L1734.1 261.8L1734.2 260.4L1734.4 258.9L1734.5 257.4L1734.7 255.9L1734.8 254.4L1735.0 252.9L1735.1 251.4L1735.3 249.9L1735.4 248.4L1735.6 246.9L1735.7 245.4L1735.8 243.9L1736.0 242.4L1736.1 240.9L1736.3 239.4L1736.4 238.0L1736.6 236.5L1736.7 235.0L1736.9 233.5L1737.0 232.0L1737.2 230.5L1737.3 229.0L1737.5 227.5L1737.7 226.0L1737.8 224.5L1738.0 223.0L1738.1 221.5L1738.3 220.0L1738.5 218.6L1738.6 217.1L1738.8 215.6L1739.0 214.1L1739.1 212.6L1739.3 211.1L1739.5 209.6L1739.7 208.1L1739.8 206.6L1740.0 205.1L1740.2 203.6L1740.3 202.2L1740.5 200.7L1740.7 199.2L1740.9 197.7L1741.0 196.2L1741.2 194.7L1741.4 193.2L1741.6 191.7L1741.8 190.2L1742.0 188.7L1742.2 187.3L1742.4 185.8L1742.6 184.3L1742.8 182.8L1743.0 181.3L1743.2 179.8L1743.4 178.3L1743.6 176.9L1743.9 175.4L1744.2 173.9L1744.4 172.4L1744.7 171.0L1745.0 169.5L1745.3 168.0L1745.7 166.6L1746.0 165.1L1746.4 163.6L1746.8 162.2L1747.2 160.8L1747.7 159.3L1748.2 157.9L1748.8 156.6L1749.4 155.3L1750.1 154.1L1751.0 153.2L1752.0 152.7L1753.1 152.6L1754.2 152.9L1755.2 153.6L1756.2 154.6L1757.0 155.8L1757.8 157.0L1758.4 158.4L1759.0 159.7L1759.5 161.2L1759.9 162.6L1760.3 164.0L1760.7 165.5L1761.0 166.9L1761.4 168.4L1761.7 169.9L1762.0 171.3L1762.3 172.8L1762.6 174.3L1762.8 175.8L1763.1 177.2L1763.4 178.7L1763.7 180.2L1763.9 181.7L1764.2 183.1L1764.5 184.6L1764.7 186.1L1765.0 187.6L1765.3 189.0L1765.6 190.5L1765.8 192.0L1766.1 193.5L1766.4 194.9L1766.7 196.4L1766.9 197.9L1767.2 199.4L1767.5 200.8L1767.7 202.3L1768.0 203.8L1768.2 205.3L1768.5 206.8L1768.8 208.2L1769.0 209.7L1769.3 211.2L1769.5 212.7L1769.8 214.1L1770.1 215.6L1770.3 217.1L1770.6 218.6L1770.8 220.1L1771.1 221.5L1771.3 223.0L1771.6 224.5L1771.8 226.0L1772.1 227.5L1772.3 228.9L1772.5 230.4L1772.8 231.9L1773.0 233.4L1773.2 234.9L1773.5 236.3L1773.7 237.8L1773.9 239.3L1774.2 240.8L1774.4 242.3L1774.6 243.8L1774.9 245.2L1775.1 246.7L1775.3 248.2L1775.5 249.7L1775.8 251.2L1776.0 252.7L1776.2 254.1L1776.5 255.6L1776.7 257.1L1776.9 258.6L1777.2 260.1L1777.4 261.6L1777.6 263.0L1777.9 264.5L1778.1 266.0L1778.4 267.5L1778.6 269.0L1778.9 270.4L1779.1 271.9L1779.4 273.4L1779.6 274.9L1779.9 276.4L1780.1 277.8L1780.4 279.3L1780.6 280.8L1780.9 282.3L1781.1 283.7L1781.4 285.2L1781.7 286.7L1781.9 288.2L1782.2 289.7L1782.4 291.1L1782.7 292.6L1783.0 294.1L1783.2 295.6L1783.5 297.0L1783.8 298.5L1784.0 300.0L1784.3 301.5L1784.6 302.9L1784.9 304.4L1785.1 305.9L1785.4 307.4L1785.7 308.8L1786.0 310.3L1786.3 311.8L1786.6 313.3L1786.9 314.7L1787.2 316.2L1787.5 317.7L1787.8 319.1L1788.1 320.6L1788.4 322.1L1788.8 323.5L1789.1 325.0L1789.4 326.5L1789.7 327.9L1790.0 329.4L1790.3 330.9L1790.6 332.3L1791.0 333.8L1791.3 335.3L1791.6 336.7L1791.9 338.2L1792.2 339.7L1792.5 341.2L1792.8 342.6L1793.1 344.1L1793.4 345.6L1793.7 347.0L1794.0 348.5L1794.3 350.0L1794.6 351.4L1794.9 352.9L1795.2 354.4L1795.6 355.8L1795.9 357.3L1796.2 358.8L1796.6 360.2L1796.9 361.7L1797.3 363.1L1797.7 364.6L1798.1 366.0L1798.5 367.5L1798.9 368.9L1799.3 370.4L1799.7 371.8L1800.2 373.2L1800.6 374.7L1801.1 376.1L1801.5 377.5L1801.9 379.0L1802.4 380.4L1802.8 381.8L1803.2 383.3L1803.7 384.7L1804.1 386.2L1804.5 387.6L1804.9 389.0L1805.3 390.5L1805.7 391.9L1806.1 393.4L1806.5 394.8L1806.9 396.3L1807.3 397.7L1807.7 399.2L1808.1 400.6L1808.5 402.1L1808.9 403.5L1809.3 404.9L1809.7 406.4L1810.1 407.8L1810.5 409.3L1810.9 410.7L1811.3 412.2L1811.7 413.6L1812.1 415.1L1812.5 416.5L1813.0 418.0L1813.4 419.4L1813.8 420.8L1814.2 422.3L1814.6 423.7L1815.0 425.2L1815.4 426.6L1815.8 428.1L1816.3 429.5L1816.7 430.9L1817.1 432.4L1817.5 433.8L1817.9 435.3L1818.4 436.7L1818.8 438.1L1819.2 439.6L1819.6 441.0L1820.1 442.5L1820.5 443.9L1820.9 445.3L1821.4 446.8L1821.8 448.2L1822.2 449.6L1822.7 451.1L1823.1 452.5L1823.5 454.0L1824.0 455.4L1824.4 456.8L1824.8 458.3L1825.2 459.7L1825.7 461.1L1826.1 462.6L1826.6 464.0L1827.0 465.4L1827.4 466.9L1827.9 468.3L1828.3 469.7L1828.8 471.2L1829.2 472.6L1829.7 474.0L1830.1 475.5L1830.6 476.9L1831.0 478.3L1831.5 479.8L1832.0 481.2L1832.5 482.6L1833.0 484.0L1833.4 485.4L1833.9 486.9L1834.4 488.3L1834.9 489.7L1835.4 491.1L1835.9 492.5L1836.4 493.9L1836.9 495.3L1837.4 496.8L1838.0 498.2L1838.5 499.6L1839.0 501.0L1839.5 502.4L1840.1 503.8L1840.6 505.2L1841.2 506.6L1841.8 508.0L1842.3 509.3L1842.9 510.7L1843.5 512.1L1844.1 513.5L1844.7 514.9L1845.3 516.2L1846.0 517.6L1846.6 518.9L1847.2 520.3L1847.9 521.6L1848.5 523.0L1849.2 524.3L1849.9 525.7L1850.6 527.0L1851.2 528.4L1851.9 529.7L1852.6 531.0L1853.3 532.3L1854.1 533.7L1854.8 535.0L1855.5 536.3L1856.3 537.6L1857.0 538.9L1857.8 540.1L1858.6 541.4L1859.5 542.6L1860.3 543.9L1861.2 545.1L1862.1 546.3L1863.0 547.5L1863.9 548.7L1864.8 549.9L1865.7 551.1L1866.5 552.4L1867.3 553.6L1868.1 554.9L1868.8 556.2L1869.5 557.6L1870.2 558.9L1870.9 560.2L1871.6 561.6L1872.2 562.9L1872.9 564.2L1873.6 565.6L1874.3 566.9L1875.0 568.2L1875.8 569.5L1876.6 570.8L1877.4 572.0L1878.3 573.2L1879.2 574.4L1880.2 575.6L1881.1 576.7L1882.0 577.9L1883.0 579.1L1883.9 580.3L1884.8 581.5L1885.7 582.7L1886.6 583.9L1887.5 585.1L1888.4 586.3L1889.3 587.5L1890.2 588.6L1891.2 589.8L1892.1 590.9L1893.1 592.1L1894.1 593.2L1895.1 594.3L1896.1 595.4L1897.1 596.5L1898.2 597.6L1899.2 598.7L1900.3 599.8L1901.4 600.8L1902.5 601.8L1903.6 602.9L1904.7 603.9L1905.8 604.8L1907.0 605.8L1908.1 606.7L1909.3 607.6L1910.6 608.5L1911.8 609.3L1913.1 610.1L1914.3 610.9L1915.6 611.7L1916.9 612.5L1918.2 613.3L1919.4 614.1L1920.7 614.9L1922.0 615.7L1923.2 616.5L1924.5 617.4L1925.6 618.3L1926.7 619.3L1927.7 620.3L1928.6 621.5L1929.4 622.7L1930.1 624.1L1930.8 625.4L1931.4 626.7L1932.1 628.0L1932.9 629.3L1933.8 630.5L1934.7 631.7L1935.7 632.8L1936.8 633.8L1937.8 634.8L1939.0 635.9L1940.1 636.8L1941.3 637.8L1942.4 638.7L1943.6 639.6L1944.8 640.5L1946.0 641.4L1947.3 642.3L1948.5 643.1L1949.7 644.0L1951.0 644.8L1952.2 645.6L1953.5 646.5L1954.7 647.3L1956.0 648.1" fill="none" stroke="#ff6a13" stroke-width="3.6" stroke-dasharray="4.6 4.4"/>
<rect x="1846" y="29.8" width="293" height="399" fill="#fff" stroke="#a0a0a0" stroke-width="2.2"/>
<line x1="1859" y1="58.9" x2="1924.5" y2="58.9" stroke="#111" stroke-width="3"/>
<text transform="translate(1930.5,73.6) scale(1.03,1)" font-size="36.3" fill="#1a1a1a">70.8</text>
<line x1="1859" y1="107.4" x2="1924.5" y2="107.4" stroke="#111" stroke-width="3"/>
<text transform="translate(1930.5,123.0) scale(1.03,1)" font-size="36.3" fill="#1a1a1a">74</text>
<line x1="1873.4" y1="156.0" x2="1884" y2="156.0" stroke="#ff0000" stroke-width="3.3"/>
<line x1="1889" y1="156.0" x2="1921" y2="156.0" stroke="#ff0000" stroke-width="3.3"/>
<text transform="translate(1930.5,170.6) scale(1.03,1)" font-size="36.3" fill="#ff1a1a">72.2</text>
<line x1="1873.4" y1="204.4" x2="1884" y2="204.4" stroke="#ff0000" stroke-width="3.3"/>
<line x1="1889" y1="204.4" x2="1921" y2="204.4" stroke="#ff0000" stroke-width="3.3"/>
<text transform="translate(1930.5,219.3) scale(1.03,1)" font-size="36.3" fill="#ff1a1a">75.4</text>
<line x1="1873" y1="252.4" x2="1891" y2="252.4" stroke="#00f000" stroke-width="4"/>
<line x1="1903" y1="252.4" x2="1921" y2="252.4" stroke="#00f000" stroke-width="4"/>
<text transform="translate(1930.5,266.7) scale(1.03,1)" font-size="36.3" fill="#00e834">74.6</text>
<line x1="1873" y1="300.5" x2="1891" y2="300.5" stroke="#00f000" stroke-width="4"/>
<line x1="1903" y1="300.5" x2="1921" y2="300.5" stroke="#00f000" stroke-width="4"/>
<text transform="translate(1930.5,315.6) scale(1.03,1)" font-size="36.3" fill="#00e834">77.1</text>
<line x1="1858.6" y1="349.2" x2="1925" y2="349.2" stroke="#a6a6a6" stroke-width="4"/>
<text transform="translate(1930.5,363.0) scale(1.03,1)" font-size="36.3" fill="#a0a0a0">Background</text>
<line x1="1864" y1="397.4" x2="1920" y2="397.4" stroke="#ff6a13" stroke-width="4" stroke-dasharray="6 4"/>
<text transform="translate(1930.5,411.0) scale(1.03,1)" font-size="36.3" fill="#ff6a13">Envelope</text>
</svg></body></html>
